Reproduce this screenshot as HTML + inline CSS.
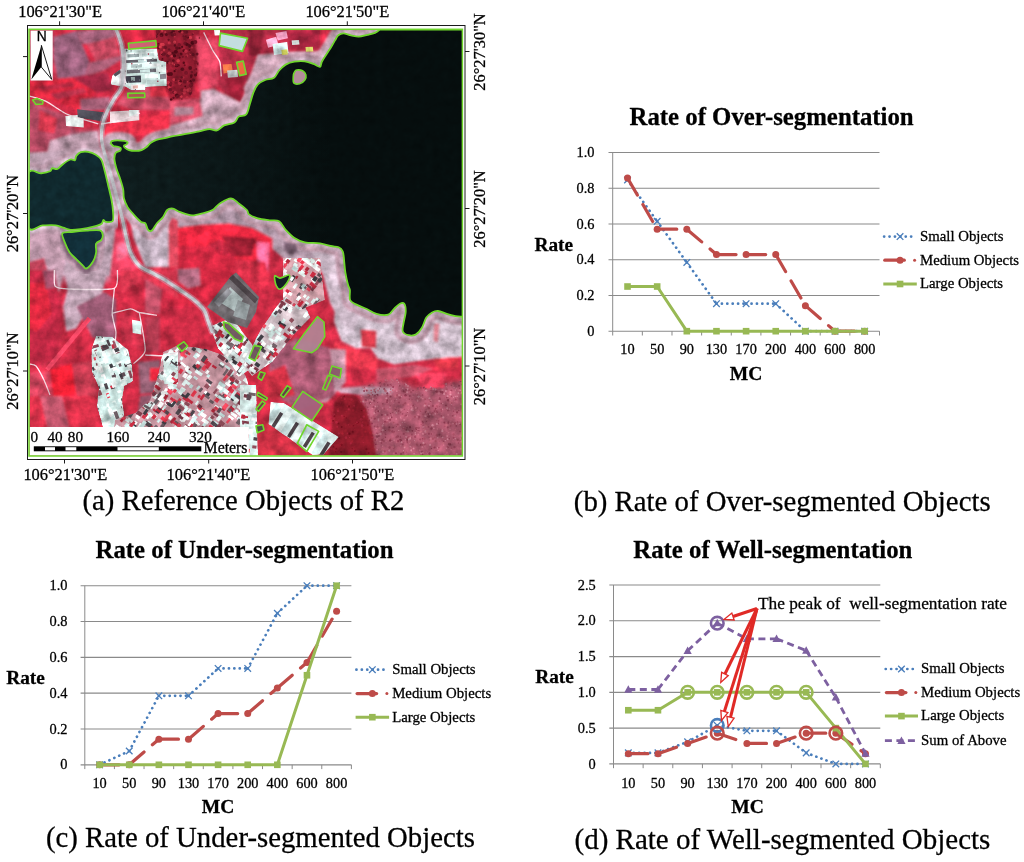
<!DOCTYPE html>
<html lang="en"><head><meta charset="utf-8"><title>Segmentation rates for R2</title>
<style>html,body{margin:0;padding:0;background:#fff}body{width:1024px;height:862px;overflow:hidden}svg{display:block}</style>
</head><body>
<svg width="1024" height="862" viewBox="0 0 1024 862" font-family="'Liberation Serif', 'DejaVu Serif', serif" fill="#000"><style>text{stroke:#000;stroke-width:0.28px;paint-order:stroke}</style>
<rect x="27.5" y="25.5" width="437.5" height="434" fill="#fff" stroke="#1a1a1a" stroke-width="1"/>
<path d="M59.6 21.3V25.5" stroke="#1a1a1a" stroke-width="1"/>
<path d="M203.5 21.3V25.5" stroke="#1a1a1a" stroke-width="1"/>
<path d="M347.3 21.3V25.5" stroke="#1a1a1a" stroke-width="1"/>
<path d="M64.5 459.5V463.5" stroke="#1a1a1a" stroke-width="1"/>
<path d="M208.7 459.5V463.5" stroke="#1a1a1a" stroke-width="1"/>
<path d="M352.5 459.5V463.5" stroke="#1a1a1a" stroke-width="1"/>
<path d="M23 56.6H27.5" stroke="#1a1a1a" stroke-width="1"/>
<path d="M23 213.5H27.5" stroke="#1a1a1a" stroke-width="1"/>
<path d="M23 371H27.5" stroke="#1a1a1a" stroke-width="1"/>
<path d="M465 51.5H469.5" stroke="#1a1a1a" stroke-width="1"/>
<path d="M465 208.5H469.5" stroke="#1a1a1a" stroke-width="1"/>
<path d="M465 366H469.5" stroke="#1a1a1a" stroke-width="1"/>
<defs>
<linearGradient id="lakeg" gradientUnits="userSpaceOnUse" x1="110" y1="0" x2="330" y2="0"><stop offset="0" stop-color="#101f20"/><stop offset="1" stop-color="#060e0e"/></linearGradient>
<clipPath id="mclip"><rect x="29.3" y="30" width="432.7" height="425.5"/></clipPath>
<filter id="landtex" x="0" y="0" width="100%" height="100%" color-interpolation-filters="sRGB">
 <feGaussianBlur in="SourceGraphic" stdDeviation="0.65" result="b"/>
 <feTurbulence type="fractalNoise" baseFrequency="0.085" numOctaves="4" seed="5" result="n"/>
 <feColorMatrix in="n" type="matrix" values="0.6 0.6 0 0 -0.1  0.6 0.6 0 0 -0.1  0.6 0.6 0 0 -0.1  0 0 0 0 1" result="g"/>
 <feComposite in="b" in2="g" operator="arithmetic" k1="0.8" k2="0.61" k3="0" k4="0"/>
</filter>
<filter id="watertex" x="0" y="0" width="100%" height="100%" color-interpolation-filters="sRGB">
 <feTurbulence type="fractalNoise" baseFrequency="0.12" numOctaves="3" seed="11" result="n"/>
 <feColorMatrix in="n" type="matrix" values="0.5 0.5 0 0 0  0.5 0.5 0 0 0  0.5 0.5 0 0 0  0 0 0 0 1" result="g"/>
 <feComposite in="SourceGraphic" in2="g" operator="arithmetic" k1="0.6" k2="0.7" k3="0" k4="0"/>
</filter>
<filter id="soft" x="-5%" y="-5%" width="110%" height="110%"><feGaussianBlur stdDeviation="0.9"/></filter>
<filter id="soft1" x="-5%" y="-5%" width="110%" height="110%"><feGaussianBlur stdDeviation="1.1"/></filter>
<filter id="soft3" x="-5%" y="-5%" width="110%" height="110%"><feGaussianBlur stdDeviation="2.6"/></filter>
</defs>
<g clip-path="url(#mclip)">
<g filter="url(#landtex)">
<rect x="20" y="20" width="460" height="450" fill="#cb2d45"/>
<g filter="url(#soft3)">
<polygon points="28.0,101.2 66.1,115.9 74.9,130.5 98.3,130.5 101.2,159.8 28.0,159.8" fill="#b86078" />
<polygon points="28.0,232.0 110.0,232.0 110.0,281.8 28.0,281.8" fill="#c4849a" />
<polygon points="28.0,270.0 61.7,270.0 63.2,313.9 57.3,363.7 28.0,372.5" fill="#c03048" />
<polygon points="360.3,387.9 394.0,376.2 414.5,387.9 473.1,379.1 473.1,475.8 360.3,475.8" fill="#a8566a" />
</g>
<g filter="url(#soft)">
<polygon points="28.0,28.0 54.4,28.0 54.4,81.5 28.0,82.2" fill="#b4364e" />
<polygon points="53.6,36.8 76.3,30.9 89.5,61.7 85.1,76.3 57.3,78.5 53.6,57.3" fill="#98607a" />
<polygon points="76.3,30.9 114.4,28.0 115.9,36.8 89.5,44.1 82.2,44.1" fill="#a6647c" />
<polygon points="86.6,44.1 115.9,36.8 119.5,55.8 96.8,63.2" fill="#c64a5e" />
<polygon points="89.5,62.4 121.7,55.8 121.7,59.5 104.2,70.5 85.1,76.3" fill="#aa5e76" />
<polygon points="71.9,77.1 107.1,71.9 113.7,89.5 96.8,92.4" fill="#a32c44" />
<polygon points="28.0,81.5 71.9,77.8 96.8,92.4 77.8,110.0 45.6,98.3 28.0,94.6" fill="#da2c40" />
<polygon points="36.8,86.6 71.9,82.2 74.9,86.6 41.2,91.0" fill="#b02a40" />
<polygon points="50.0,93.9 83.7,88.1 86.6,92.4 57.3,99.8" fill="#b4304a" />
<polygon points="80.0,99.0 110.0,96.8 110.8,109.3 80.7,111.5" fill="#9e5c72" />
<polygon points="104.2,121.7 178.0,110.0 183.3,130.5 130.5,137.1 104.2,137.1" fill="#e63049" />
<polygon points="130.5,86.6 168.6,86.6 174.5,110.0 133.5,110.0 115.9,104.2" fill="#ba4a5e" />
<polygon points="149.6,86.6 167.2,86.6 168.6,96.8 150.3,96.8" fill="#dc3448" />
<polygon points="118.8,30.2 156.9,30.2 156.9,52.9 124.7,52.9" fill="#d02c42" />
<polygon points="28.0,104.2 64.6,115.9 71.9,130.5 50.0,154.0 28.0,154.0" fill="#b04860" />
<polygon points="39.7,110.0 57.3,118.8 54.4,133.5 38.3,130.5" fill="#d83a50" />
<polygon points="50.0,140.8 71.9,134.2 98.3,130.5 101.2,159.8 45.6,159.8" fill="#bd9cac" />
<polygon points="28.0,152.9 76.3,150.0 76.3,155.9 63.2,163.9 50.0,171.2 28.0,175.6" fill="#bda0b0" />
<polygon points="28.0,166.1 44.1,163.9 48.5,170.5 28.0,174.6" fill="#9c8492" />
<polygon points="155.0,28.0 200.0,28.0 198.0,72.0 190.0,98.0 170.0,101.0 160.0,72.0" fill="#8c1c2e" />
<polygon points="196.0,36.0 220.0,40.0 218.0,86.6 199.0,92.0" fill="#df4662" />
<polygon points="218.3,28.0 320.0,28.0 320.0,55.8 290.1,60.2 257.9,61.7 246.2,91.0 231.5,101.2 218.3,86.6" fill="#b62e46" />
<polygon points="249.1,28.0 263.7,28.0 260.8,55.8 249.1,55.8" fill="#8e2034" />
<polygon points="225.7,79.3 243.2,77.8 243.2,104.2 231.5,104.2" fill="#9e2438" />
<polygon points="287.2,32.4 320.0,29.5 320.0,48.5 290.1,50.0" fill="#a82840" />
<polygon points="257.9,55.1 290.1,52.2 320.0,51.4 320.0,66.1 287.2,61.7 272.5,76.3 257.9,83.7 246.2,92.4 244.0,88.1 252.0,71.9" fill="#c4a0b0" />
<polygon points="200.8,91.0 213.9,88.8 240.3,102.7 252.0,86.6 256.4,92.4 240.3,124.7 213.9,129.1 170.0,137.1 170.0,124.7 199.3,115.9" fill="#c9a6b6" />
<polygon points="170.0,101.2 199.3,98.3 203.0,115.9 170.0,126.1" fill="#da526c" />
<polygon points="174.4,107.1 193.4,107.1 193.4,114.4 174.4,115.9" fill="#b08494" />
<polygon points="177.3,228.3 199.3,225.4 228.6,223.9 252.0,228.3 271.1,238.6 272.5,248.8 265.2,262.0 235.9,259.1 221.3,238.6 206.6,245.9 196.4,266.4 178.8,256.2" fill="#ef2c42" />
<polygon points="221.3,235.7 255.0,238.6 252.0,256.2 231.5,256.2" fill="#a22234" />
<polygon points="256.4,241.5 269.6,243.0 268.1,275.2 257.9,273.7" fill="#fb6c98" />
<polygon points="170.0,245.9 206.6,245.9 235.9,259.1 233.0,275.2 206.6,306.0 170.0,306.0" fill="#d22a42" />
<polygon points="174.4,269.4 199.3,267.9 200.8,285.5 187.6,288.4 175.9,279.6" fill="#b06a80" />
<polygon points="235.9,259.1 265.2,262.0 271.1,282.5 257.9,291.3 234.4,273.7" fill="#d83048" />
<polygon points="272.5,228.3 320.0,244.4 320.0,262.0 287.2,262.0 272.5,248.8" fill="#b9a0b0" />
<polygon points="170.0,207.8 180.3,211.5 192.0,214.9 203.7,212.5 212.5,209.3 219.8,202.7 230.8,197.6 238.8,202.7 246.9,209.3 249.1,213.7 257.9,217.8 269.6,219.5 279.1,220.7 285.7,229.1 294.5,237.1 320.0,242.7 320.0,256.2 287.2,256.2 272.5,238.6 252.0,227.6 228.6,223.2 199.3,224.7 177.3,227.6 174.4,241.5 170.0,244.4" fill="#ad94a4" />
<polygon points="129.1,214.4 149.6,232.0 165.7,214.4 178.0,211.5 178.0,240.8 168.6,267.2 145.2,267.2 133.5,237.9" fill="#c6b4c3" />
<polygon points="168.6,215.9 178.0,214.4 178.0,267.2 168.6,267.2" fill="#d8485c" />
<polygon points="104.2,232.0 124.7,232.0 130.5,252.5 139.3,267.2 118.8,276.0 104.2,276.0" fill="#ea4464" />
<polygon points="115.9,243.7 126.1,240.8 129.1,255.5 117.4,261.3" fill="#ff6c8c" />
<polygon points="28.0,232.0 61.7,232.0 61.7,276.0 28.0,276.0" fill="#c47890" />
<polygon points="28.0,240.8 45.6,237.9 57.3,252.5 57.3,276.0 28.0,276.0" fill="#d85068" />
<polygon points="28.0,227.6 63.2,227.6 66.1,246.7 76.3,267.2 86.6,276.0 96.8,261.3 104.2,232.0 115.9,223.2 110.0,276.0 57.3,276.0 54.4,243.7 28.0,237.9" fill="#bda2b2" />
<polygon points="29.0,230.0 62.0,230.0 66.0,260.0 60.0,290.0 45.0,310.0 29.0,316.0" fill="#c09aac" />
<polygon points="29.0,262.0 44.0,258.0 50.0,280.0 40.0,300.0 29.0,300.0" fill="#cc4860" />
<polygon points="64.6,270.0 107.1,270.0 102.7,292.0 89.5,306.6 76.3,328.6 66.1,331.5 63.2,306.6 67.5,289.0" fill="#bfa3b3" />
<polygon points="76.3,306.6 104.2,292.0 115.9,299.3 115.9,340.3 92.4,337.4" fill="#9c5c74" />
<polygon points="28.0,270.0 54.4,270.0 63.2,313.9 57.3,357.9 28.0,369.6" fill="#c22c44" />
<polygon points="28.0,284.6 45.6,281.7 51.4,313.9 36.8,331.5 28.0,328.6" fill="#de2c40" />
<polygon points="42.6,270.0 54.4,270.0 57.3,287.6 45.6,289.0" fill="#a05068" />
<polygon points="50.0,369.6 71.9,363.7 76.3,396.0 52.9,396.0" fill="#ee2436" />
<polygon points="28.0,372.5 50.0,371.1 52.9,396.0 28.0,396.0" fill="#d84660" />
<polygon points="71.9,363.7 91.0,360.8 98.3,396.0 76.3,396.0" fill="#c03a50" />
<polygon points="145.2,277.3 162.8,278.8 159.8,313.9 145.2,312.5" fill="#c8546c" />
<polygon points="118.8,270.0 178.0,270.0 178.0,299.3 145.2,278.8 121.7,293.4" fill="#d83850" />
<polygon points="118.8,313.9 139.3,313.9 142.3,352.0 121.7,340.3" fill="#c83048" />
<polygon points="145.2,316.9 159.8,316.9 159.8,352.0 145.2,352.0" fill="#b03a50" />
<polygon points="138.0,362.0 160.0,360.0 160.0,392.0 140.0,394.0" fill="#8e5c6e" />
<polygon points="150.0,368.0 162.0,368.0 162.0,381.0 150.0,381.0" fill="#ec2c40" />
<polygon points="140.0,396.0 156.0,394.0 152.0,412.0 138.0,412.0" fill="#94586c" />
<polygon points="29.0,396.0 95.0,396.0 100.0,430.0 29.0,430.0" fill="#d63048" />
<polygon points="40.0,396.0 62.0,396.0 70.0,430.0 48.0,430.0" fill="#c85a70" />
<polygon points="335.4,300.0 350.1,300.0 355.9,304.4 376.4,313.9 388.2,314.6 399.9,303.7 405.7,311.7 402.8,331.5 416.0,334.4 426.3,317.6 438.0,311.0 473.1,316.8 473.1,355.7 436.5,358.6 414.5,361.5 394.0,364.4 377.9,358.6 370.6,348.3 355.9,348.3 341.3,341.0 334.0,322.0" fill="#cfbfcc" />
<polygon points="298.0,236.0 320.0,242.0 340.0,246.0 346.0,260.0 349.0,290.0 352.0,302.0 362.0,308.0 354.0,332.0 340.0,322.0 330.0,303.0 323.0,275.0 312.0,252.0" fill="#c9b6c4" />
<polygon points="360.3,329.3 376.4,330.8 376.4,348.3 361.8,346.9" fill="#cf3a4a" />
<polygon points="433.6,323.4 439.4,323.4 438.0,342.5 433.6,341.0" fill="#d8808c" />
<polygon points="334.0,341.0 355.9,349.8 377.9,358.6 377.9,370.3 355.9,368.8 334.0,358.6" fill="#ea3a50" />
<polygon points="433.6,358.6 458.5,357.1 458.5,368.8 436.5,368.8" fill="#e43a4c" />
<polygon points="414.5,373.2 446.8,373.2 443.8,387.9 423.3,387.9" fill="#fb4464" />
<polygon points="376.4,368.8 414.5,364.4 433.6,368.8 414.5,376.2 394.0,379.1 376.4,382.0" fill="#c8546a" />
<polygon points="320.8,348.3 345.7,349.8 345.7,382.0 326.6,402.5 314.9,402.5" fill="#c494a6" />
<polygon points="334.0,387.9 360.3,386.4 394.0,387.9 391.1,393.7 367.7,395.2 341.3,393.7" fill="#bc94a6" />
<polygon points="270.0,352.0 296.0,338.0 330.0,348.0 335.0,395.0 300.0,410.0 268.0,392.0" fill="#a85a72" />
<polygon points="262.0,375.0 285.0,365.0 295.0,395.0 270.0,400.0" fill="#d03044" />
<polygon points="251.0,424.0 270.0,420.0 300.0,445.0 300.0,460.0 251.0,460.0" fill="#cf3044" />
</g>
<clipPath id="cp90"><polygon points="360.3,387.9 394.0,376.2 414.5,387.9 473.1,379.1 473.1,475.8 360.3,475.8"/></clipPath>
<g clip-path="url(#cp90)">
<circle cx="396.9" cy="391.2" r="1.0" fill="#bc6c7e"/>
<circle cx="453.0" cy="385.5" r="0.9" fill="#b46070"/>
<circle cx="384.6" cy="384.7" r="0.8" fill="#904054"/>
<circle cx="370.6" cy="418.5" r="1.1" fill="#bc6c7e"/>
<circle cx="467.2" cy="439.0" r="0.9" fill="#bc6c7e"/>
<circle cx="425.4" cy="415.7" r="1.2" fill="#bc6c7e"/>
<circle cx="423.1" cy="389.4" r="0.8" fill="#b46070"/>
<circle cx="373.6" cy="406.9" r="1.1" fill="#904054"/>
<circle cx="372.0" cy="433.1" r="0.6" fill="#bc6c7e"/>
<circle cx="422.1" cy="382.4" r="0.5" fill="#904054"/>
<circle cx="416.3" cy="429.1" r="1.0" fill="#88384c"/>
<circle cx="426.4" cy="421.3" r="0.7" fill="#904054"/>
<circle cx="439.2" cy="400.5" r="0.9" fill="#b46070"/>
<circle cx="416.2" cy="410.4" r="0.8" fill="#b46070"/>
<circle cx="470.9" cy="387.9" r="0.8" fill="#c07a8a"/>
<circle cx="377.5" cy="424.9" r="0.5" fill="#9a485a"/>
<circle cx="369.1" cy="431.8" r="1.1" fill="#c07a8a"/>
<circle cx="398.7" cy="411.0" r="0.8" fill="#88384c"/>
<circle cx="368.1" cy="385.5" r="0.7" fill="#9a485a"/>
<circle cx="435.2" cy="382.2" r="1.0" fill="#9a485a"/>
<circle cx="425.5" cy="444.0" r="0.8" fill="#9a485a"/>
<circle cx="403.8" cy="442.8" r="0.5" fill="#88384c"/>
<circle cx="400.4" cy="437.0" r="0.8" fill="#904054"/>
<circle cx="447.0" cy="389.1" r="0.7" fill="#88384c"/>
<circle cx="463.7" cy="425.6" r="0.6" fill="#88384c"/>
<circle cx="422.3" cy="464.2" r="1.1" fill="#b46070"/>
<circle cx="391.7" cy="417.5" r="0.8" fill="#88384c"/>
<circle cx="468.4" cy="391.2" r="0.6" fill="#904054"/>
<circle cx="434.6" cy="377.4" r="1.1" fill="#904054"/>
<circle cx="390.0" cy="376.6" r="0.8" fill="#c07a8a"/>
<circle cx="429.1" cy="407.9" r="0.6" fill="#b46070"/>
<circle cx="467.5" cy="441.4" r="1.0" fill="#88384c"/>
<circle cx="461.8" cy="453.9" r="1.1" fill="#b46070"/>
<circle cx="404.6" cy="415.9" r="0.6" fill="#9a485a"/>
<circle cx="405.5" cy="395.2" r="1.2" fill="#88384c"/>
<circle cx="378.6" cy="410.0" r="0.5" fill="#bc6c7e"/>
<circle cx="424.3" cy="429.6" r="1.2" fill="#b46070"/>
<circle cx="363.2" cy="463.3" r="0.9" fill="#904054"/>
<circle cx="431.9" cy="471.3" r="0.9" fill="#88384c"/>
<circle cx="374.2" cy="460.7" r="1.2" fill="#88384c"/>
<circle cx="414.5" cy="407.2" r="0.6" fill="#9a485a"/>
<circle cx="399.0" cy="402.5" r="1.1" fill="#904054"/>
<circle cx="418.6" cy="396.6" r="1.2" fill="#c07a8a"/>
<circle cx="376.9" cy="430.3" r="0.5" fill="#b46070"/>
<circle cx="394.0" cy="440.2" r="0.6" fill="#c07a8a"/>
<circle cx="418.8" cy="466.6" r="0.7" fill="#904054"/>
<circle cx="420.4" cy="453.8" r="0.7" fill="#904054"/>
<circle cx="429.5" cy="454.7" r="1.0" fill="#904054"/>
<circle cx="451.3" cy="457.7" r="1.0" fill="#904054"/>
<circle cx="382.9" cy="425.3" r="1.0" fill="#bc6c7e"/>
<circle cx="449.5" cy="423.2" r="0.6" fill="#b46070"/>
<circle cx="468.2" cy="420.7" r="1.2" fill="#c07a8a"/>
<circle cx="468.0" cy="412.5" r="0.7" fill="#904054"/>
<circle cx="413.4" cy="409.8" r="0.8" fill="#b46070"/>
<circle cx="455.1" cy="423.9" r="1.0" fill="#9a485a"/>
<circle cx="369.9" cy="442.0" r="1.1" fill="#9a485a"/>
<circle cx="444.9" cy="423.8" r="0.6" fill="#9a485a"/>
<circle cx="397.8" cy="455.9" r="1.2" fill="#88384c"/>
<circle cx="412.6" cy="450.2" r="0.6" fill="#904054"/>
<circle cx="379.5" cy="388.8" r="0.6" fill="#88384c"/>
<circle cx="451.3" cy="390.7" r="1.1" fill="#88384c"/>
<circle cx="434.5" cy="411.1" r="0.9" fill="#904054"/>
<circle cx="362.8" cy="455.8" r="1.0" fill="#bc6c7e"/>
<circle cx="419.7" cy="469.2" r="0.8" fill="#904054"/>
<circle cx="453.5" cy="397.2" r="0.7" fill="#c07a8a"/>
<circle cx="416.9" cy="452.2" r="0.7" fill="#b46070"/>
<circle cx="407.6" cy="389.2" r="1.1" fill="#c07a8a"/>
<circle cx="461.6" cy="442.2" r="1.1" fill="#b46070"/>
<circle cx="407.8" cy="467.6" r="0.9" fill="#b46070"/>
<circle cx="377.5" cy="427.0" r="1.1" fill="#904054"/>
<circle cx="429.0" cy="453.5" r="0.6" fill="#904054"/>
<circle cx="413.7" cy="448.4" r="0.9" fill="#c07a8a"/>
<circle cx="437.3" cy="429.0" r="0.8" fill="#bc6c7e"/>
<circle cx="460.0" cy="381.8" r="0.6" fill="#bc6c7e"/>
<circle cx="447.4" cy="426.7" r="0.9" fill="#bc6c7e"/>
<circle cx="410.3" cy="437.2" r="0.9" fill="#b46070"/>
<circle cx="382.8" cy="403.8" r="0.9" fill="#88384c"/>
<circle cx="417.6" cy="400.8" r="0.9" fill="#c07a8a"/>
<circle cx="464.4" cy="465.1" r="0.6" fill="#88384c"/>
<circle cx="375.8" cy="388.3" r="0.8" fill="#bc6c7e"/>
<circle cx="436.0" cy="418.8" r="0.6" fill="#c07a8a"/>
<circle cx="448.8" cy="465.5" r="0.6" fill="#9a485a"/>
<circle cx="432.9" cy="412.6" r="0.7" fill="#904054"/>
<circle cx="469.5" cy="398.0" r="1.2" fill="#88384c"/>
<circle cx="460.1" cy="392.4" r="1.0" fill="#904054"/>
<circle cx="378.5" cy="419.1" r="0.9" fill="#c07a8a"/>
<circle cx="407.9" cy="411.7" r="0.6" fill="#c07a8a"/>
<circle cx="362.5" cy="431.4" r="0.8" fill="#bc6c7e"/>
<circle cx="403.7" cy="427.7" r="0.7" fill="#bc6c7e"/>
<circle cx="373.1" cy="467.7" r="0.7" fill="#bc6c7e"/>
<circle cx="369.8" cy="403.3" r="1.1" fill="#904054"/>
<circle cx="390.8" cy="389.1" r="0.8" fill="#9a485a"/>
<circle cx="452.7" cy="401.9" r="0.6" fill="#b46070"/>
<circle cx="424.7" cy="445.9" r="0.6" fill="#bc6c7e"/>
<circle cx="450.5" cy="394.4" r="1.1" fill="#c07a8a"/>
<circle cx="466.2" cy="439.4" r="1.1" fill="#bc6c7e"/>
<circle cx="428.9" cy="398.3" r="0.7" fill="#bc6c7e"/>
<circle cx="411.5" cy="409.9" r="0.9" fill="#c07a8a"/>
<circle cx="430.5" cy="380.5" r="1.0" fill="#bc6c7e"/>
<circle cx="469.7" cy="402.3" r="0.6" fill="#c07a8a"/>
<circle cx="431.2" cy="429.1" r="0.6" fill="#88384c"/>
<circle cx="416.7" cy="393.9" r="0.7" fill="#bc6c7e"/>
<circle cx="472.5" cy="379.8" r="0.5" fill="#b46070"/>
<circle cx="422.5" cy="395.0" r="0.8" fill="#88384c"/>
<circle cx="372.3" cy="457.7" r="0.8" fill="#88384c"/>
<circle cx="421.9" cy="464.7" r="1.2" fill="#c07a8a"/>
<circle cx="437.9" cy="474.0" r="0.7" fill="#9a485a"/>
<circle cx="442.5" cy="390.1" r="1.2" fill="#bc6c7e"/>
<circle cx="454.7" cy="377.6" r="0.9" fill="#c07a8a"/>
<circle cx="408.9" cy="381.7" r="1.0" fill="#88384c"/>
<circle cx="458.5" cy="443.0" r="0.7" fill="#904054"/>
<circle cx="438.5" cy="380.7" r="0.6" fill="#c07a8a"/>
<circle cx="410.6" cy="402.4" r="1.2" fill="#b46070"/>
<circle cx="396.8" cy="379.6" r="1.1" fill="#904054"/>
<circle cx="400.6" cy="376.3" r="0.8" fill="#88384c"/>
<circle cx="391.8" cy="441.5" r="0.7" fill="#bc6c7e"/>
<circle cx="370.6" cy="457.5" r="0.6" fill="#b46070"/>
<circle cx="365.0" cy="378.4" r="0.7" fill="#904054"/>
<circle cx="369.9" cy="471.6" r="1.1" fill="#904054"/>
<circle cx="434.5" cy="447.5" r="1.1" fill="#88384c"/>
<circle cx="446.5" cy="448.0" r="0.8" fill="#c07a8a"/>
<circle cx="442.0" cy="440.2" r="0.5" fill="#9a485a"/>
<circle cx="460.9" cy="438.7" r="1.0" fill="#b46070"/>
<circle cx="376.0" cy="428.3" r="0.9" fill="#bc6c7e"/>
<circle cx="453.5" cy="434.3" r="1.1" fill="#9a485a"/>
<circle cx="468.2" cy="440.2" r="0.6" fill="#bc6c7e"/>
<circle cx="375.3" cy="412.1" r="0.6" fill="#88384c"/>
<circle cx="423.3" cy="438.7" r="0.9" fill="#9a485a"/>
<circle cx="387.9" cy="402.4" r="0.8" fill="#bc6c7e"/>
<circle cx="444.7" cy="426.3" r="0.9" fill="#9a485a"/>
<circle cx="419.7" cy="450.4" r="0.8" fill="#bc6c7e"/>
<circle cx="455.8" cy="399.6" r="1.0" fill="#904054"/>
<circle cx="443.8" cy="473.4" r="0.8" fill="#88384c"/>
<circle cx="369.0" cy="466.9" r="0.7" fill="#bc6c7e"/>
<circle cx="429.9" cy="440.2" r="0.6" fill="#904054"/>
<circle cx="397.8" cy="441.1" r="1.0" fill="#b46070"/>
<circle cx="424.4" cy="377.4" r="0.5" fill="#c07a8a"/>
<circle cx="470.0" cy="386.1" r="0.7" fill="#88384c"/>
<circle cx="393.1" cy="427.6" r="0.8" fill="#88384c"/>
<circle cx="446.9" cy="475.1" r="0.9" fill="#c07a8a"/>
<circle cx="470.7" cy="469.4" r="0.5" fill="#88384c"/>
<circle cx="369.0" cy="426.6" r="1.2" fill="#c07a8a"/>
<circle cx="404.0" cy="467.5" r="1.2" fill="#bc6c7e"/>
<circle cx="425.9" cy="390.3" r="0.9" fill="#c07a8a"/>
<circle cx="375.3" cy="457.9" r="0.9" fill="#bc6c7e"/>
<circle cx="439.7" cy="399.2" r="1.1" fill="#88384c"/>
<circle cx="404.8" cy="392.0" r="1.2" fill="#9a485a"/>
<circle cx="411.2" cy="406.2" r="0.6" fill="#c07a8a"/>
<circle cx="402.8" cy="388.2" r="0.7" fill="#c07a8a"/>
<circle cx="445.0" cy="459.7" r="0.6" fill="#904054"/>
<circle cx="440.8" cy="466.0" r="0.7" fill="#c07a8a"/>
<circle cx="367.7" cy="415.0" r="1.1" fill="#bc6c7e"/>
<circle cx="401.0" cy="418.8" r="0.7" fill="#bc6c7e"/>
<circle cx="392.0" cy="381.3" r="1.0" fill="#9a485a"/>
<circle cx="465.9" cy="401.0" r="0.7" fill="#b46070"/>
<circle cx="395.9" cy="453.2" r="1.0" fill="#88384c"/>
<circle cx="460.1" cy="457.0" r="0.9" fill="#b46070"/>
<circle cx="422.3" cy="447.8" r="0.5" fill="#9a485a"/>
<circle cx="406.7" cy="437.4" r="0.6" fill="#c07a8a"/>
<circle cx="415.1" cy="467.0" r="0.9" fill="#904054"/>
<circle cx="413.6" cy="410.4" r="0.7" fill="#9a485a"/>
<circle cx="443.7" cy="441.2" r="0.8" fill="#904054"/>
<circle cx="394.3" cy="431.7" r="0.8" fill="#904054"/>
<circle cx="432.9" cy="383.7" r="0.9" fill="#88384c"/>
<circle cx="422.4" cy="421.3" r="0.7" fill="#88384c"/>
<circle cx="408.5" cy="430.7" r="0.7" fill="#904054"/>
<circle cx="398.9" cy="385.2" r="0.7" fill="#c07a8a"/>
<circle cx="451.6" cy="396.3" r="0.5" fill="#88384c"/>
<circle cx="403.5" cy="450.5" r="0.6" fill="#c07a8a"/>
<circle cx="398.5" cy="382.3" r="0.7" fill="#c07a8a"/>
<circle cx="374.5" cy="426.3" r="0.9" fill="#904054"/>
<circle cx="370.8" cy="465.5" r="0.8" fill="#9a485a"/>
<circle cx="410.6" cy="471.2" r="1.1" fill="#bc6c7e"/>
<circle cx="374.7" cy="418.5" r="1.0" fill="#88384c"/>
<circle cx="469.5" cy="425.0" r="0.6" fill="#b46070"/>
<circle cx="456.8" cy="473.0" r="0.7" fill="#bc6c7e"/>
<circle cx="385.6" cy="391.3" r="1.2" fill="#bc6c7e"/>
<circle cx="466.5" cy="448.1" r="1.0" fill="#88384c"/>
<circle cx="369.9" cy="453.5" r="0.5" fill="#904054"/>
<circle cx="386.6" cy="467.8" r="1.0" fill="#c07a8a"/>
<circle cx="468.9" cy="438.6" r="0.9" fill="#88384c"/>
<circle cx="439.1" cy="387.3" r="0.5" fill="#b46070"/>
<circle cx="466.8" cy="395.3" r="0.7" fill="#b46070"/>
<circle cx="360.5" cy="429.7" r="1.2" fill="#c07a8a"/>
<circle cx="468.5" cy="440.4" r="1.1" fill="#88384c"/>
<circle cx="419.7" cy="430.7" r="0.5" fill="#88384c"/>
<circle cx="439.8" cy="406.8" r="0.5" fill="#88384c"/>
<circle cx="460.1" cy="440.6" r="0.6" fill="#904054"/>
<circle cx="435.6" cy="468.3" r="0.7" fill="#bc6c7e"/>
<circle cx="438.8" cy="447.7" r="0.8" fill="#88384c"/>
<circle cx="382.7" cy="455.6" r="1.0" fill="#b46070"/>
<circle cx="367.9" cy="425.5" r="0.6" fill="#904054"/>
<circle cx="386.4" cy="398.2" r="1.0" fill="#c07a8a"/>
<circle cx="372.6" cy="438.3" r="0.9" fill="#904054"/>
<circle cx="415.0" cy="466.8" r="0.5" fill="#b46070"/>
<circle cx="376.8" cy="415.4" r="0.6" fill="#b46070"/>
<circle cx="376.3" cy="381.3" r="0.5" fill="#88384c"/>
<circle cx="411.1" cy="447.1" r="0.7" fill="#bc6c7e"/>
<circle cx="472.8" cy="469.0" r="0.7" fill="#904054"/>
<circle cx="433.9" cy="428.4" r="0.8" fill="#c07a8a"/>
<circle cx="435.3" cy="413.9" r="0.8" fill="#c07a8a"/>
<circle cx="410.2" cy="387.0" r="0.6" fill="#bc6c7e"/>
<circle cx="400.0" cy="471.3" r="0.6" fill="#904054"/>
<circle cx="403.2" cy="452.7" r="0.7" fill="#88384c"/>
<circle cx="370.2" cy="446.4" r="0.6" fill="#b46070"/>
<circle cx="464.0" cy="395.4" r="0.8" fill="#88384c"/>
<circle cx="363.8" cy="417.1" r="1.1" fill="#88384c"/>
<circle cx="364.9" cy="379.6" r="0.5" fill="#bc6c7e"/>
<circle cx="389.3" cy="450.6" r="1.1" fill="#c07a8a"/>
<circle cx="401.3" cy="409.5" r="1.2" fill="#bc6c7e"/>
<circle cx="389.9" cy="447.5" r="0.7" fill="#c07a8a"/>
<circle cx="393.9" cy="448.0" r="0.9" fill="#9a485a"/>
<circle cx="467.1" cy="382.7" r="1.1" fill="#bc6c7e"/>
<circle cx="413.9" cy="471.5" r="1.2" fill="#88384c"/>
<circle cx="449.4" cy="467.2" r="1.1" fill="#904054"/>
<circle cx="465.0" cy="394.4" r="1.1" fill="#9a485a"/>
<circle cx="394.5" cy="445.1" r="0.6" fill="#904054"/>
<circle cx="397.3" cy="408.0" r="0.8" fill="#b46070"/>
<circle cx="369.2" cy="395.8" r="1.0" fill="#904054"/>
<circle cx="406.3" cy="440.9" r="0.8" fill="#b46070"/>
<circle cx="397.1" cy="473.8" r="1.1" fill="#bc6c7e"/>
<circle cx="390.2" cy="384.5" r="0.6" fill="#88384c"/>
<circle cx="471.8" cy="473.0" r="0.6" fill="#904054"/>
<circle cx="407.4" cy="438.0" r="1.0" fill="#9a485a"/>
<circle cx="421.1" cy="453.2" r="1.0" fill="#c07a8a"/>
<circle cx="393.5" cy="432.6" r="0.8" fill="#9a485a"/>
<circle cx="389.7" cy="419.9" r="0.6" fill="#904054"/>
<circle cx="377.6" cy="464.2" r="0.9" fill="#c07a8a"/>
<circle cx="367.6" cy="401.2" r="0.7" fill="#b46070"/>
<circle cx="386.4" cy="456.7" r="1.0" fill="#bc6c7e"/>
<circle cx="371.9" cy="423.5" r="1.1" fill="#88384c"/>
<circle cx="463.5" cy="380.2" r="0.7" fill="#bc6c7e"/>
<circle cx="366.0" cy="436.0" r="1.1" fill="#904054"/>
<circle cx="465.2" cy="413.2" r="1.1" fill="#88384c"/>
<circle cx="428.4" cy="453.4" r="1.0" fill="#bc6c7e"/>
<circle cx="372.3" cy="435.5" r="0.9" fill="#904054"/>
<circle cx="364.6" cy="410.0" r="0.5" fill="#c07a8a"/>
<circle cx="364.7" cy="449.1" r="1.1" fill="#bc6c7e"/>
<circle cx="452.7" cy="416.9" r="0.8" fill="#b46070"/>
<circle cx="395.5" cy="396.4" r="1.1" fill="#b46070"/>
<circle cx="414.9" cy="416.8" r="1.1" fill="#9a485a"/>
<circle cx="422.4" cy="439.8" r="0.6" fill="#904054"/>
<circle cx="405.2" cy="403.2" r="1.2" fill="#9a485a"/>
<circle cx="395.0" cy="471.1" r="0.7" fill="#b46070"/>
<circle cx="460.0" cy="417.4" r="0.5" fill="#c07a8a"/>
<circle cx="433.0" cy="415.1" r="0.8" fill="#bc6c7e"/>
<circle cx="409.3" cy="391.8" r="0.6" fill="#bc6c7e"/>
<circle cx="406.2" cy="464.1" r="0.8" fill="#904054"/>
<circle cx="375.0" cy="381.3" r="0.6" fill="#88384c"/>
<circle cx="370.4" cy="438.1" r="0.8" fill="#b46070"/>
<circle cx="379.7" cy="410.8" r="0.6" fill="#904054"/>
<circle cx="464.7" cy="387.0" r="0.8" fill="#904054"/>
<circle cx="394.4" cy="459.6" r="0.5" fill="#88384c"/>
<circle cx="395.8" cy="436.7" r="0.9" fill="#bc6c7e"/>
<circle cx="462.3" cy="438.0" r="1.1" fill="#904054"/>
<circle cx="432.6" cy="461.5" r="0.9" fill="#b46070"/>
<circle cx="455.8" cy="458.8" r="0.6" fill="#904054"/>
<circle cx="365.0" cy="469.7" r="0.6" fill="#c07a8a"/>
<circle cx="374.2" cy="400.8" r="1.0" fill="#904054"/>
<circle cx="365.0" cy="432.2" r="1.0" fill="#bc6c7e"/>
<circle cx="435.7" cy="408.5" r="0.8" fill="#88384c"/>
<circle cx="422.4" cy="438.6" r="0.7" fill="#88384c"/>
<circle cx="395.1" cy="401.0" r="0.8" fill="#c07a8a"/>
<circle cx="410.7" cy="419.8" r="0.5" fill="#b46070"/>
<circle cx="471.6" cy="422.5" r="0.8" fill="#b46070"/>
<circle cx="448.3" cy="421.8" r="0.6" fill="#88384c"/>
<circle cx="405.5" cy="382.9" r="0.8" fill="#c07a8a"/>
<circle cx="370.7" cy="420.2" r="0.9" fill="#bc6c7e"/>
<circle cx="364.9" cy="389.1" r="1.1" fill="#c07a8a"/>
<circle cx="448.0" cy="427.1" r="0.5" fill="#b46070"/>
<circle cx="461.3" cy="441.2" r="1.0" fill="#bc6c7e"/>
<circle cx="457.0" cy="475.4" r="1.0" fill="#bc6c7e"/>
<circle cx="382.2" cy="474.0" r="0.8" fill="#904054"/>
<circle cx="437.7" cy="448.0" r="0.7" fill="#c07a8a"/>
<circle cx="429.2" cy="401.3" r="0.7" fill="#b46070"/>
<circle cx="391.4" cy="457.4" r="0.6" fill="#b46070"/>
<circle cx="469.1" cy="424.0" r="0.9" fill="#b46070"/>
<circle cx="417.4" cy="407.9" r="0.5" fill="#904054"/>
<circle cx="405.8" cy="439.6" r="0.7" fill="#c07a8a"/>
<circle cx="461.3" cy="393.0" r="1.0" fill="#bc6c7e"/>
<circle cx="447.0" cy="381.0" r="1.1" fill="#88384c"/>
<circle cx="423.0" cy="433.9" r="1.1" fill="#bc6c7e"/>
<circle cx="388.8" cy="429.5" r="1.1" fill="#9a485a"/>
<circle cx="450.3" cy="402.5" r="1.2" fill="#b46070"/>
<circle cx="376.8" cy="409.1" r="0.6" fill="#904054"/>
<circle cx="380.3" cy="450.2" r="0.5" fill="#b46070"/>
<circle cx="388.9" cy="439.8" r="1.2" fill="#b46070"/>
<circle cx="465.1" cy="465.4" r="1.0" fill="#9a485a"/>
<circle cx="364.1" cy="391.0" r="0.9" fill="#88384c"/>
<circle cx="407.4" cy="412.4" r="0.5" fill="#88384c"/>
<circle cx="386.0" cy="441.2" r="0.5" fill="#bc6c7e"/>
<circle cx="424.3" cy="406.4" r="0.9" fill="#b46070"/>
<circle cx="385.6" cy="434.3" r="0.9" fill="#904054"/>
<circle cx="401.6" cy="458.7" r="0.6" fill="#bc6c7e"/>
<circle cx="466.0" cy="400.4" r="0.6" fill="#bc6c7e"/>
<circle cx="367.5" cy="390.6" r="1.0" fill="#c07a8a"/>
<circle cx="405.7" cy="402.5" r="0.5" fill="#9a485a"/>
<circle cx="452.9" cy="465.1" r="0.9" fill="#b46070"/>
<circle cx="410.4" cy="469.5" r="1.0" fill="#904054"/>
<circle cx="379.0" cy="376.2" r="0.5" fill="#bc6c7e"/>
<circle cx="406.1" cy="399.8" r="0.5" fill="#bc6c7e"/>
<circle cx="361.7" cy="431.0" r="1.2" fill="#904054"/>
<circle cx="406.9" cy="427.8" r="0.9" fill="#9a485a"/>
<circle cx="432.7" cy="457.2" r="0.6" fill="#c07a8a"/>
<circle cx="367.5" cy="438.5" r="1.2" fill="#9a485a"/>
<circle cx="448.6" cy="447.4" r="0.5" fill="#88384c"/>
<circle cx="444.4" cy="422.5" r="1.0" fill="#88384c"/>
<circle cx="380.1" cy="475.4" r="0.7" fill="#9a485a"/>
<circle cx="364.7" cy="409.6" r="1.0" fill="#9a485a"/>
<circle cx="466.7" cy="402.4" r="0.5" fill="#9a485a"/>
<circle cx="422.8" cy="419.6" r="1.1" fill="#b46070"/>
<circle cx="470.0" cy="405.6" r="1.1" fill="#904054"/>
<circle cx="370.0" cy="426.7" r="0.6" fill="#904054"/>
<circle cx="455.3" cy="396.4" r="0.6" fill="#c07a8a"/>
<circle cx="382.0" cy="414.9" r="0.9" fill="#88384c"/>
<circle cx="462.7" cy="439.0" r="1.0" fill="#9a485a"/>
<circle cx="455.3" cy="429.6" r="0.8" fill="#b46070"/>
<circle cx="439.0" cy="461.6" r="0.8" fill="#9a485a"/>
<circle cx="386.7" cy="464.3" r="1.1" fill="#88384c"/>
<circle cx="430.6" cy="383.9" r="1.1" fill="#904054"/>
<circle cx="364.0" cy="387.3" r="0.9" fill="#904054"/>
<circle cx="399.2" cy="390.3" r="0.5" fill="#bc6c7e"/>
<circle cx="375.9" cy="440.3" r="0.5" fill="#bc6c7e"/>
<circle cx="443.4" cy="382.7" r="0.9" fill="#c07a8a"/>
<circle cx="382.8" cy="471.2" r="0.9" fill="#9a485a"/>
<circle cx="367.8" cy="462.6" r="1.1" fill="#88384c"/>
<circle cx="372.4" cy="396.7" r="0.6" fill="#bc6c7e"/>
<circle cx="467.4" cy="466.9" r="1.0" fill="#bc6c7e"/>
<circle cx="453.4" cy="439.1" r="0.7" fill="#bc6c7e"/>
<circle cx="375.3" cy="455.1" r="1.0" fill="#c07a8a"/>
<circle cx="396.3" cy="418.4" r="0.5" fill="#c07a8a"/>
<circle cx="465.2" cy="381.0" r="1.0" fill="#c07a8a"/>
<circle cx="447.1" cy="436.1" r="0.8" fill="#c07a8a"/>
<circle cx="430.1" cy="379.3" r="0.8" fill="#88384c"/>
<circle cx="418.8" cy="386.0" r="0.8" fill="#bc6c7e"/>
<circle cx="421.0" cy="397.7" r="1.1" fill="#bc6c7e"/>
<circle cx="425.1" cy="404.8" r="0.8" fill="#b46070"/>
<circle cx="383.1" cy="452.1" r="1.2" fill="#bc6c7e"/>
<circle cx="399.6" cy="385.7" r="1.0" fill="#904054"/>
<circle cx="469.4" cy="435.2" r="1.2" fill="#b46070"/>
<circle cx="389.7" cy="470.2" r="0.7" fill="#904054"/>
<circle cx="466.2" cy="399.2" r="0.6" fill="#9a485a"/>
<circle cx="446.8" cy="425.0" r="1.2" fill="#b46070"/>
<circle cx="449.1" cy="438.7" r="0.7" fill="#88384c"/>
<circle cx="465.1" cy="465.0" r="1.0" fill="#88384c"/>
<circle cx="460.5" cy="378.7" r="0.6" fill="#c07a8a"/>
<circle cx="408.6" cy="430.4" r="0.6" fill="#9a485a"/>
<circle cx="386.7" cy="422.1" r="0.9" fill="#9a485a"/>
<circle cx="445.3" cy="440.5" r="0.7" fill="#c07a8a"/>
<circle cx="419.2" cy="462.6" r="0.8" fill="#b46070"/>
<circle cx="444.0" cy="393.1" r="0.8" fill="#c07a8a"/>
<circle cx="425.7" cy="388.7" r="0.8" fill="#9a485a"/>
<circle cx="387.2" cy="395.2" r="0.7" fill="#9a485a"/>
<circle cx="453.6" cy="437.7" r="1.0" fill="#904054"/>
<circle cx="441.9" cy="436.2" r="0.7" fill="#904054"/>
<circle cx="397.3" cy="395.0" r="1.2" fill="#9a485a"/>
<circle cx="472.6" cy="392.6" r="1.0" fill="#904054"/>
<circle cx="403.7" cy="474.2" r="1.1" fill="#9a485a"/>
<circle cx="393.9" cy="403.4" r="0.6" fill="#bc6c7e"/>
<circle cx="392.0" cy="464.3" r="0.8" fill="#bc6c7e"/>
<circle cx="405.3" cy="455.0" r="1.0" fill="#b46070"/>
<circle cx="471.0" cy="405.7" r="0.5" fill="#c07a8a"/>
<circle cx="428.4" cy="416.5" r="1.0" fill="#88384c"/>
<circle cx="439.4" cy="434.7" r="1.0" fill="#904054"/>
<circle cx="435.7" cy="441.2" r="1.1" fill="#9a485a"/>
<circle cx="439.3" cy="461.1" r="1.0" fill="#9a485a"/>
<circle cx="374.3" cy="419.2" r="0.7" fill="#9a485a"/>
<circle cx="371.4" cy="418.0" r="1.0" fill="#9a485a"/>
<circle cx="440.7" cy="391.8" r="1.1" fill="#88384c"/>
<circle cx="411.7" cy="438.1" r="0.8" fill="#9a485a"/>
<circle cx="434.9" cy="463.1" r="1.1" fill="#c07a8a"/>
<circle cx="448.1" cy="414.9" r="0.8" fill="#bc6c7e"/>
<circle cx="364.6" cy="430.3" r="0.6" fill="#904054"/>
<circle cx="418.9" cy="386.2" r="0.9" fill="#b46070"/>
<circle cx="383.5" cy="423.6" r="0.5" fill="#c07a8a"/>
<circle cx="419.2" cy="417.0" r="1.2" fill="#904054"/>
<circle cx="472.0" cy="394.5" r="0.9" fill="#bc6c7e"/>
<circle cx="442.6" cy="437.3" r="0.9" fill="#c07a8a"/>
<circle cx="391.3" cy="416.0" r="0.5" fill="#88384c"/>
<circle cx="463.6" cy="438.8" r="1.0" fill="#b46070"/>
<circle cx="390.2" cy="398.5" r="1.0" fill="#b46070"/>
<circle cx="469.9" cy="475.2" r="1.2" fill="#88384c"/>
<circle cx="384.2" cy="389.0" r="1.0" fill="#9a485a"/>
<circle cx="382.1" cy="440.1" r="1.0" fill="#904054"/>
<circle cx="400.2" cy="439.8" r="1.1" fill="#88384c"/>
<circle cx="413.1" cy="405.5" r="0.9" fill="#904054"/>
<circle cx="448.3" cy="422.9" r="1.0" fill="#904054"/>
<circle cx="390.5" cy="413.6" r="0.7" fill="#88384c"/>
<circle cx="436.9" cy="424.1" r="1.1" fill="#c07a8a"/>
<circle cx="400.7" cy="441.3" r="0.7" fill="#88384c"/>
<circle cx="408.7" cy="439.6" r="1.0" fill="#c07a8a"/>
<circle cx="377.6" cy="406.4" r="0.8" fill="#bc6c7e"/>
<circle cx="453.7" cy="466.4" r="1.0" fill="#904054"/>
<circle cx="420.2" cy="410.5" r="0.9" fill="#9a485a"/>
<circle cx="361.6" cy="471.0" r="1.0" fill="#c07a8a"/>
<circle cx="428.9" cy="433.8" r="1.1" fill="#904054"/>
<circle cx="447.9" cy="410.7" r="0.6" fill="#88384c"/>
<circle cx="449.6" cy="392.9" r="1.1" fill="#b46070"/>
<circle cx="470.6" cy="385.2" r="1.1" fill="#b46070"/>
<circle cx="449.2" cy="459.7" r="0.6" fill="#9a485a"/>
<circle cx="384.4" cy="384.0" r="1.1" fill="#9a485a"/>
<circle cx="459.9" cy="431.5" r="0.7" fill="#904054"/>
<circle cx="453.6" cy="423.3" r="0.9" fill="#88384c"/>
<circle cx="413.0" cy="390.6" r="0.8" fill="#88384c"/>
<circle cx="378.9" cy="435.9" r="1.0" fill="#904054"/>
<circle cx="455.2" cy="422.8" r="0.9" fill="#9a485a"/>
<circle cx="393.8" cy="422.6" r="0.8" fill="#9a485a"/>
<circle cx="368.8" cy="439.6" r="0.9" fill="#bc6c7e"/>
<circle cx="362.7" cy="380.7" r="1.0" fill="#c07a8a"/>
<circle cx="451.5" cy="385.5" r="0.8" fill="#904054"/>
<circle cx="364.2" cy="447.7" r="0.9" fill="#c07a8a"/>
<circle cx="371.0" cy="441.8" r="0.7" fill="#b46070"/>
<circle cx="422.8" cy="467.0" r="0.7" fill="#c07a8a"/>
<circle cx="408.0" cy="431.4" r="1.1" fill="#c07a8a"/>
<circle cx="400.4" cy="425.3" r="0.7" fill="#c07a8a"/>
<circle cx="458.8" cy="410.5" r="0.6" fill="#88384c"/>
<circle cx="449.7" cy="409.1" r="0.7" fill="#c07a8a"/>
<circle cx="374.7" cy="473.1" r="0.6" fill="#bc6c7e"/>
<circle cx="405.3" cy="431.4" r="0.8" fill="#b46070"/>
<circle cx="365.9" cy="406.1" r="0.5" fill="#904054"/>
<circle cx="453.0" cy="423.5" r="1.0" fill="#bc6c7e"/>
<circle cx="449.3" cy="466.8" r="0.9" fill="#b46070"/>
<circle cx="376.9" cy="443.3" r="1.0" fill="#9a485a"/>
<circle cx="369.7" cy="380.1" r="0.9" fill="#9a485a"/>
<circle cx="446.4" cy="386.3" r="0.6" fill="#bc6c7e"/>
<circle cx="407.9" cy="386.2" r="1.2" fill="#bc6c7e"/>
<circle cx="401.9" cy="458.1" r="1.1" fill="#b46070"/>
<circle cx="440.4" cy="462.1" r="0.6" fill="#bc6c7e"/>
<circle cx="396.3" cy="419.1" r="0.9" fill="#bc6c7e"/>
<circle cx="416.5" cy="428.2" r="1.1" fill="#88384c"/>
<circle cx="425.2" cy="467.7" r="0.8" fill="#bc6c7e"/>
<circle cx="437.0" cy="435.3" r="1.2" fill="#9a485a"/>
<circle cx="471.0" cy="423.5" r="0.8" fill="#bc6c7e"/>
<circle cx="369.7" cy="423.2" r="1.1" fill="#9a485a"/>
<circle cx="362.1" cy="376.6" r="1.0" fill="#bc6c7e"/>
<circle cx="471.6" cy="461.7" r="0.7" fill="#bc6c7e"/>
<circle cx="374.9" cy="377.9" r="1.0" fill="#904054"/>
<circle cx="411.2" cy="450.3" r="1.1" fill="#c07a8a"/>
<circle cx="447.6" cy="447.2" r="1.1" fill="#9a485a"/>
<circle cx="446.0" cy="405.4" r="0.9" fill="#88384c"/>
<circle cx="412.3" cy="469.0" r="0.7" fill="#bc6c7e"/>
<circle cx="441.2" cy="377.3" r="0.5" fill="#9a485a"/>
<circle cx="437.8" cy="437.7" r="0.8" fill="#c07a8a"/>
<circle cx="442.6" cy="392.7" r="1.1" fill="#88384c"/>
<circle cx="429.0" cy="407.7" r="1.2" fill="#9a485a"/>
<circle cx="409.8" cy="443.6" r="0.6" fill="#bc6c7e"/>
<circle cx="401.3" cy="440.4" r="0.9" fill="#88384c"/>
<circle cx="414.1" cy="453.7" r="0.8" fill="#c07a8a"/>
<circle cx="448.8" cy="432.6" r="0.7" fill="#bc6c7e"/>
<circle cx="430.5" cy="441.0" r="1.1" fill="#b46070"/>
<circle cx="397.8" cy="436.5" r="1.2" fill="#904054"/>
<circle cx="428.1" cy="406.9" r="0.8" fill="#904054"/>
<circle cx="402.8" cy="444.4" r="0.9" fill="#904054"/>
<circle cx="451.4" cy="404.4" r="0.5" fill="#c07a8a"/>
<circle cx="390.6" cy="391.8" r="1.1" fill="#bc6c7e"/>
<circle cx="392.9" cy="390.2" r="1.1" fill="#b46070"/>
<circle cx="376.9" cy="473.3" r="1.1" fill="#b46070"/>
<circle cx="437.6" cy="467.2" r="0.7" fill="#bc6c7e"/>
<circle cx="421.2" cy="424.5" r="0.8" fill="#9a485a"/>
<circle cx="465.4" cy="399.5" r="0.9" fill="#9a485a"/>
<circle cx="404.9" cy="446.7" r="1.1" fill="#b46070"/>
<circle cx="445.1" cy="455.0" r="0.8" fill="#bc6c7e"/>
<circle cx="420.8" cy="411.5" r="0.5" fill="#88384c"/>
<circle cx="425.7" cy="465.5" r="1.1" fill="#b46070"/>
<circle cx="396.5" cy="426.6" r="0.6" fill="#904054"/>
<circle cx="382.0" cy="394.2" r="1.0" fill="#c07a8a"/>
<circle cx="425.5" cy="411.9" r="1.0" fill="#904054"/>
<circle cx="388.1" cy="468.1" r="0.8" fill="#bc6c7e"/>
<circle cx="402.3" cy="422.3" r="0.6" fill="#c07a8a"/>
<circle cx="427.7" cy="410.5" r="0.9" fill="#bc6c7e"/>
<circle cx="370.9" cy="396.6" r="1.1" fill="#b46070"/>
<circle cx="415.2" cy="432.7" r="0.7" fill="#c07a8a"/>
<circle cx="408.4" cy="470.4" r="1.0" fill="#b46070"/>
<circle cx="469.0" cy="401.5" r="0.5" fill="#904054"/>
<circle cx="472.5" cy="413.8" r="0.5" fill="#bc6c7e"/>
<circle cx="423.2" cy="462.9" r="0.8" fill="#bc6c7e"/>
<circle cx="457.7" cy="439.9" r="1.1" fill="#9a485a"/>
<circle cx="468.5" cy="401.8" r="0.9" fill="#9a485a"/>
<circle cx="370.5" cy="467.9" r="0.9" fill="#904054"/>
<circle cx="410.9" cy="392.1" r="1.2" fill="#9a485a"/>
<circle cx="385.3" cy="380.0" r="0.7" fill="#c07a8a"/>
<circle cx="367.0" cy="431.2" r="0.5" fill="#bc6c7e"/>
<circle cx="389.4" cy="427.3" r="1.0" fill="#88384c"/>
<circle cx="366.6" cy="390.6" r="1.0" fill="#904054"/>
<circle cx="436.7" cy="405.9" r="0.9" fill="#9a485a"/>
<circle cx="372.2" cy="408.4" r="0.7" fill="#bc6c7e"/>
<circle cx="402.6" cy="414.0" r="0.8" fill="#904054"/>
<circle cx="463.5" cy="465.0" r="0.8" fill="#904054"/>
<circle cx="450.4" cy="391.8" r="1.1" fill="#bc6c7e"/>
<circle cx="465.7" cy="462.5" r="1.1" fill="#904054"/>
<circle cx="448.1" cy="471.6" r="1.1" fill="#88384c"/>
<circle cx="455.3" cy="438.8" r="0.8" fill="#c07a8a"/>
<circle cx="396.7" cy="399.5" r="0.6" fill="#c07a8a"/>
<circle cx="376.4" cy="398.2" r="0.5" fill="#9a485a"/>
<circle cx="411.2" cy="464.7" r="0.8" fill="#904054"/>
<circle cx="390.4" cy="417.2" r="0.6" fill="#c07a8a"/>
<circle cx="424.7" cy="405.7" r="1.1" fill="#c07a8a"/>
<circle cx="415.7" cy="407.8" r="1.1" fill="#bc6c7e"/>
<circle cx="377.6" cy="427.3" r="0.9" fill="#9a485a"/>
<circle cx="464.7" cy="431.9" r="1.1" fill="#bc6c7e"/>
<circle cx="389.4" cy="396.3" r="0.8" fill="#c07a8a"/>
<circle cx="472.9" cy="468.3" r="0.6" fill="#c07a8a"/>
<circle cx="407.2" cy="392.3" r="1.1" fill="#c07a8a"/>
<circle cx="376.6" cy="439.9" r="0.8" fill="#b46070"/>
<circle cx="398.8" cy="390.1" r="0.5" fill="#b46070"/>
<circle cx="392.6" cy="412.0" r="0.5" fill="#88384c"/>
<circle cx="385.0" cy="433.1" r="0.6" fill="#904054"/>
<circle cx="419.2" cy="399.1" r="0.6" fill="#b46070"/>
<circle cx="369.3" cy="384.9" r="0.9" fill="#88384c"/>
<circle cx="446.2" cy="393.6" r="0.6" fill="#9a485a"/>
<circle cx="440.2" cy="457.0" r="0.9" fill="#904054"/>
<circle cx="361.5" cy="445.1" r="0.9" fill="#9a485a"/>
<circle cx="463.7" cy="427.8" r="0.7" fill="#c07a8a"/>
<circle cx="455.3" cy="462.3" r="0.8" fill="#bc6c7e"/>
<circle cx="406.5" cy="452.2" r="0.6" fill="#9a485a"/>
<circle cx="390.4" cy="394.7" r="1.1" fill="#c07a8a"/>
<circle cx="364.5" cy="446.1" r="0.9" fill="#bc6c7e"/>
<circle cx="400.5" cy="469.0" r="1.2" fill="#bc6c7e"/>
<circle cx="374.0" cy="447.3" r="1.1" fill="#c07a8a"/>
<circle cx="448.2" cy="462.6" r="0.9" fill="#bc6c7e"/>
<circle cx="393.2" cy="386.9" r="1.0" fill="#88384c"/>
<circle cx="418.2" cy="429.0" r="0.9" fill="#bc6c7e"/>
<circle cx="387.8" cy="385.0" r="0.9" fill="#904054"/>
<circle cx="371.9" cy="401.1" r="1.1" fill="#bc6c7e"/>
<circle cx="362.5" cy="468.4" r="1.0" fill="#c07a8a"/>
<circle cx="362.3" cy="435.9" r="0.9" fill="#b46070"/>
<circle cx="387.2" cy="420.4" r="0.7" fill="#bc6c7e"/>
<circle cx="441.2" cy="380.7" r="0.6" fill="#88384c"/>
<circle cx="426.4" cy="452.0" r="0.6" fill="#bc6c7e"/>
<circle cx="406.1" cy="389.8" r="0.9" fill="#904054"/>
<circle cx="376.9" cy="433.2" r="1.0" fill="#904054"/>
<circle cx="467.3" cy="378.0" r="0.9" fill="#9a485a"/>
<circle cx="407.8" cy="459.8" r="0.9" fill="#88384c"/>
<circle cx="469.8" cy="381.3" r="0.8" fill="#88384c"/>
<circle cx="387.4" cy="409.5" r="0.8" fill="#b46070"/>
<circle cx="451.1" cy="467.1" r="1.1" fill="#b46070"/>
<circle cx="366.4" cy="427.7" r="1.2" fill="#c07a8a"/>
<circle cx="388.5" cy="418.2" r="0.9" fill="#c07a8a"/>
<circle cx="372.6" cy="394.8" r="0.7" fill="#904054"/>
<circle cx="417.3" cy="378.2" r="0.6" fill="#88384c"/>
<circle cx="447.9" cy="469.5" r="0.9" fill="#bc6c7e"/>
<circle cx="364.2" cy="440.1" r="0.7" fill="#9a485a"/>
<circle cx="430.7" cy="438.7" r="1.1" fill="#bc6c7e"/>
<circle cx="430.4" cy="401.1" r="0.9" fill="#88384c"/>
<circle cx="387.0" cy="380.1" r="0.6" fill="#c07a8a"/>
<circle cx="433.4" cy="388.2" r="0.9" fill="#b46070"/>
<circle cx="462.0" cy="384.6" r="0.9" fill="#904054"/>
<circle cx="410.0" cy="427.1" r="1.1" fill="#88384c"/>
<circle cx="425.5" cy="403.5" r="1.0" fill="#9a485a"/>
<circle cx="422.0" cy="459.8" r="0.9" fill="#b46070"/>
<circle cx="385.3" cy="414.7" r="0.9" fill="#c07a8a"/>
<circle cx="412.3" cy="430.8" r="0.9" fill="#88384c"/>
<circle cx="452.7" cy="379.3" r="0.7" fill="#904054"/>
<circle cx="418.1" cy="414.3" r="0.9" fill="#bc6c7e"/>
<circle cx="464.6" cy="392.3" r="1.2" fill="#c07a8a"/>
<circle cx="423.1" cy="425.1" r="0.7" fill="#904054"/>
<circle cx="393.7" cy="453.1" r="0.6" fill="#bc6c7e"/>
<circle cx="428.7" cy="410.8" r="1.0" fill="#b46070"/>
<circle cx="404.1" cy="420.0" r="1.0" fill="#bc6c7e"/>
<circle cx="419.1" cy="474.7" r="1.0" fill="#904054"/>
<circle cx="407.3" cy="442.7" r="0.6" fill="#904054"/>
<circle cx="429.8" cy="460.8" r="1.1" fill="#b46070"/>
<circle cx="371.1" cy="461.5" r="1.1" fill="#88384c"/>
<circle cx="390.6" cy="439.0" r="0.9" fill="#9a485a"/>
<circle cx="374.7" cy="462.9" r="0.5" fill="#b46070"/>
<circle cx="426.4" cy="425.8" r="1.2" fill="#b46070"/>
<circle cx="377.2" cy="460.8" r="0.7" fill="#b46070"/>
<circle cx="428.8" cy="414.0" r="0.8" fill="#88384c"/>
<circle cx="392.8" cy="411.3" r="0.7" fill="#b46070"/>
<circle cx="423.0" cy="414.5" r="0.7" fill="#9a485a"/>
<circle cx="456.2" cy="425.9" r="0.8" fill="#904054"/>
<circle cx="420.9" cy="456.1" r="0.8" fill="#88384c"/>
<circle cx="425.9" cy="384.9" r="1.1" fill="#c07a8a"/>
<circle cx="469.6" cy="436.7" r="0.7" fill="#c07a8a"/>
<circle cx="383.4" cy="418.6" r="1.1" fill="#bc6c7e"/>
<circle cx="363.2" cy="401.7" r="1.1" fill="#c07a8a"/>
<circle cx="464.1" cy="453.2" r="0.9" fill="#88384c"/>
<circle cx="418.7" cy="427.7" r="1.0" fill="#88384c"/>
<circle cx="412.7" cy="380.2" r="1.0" fill="#88384c"/>
<circle cx="467.2" cy="443.5" r="0.9" fill="#bc6c7e"/>
<circle cx="406.5" cy="426.1" r="1.0" fill="#b46070"/>
<circle cx="377.7" cy="394.9" r="0.8" fill="#88384c"/>
<circle cx="410.0" cy="438.4" r="1.2" fill="#c07a8a"/>
<circle cx="438.3" cy="450.5" r="0.6" fill="#c07a8a"/>
<circle cx="396.2" cy="473.6" r="1.1" fill="#b46070"/>
<circle cx="380.1" cy="441.5" r="0.7" fill="#c07a8a"/>
<circle cx="452.9" cy="474.8" r="1.1" fill="#88384c"/>
<circle cx="431.5" cy="428.4" r="1.1" fill="#904054"/>
<circle cx="417.3" cy="394.9" r="0.6" fill="#9a485a"/>
<circle cx="424.1" cy="386.8" r="0.9" fill="#9a485a"/>
<circle cx="432.1" cy="380.4" r="0.8" fill="#bc6c7e"/>
<circle cx="394.9" cy="445.0" r="0.5" fill="#c07a8a"/>
<circle cx="405.2" cy="386.0" r="0.5" fill="#bc6c7e"/>
<circle cx="382.5" cy="425.8" r="0.9" fill="#c07a8a"/>
<circle cx="458.6" cy="465.4" r="0.9" fill="#904054"/>
<circle cx="425.1" cy="417.1" r="0.6" fill="#904054"/>
<circle cx="418.8" cy="426.9" r="0.5" fill="#bc6c7e"/>
<circle cx="379.6" cy="428.2" r="1.1" fill="#b46070"/>
<circle cx="408.9" cy="455.9" r="1.0" fill="#9a485a"/>
<circle cx="447.2" cy="408.3" r="1.0" fill="#c07a8a"/>
<circle cx="391.4" cy="379.4" r="0.9" fill="#b46070"/>
<circle cx="367.4" cy="395.3" r="0.9" fill="#bc6c7e"/>
<circle cx="366.5" cy="464.9" r="0.9" fill="#bc6c7e"/>
<circle cx="409.9" cy="437.9" r="0.7" fill="#bc6c7e"/>
<circle cx="378.3" cy="434.6" r="0.6" fill="#bc6c7e"/>
<circle cx="461.7" cy="457.4" r="0.7" fill="#b46070"/>
<circle cx="388.8" cy="464.5" r="1.2" fill="#bc6c7e"/>
<circle cx="387.7" cy="415.0" r="1.0" fill="#904054"/>
<circle cx="407.0" cy="415.9" r="1.0" fill="#bc6c7e"/>
<circle cx="449.8" cy="400.4" r="0.6" fill="#c07a8a"/>
<circle cx="403.1" cy="376.9" r="1.1" fill="#88384c"/>
<circle cx="423.7" cy="387.6" r="0.9" fill="#88384c"/>
<circle cx="398.2" cy="441.0" r="1.2" fill="#88384c"/>
<circle cx="453.5" cy="411.2" r="0.7" fill="#904054"/>
<circle cx="413.0" cy="410.5" r="0.8" fill="#c07a8a"/>
<circle cx="435.3" cy="410.2" r="0.6" fill="#9a485a"/>
<circle cx="375.0" cy="395.7" r="0.9" fill="#904054"/>
<circle cx="422.9" cy="422.7" r="1.1" fill="#904054"/>
<circle cx="378.3" cy="411.3" r="1.0" fill="#88384c"/>
<circle cx="431.3" cy="434.0" r="0.7" fill="#88384c"/>
<circle cx="417.3" cy="398.8" r="0.8" fill="#904054"/>
<circle cx="466.6" cy="475.6" r="0.9" fill="#88384c"/>
<circle cx="426.6" cy="412.8" r="0.7" fill="#b46070"/>
<circle cx="417.9" cy="388.7" r="1.0" fill="#9a485a"/>
<circle cx="418.2" cy="430.2" r="0.7" fill="#88384c"/>
<circle cx="363.6" cy="447.7" r="0.6" fill="#bc6c7e"/>
<circle cx="404.3" cy="384.7" r="0.6" fill="#904054"/>
<circle cx="396.5" cy="442.2" r="0.6" fill="#b46070"/>
<circle cx="463.4" cy="456.4" r="1.0" fill="#904054"/>
<circle cx="367.8" cy="407.2" r="0.7" fill="#904054"/>
<circle cx="452.5" cy="415.9" r="0.7" fill="#88384c"/>
<circle cx="447.7" cy="464.1" r="1.1" fill="#904054"/>
<circle cx="466.0" cy="393.7" r="0.8" fill="#9a485a"/>
<circle cx="438.3" cy="465.5" r="0.5" fill="#9a485a"/>
<circle cx="439.2" cy="400.9" r="1.1" fill="#c07a8a"/>
<circle cx="462.5" cy="385.9" r="0.7" fill="#c07a8a"/>
<circle cx="463.3" cy="449.3" r="1.0" fill="#bc6c7e"/>
<circle cx="406.0" cy="436.8" r="0.8" fill="#c07a8a"/>
<circle cx="378.0" cy="449.7" r="0.9" fill="#9a485a"/>
<circle cx="432.3" cy="394.1" r="1.1" fill="#b46070"/>
<circle cx="416.5" cy="428.0" r="1.1" fill="#9a485a"/>
<circle cx="437.5" cy="410.9" r="0.5" fill="#9a485a"/>
<circle cx="392.6" cy="380.4" r="1.1" fill="#b46070"/>
<circle cx="438.8" cy="473.2" r="1.0" fill="#bc6c7e"/>
<circle cx="449.6" cy="397.1" r="1.1" fill="#9a485a"/>
<circle cx="463.4" cy="417.7" r="1.0" fill="#9a485a"/>
<circle cx="429.7" cy="398.2" r="0.9" fill="#c07a8a"/>
<circle cx="467.1" cy="418.4" r="1.2" fill="#9a485a"/>
<circle cx="417.1" cy="444.7" r="1.1" fill="#9a485a"/>
<circle cx="411.4" cy="381.6" r="1.0" fill="#88384c"/>
<circle cx="436.3" cy="460.5" r="1.0" fill="#88384c"/>
<circle cx="446.3" cy="380.5" r="1.0" fill="#b46070"/>
<circle cx="389.8" cy="430.6" r="1.2" fill="#9a485a"/>
<circle cx="387.0" cy="402.1" r="1.2" fill="#904054"/>
<circle cx="400.7" cy="417.2" r="0.6" fill="#c07a8a"/>
<circle cx="375.8" cy="444.5" r="0.8" fill="#88384c"/>
<circle cx="387.2" cy="400.2" r="0.9" fill="#88384c"/>
<circle cx="375.3" cy="440.0" r="1.0" fill="#904054"/>
<circle cx="460.1" cy="390.3" r="0.9" fill="#c07a8a"/>
<circle cx="431.3" cy="387.9" r="0.8" fill="#904054"/>
<circle cx="436.7" cy="391.6" r="1.2" fill="#88384c"/>
<circle cx="454.1" cy="387.6" r="0.7" fill="#c07a8a"/>
<circle cx="415.2" cy="380.5" r="1.1" fill="#c07a8a"/>
<circle cx="382.6" cy="446.1" r="0.8" fill="#bc6c7e"/>
<circle cx="378.5" cy="420.5" r="0.9" fill="#c07a8a"/>
<circle cx="379.3" cy="383.3" r="0.5" fill="#88384c"/>
<circle cx="369.8" cy="447.6" r="1.2" fill="#b46070"/>
<circle cx="390.2" cy="440.4" r="1.2" fill="#88384c"/>
<circle cx="381.7" cy="430.3" r="0.5" fill="#bc6c7e"/>
<circle cx="433.0" cy="438.7" r="1.2" fill="#9a485a"/>
<circle cx="439.2" cy="441.2" r="0.6" fill="#9a485a"/>
<circle cx="363.5" cy="453.3" r="1.1" fill="#c07a8a"/>
<circle cx="401.8" cy="472.0" r="0.9" fill="#9a485a"/>
<circle cx="379.3" cy="454.3" r="1.1" fill="#9a485a"/>
<circle cx="429.9" cy="414.0" r="1.0" fill="#c07a8a"/>
<circle cx="396.4" cy="412.9" r="0.9" fill="#c07a8a"/>
<circle cx="454.8" cy="401.4" r="0.5" fill="#bc6c7e"/>
<circle cx="424.3" cy="438.7" r="1.1" fill="#9a485a"/>
<circle cx="405.8" cy="381.2" r="0.7" fill="#88384c"/>
<circle cx="416.7" cy="391.9" r="0.7" fill="#b46070"/>
<circle cx="431.0" cy="390.3" r="0.7" fill="#904054"/>
<circle cx="410.3" cy="472.8" r="0.6" fill="#bc6c7e"/>
<circle cx="456.3" cy="423.9" r="0.7" fill="#c07a8a"/>
<circle cx="360.7" cy="459.9" r="1.1" fill="#b46070"/>
<circle cx="408.3" cy="404.4" r="1.0" fill="#b46070"/>
<circle cx="440.5" cy="464.9" r="0.5" fill="#bc6c7e"/>
<circle cx="435.5" cy="458.4" r="1.1" fill="#904054"/>
<circle cx="403.1" cy="376.6" r="1.1" fill="#9a485a"/>
<circle cx="399.6" cy="395.6" r="0.6" fill="#c07a8a"/>
<circle cx="418.6" cy="418.8" r="0.9" fill="#9a485a"/>
<circle cx="457.9" cy="473.2" r="1.2" fill="#b46070"/>
<circle cx="369.5" cy="456.8" r="1.0" fill="#c07a8a"/>
<circle cx="429.0" cy="405.8" r="0.9" fill="#c07a8a"/>
<circle cx="414.6" cy="440.6" r="0.7" fill="#c07a8a"/>
<circle cx="420.2" cy="439.3" r="1.1" fill="#904054"/>
<circle cx="436.9" cy="420.7" r="0.6" fill="#9a485a"/>
<circle cx="425.6" cy="431.4" r="1.2" fill="#c07a8a"/>
<circle cx="420.1" cy="432.4" r="0.8" fill="#bc6c7e"/>
<circle cx="386.0" cy="472.6" r="0.6" fill="#9a485a"/>
<circle cx="373.0" cy="462.0" r="0.7" fill="#bc6c7e"/>
<circle cx="381.5" cy="442.9" r="1.0" fill="#904054"/>
<circle cx="422.8" cy="398.7" r="0.9" fill="#bc6c7e"/>
<circle cx="443.3" cy="466.7" r="0.9" fill="#88384c"/>
<circle cx="437.0" cy="455.9" r="0.6" fill="#b46070"/>
<circle cx="422.4" cy="447.3" r="1.0" fill="#bc6c7e"/>
<circle cx="431.0" cy="471.8" r="0.9" fill="#88384c"/>
<circle cx="454.0" cy="415.2" r="0.6" fill="#904054"/>
<circle cx="423.8" cy="453.4" r="0.6" fill="#b46070"/>
<circle cx="366.8" cy="399.8" r="0.8" fill="#bc6c7e"/>
<circle cx="439.5" cy="471.4" r="0.8" fill="#bc6c7e"/>
<circle cx="440.1" cy="418.6" r="1.1" fill="#b46070"/>
<circle cx="471.8" cy="396.2" r="0.6" fill="#9a485a"/>
<circle cx="458.5" cy="392.9" r="1.0" fill="#c07a8a"/>
<circle cx="451.0" cy="449.5" r="0.5" fill="#c07a8a"/>
<circle cx="374.2" cy="413.3" r="1.0" fill="#c07a8a"/>
<circle cx="441.7" cy="380.5" r="0.9" fill="#bc6c7e"/>
<circle cx="400.5" cy="408.8" r="0.9" fill="#bc6c7e"/>
<circle cx="464.7" cy="443.4" r="0.7" fill="#904054"/>
<circle cx="438.6" cy="378.3" r="1.2" fill="#88384c"/>
<circle cx="373.1" cy="378.3" r="0.6" fill="#c07a8a"/>
<circle cx="381.2" cy="431.4" r="0.7" fill="#9a485a"/>
<circle cx="435.9" cy="459.5" r="0.9" fill="#c07a8a"/>
<circle cx="421.1" cy="444.8" r="1.1" fill="#88384c"/>
<circle cx="361.9" cy="410.3" r="0.6" fill="#b46070"/>
<circle cx="414.9" cy="379.3" r="1.1" fill="#bc6c7e"/>
<circle cx="380.9" cy="457.7" r="1.0" fill="#88384c"/>
<circle cx="455.4" cy="472.5" r="1.0" fill="#88384c"/>
<circle cx="404.7" cy="463.1" r="0.9" fill="#bc6c7e"/>
<circle cx="401.0" cy="428.8" r="0.7" fill="#904054"/>
<circle cx="426.8" cy="380.5" r="0.6" fill="#c07a8a"/>
<circle cx="442.4" cy="409.2" r="0.8" fill="#c07a8a"/>
<circle cx="395.8" cy="409.6" r="0.8" fill="#904054"/>
<circle cx="362.7" cy="421.9" r="1.2" fill="#bc6c7e"/>
<circle cx="431.5" cy="448.6" r="0.6" fill="#88384c"/>
<circle cx="391.2" cy="426.0" r="0.7" fill="#b46070"/>
<circle cx="425.0" cy="434.4" r="0.6" fill="#9a485a"/>
<circle cx="364.2" cy="432.0" r="1.0" fill="#904054"/>
<circle cx="447.7" cy="439.2" r="0.9" fill="#c07a8a"/>
<circle cx="449.7" cy="455.2" r="0.7" fill="#904054"/>
<circle cx="437.2" cy="406.4" r="1.0" fill="#9a485a"/>
<circle cx="401.2" cy="461.2" r="0.7" fill="#b46070"/>
<circle cx="441.1" cy="409.5" r="1.0" fill="#9a485a"/>
<circle cx="396.8" cy="474.6" r="0.8" fill="#c07a8a"/>
<circle cx="461.2" cy="456.8" r="1.2" fill="#904054"/>
<circle cx="375.6" cy="376.9" r="1.1" fill="#88384c"/>
<circle cx="406.0" cy="415.6" r="1.0" fill="#904054"/>
<circle cx="426.5" cy="390.5" r="1.0" fill="#c07a8a"/>
<circle cx="442.3" cy="431.1" r="1.2" fill="#c07a8a"/>
<circle cx="368.6" cy="395.1" r="1.1" fill="#b46070"/>
<circle cx="380.5" cy="434.0" r="1.2" fill="#c07a8a"/>
<circle cx="469.8" cy="444.9" r="1.0" fill="#bc6c7e"/>
<circle cx="454.9" cy="408.0" r="0.6" fill="#c07a8a"/>
<circle cx="422.0" cy="451.7" r="0.9" fill="#904054"/>
<circle cx="439.8" cy="397.9" r="0.8" fill="#904054"/>
<circle cx="461.0" cy="404.3" r="0.9" fill="#bc6c7e"/>
<circle cx="382.5" cy="449.3" r="1.2" fill="#b46070"/>
<circle cx="365.8" cy="383.5" r="1.1" fill="#b46070"/>
<circle cx="398.8" cy="389.8" r="0.6" fill="#b46070"/>
<circle cx="432.8" cy="377.7" r="0.7" fill="#bc6c7e"/>
<circle cx="384.3" cy="408.7" r="1.0" fill="#9a485a"/>
<circle cx="415.2" cy="436.9" r="1.1" fill="#904054"/>
<circle cx="366.8" cy="417.4" r="0.5" fill="#9a485a"/>
<circle cx="429.5" cy="453.5" r="1.2" fill="#88384c"/>
<circle cx="389.3" cy="422.3" r="0.5" fill="#c07a8a"/>
<circle cx="424.0" cy="474.5" r="0.5" fill="#b46070"/>
<circle cx="440.4" cy="459.3" r="0.6" fill="#bc6c7e"/>
<circle cx="378.0" cy="390.4" r="1.0" fill="#bc6c7e"/>
<circle cx="400.7" cy="412.2" r="0.7" fill="#9a485a"/>
<circle cx="426.7" cy="431.4" r="1.0" fill="#b46070"/>
<circle cx="425.2" cy="399.1" r="0.9" fill="#9a485a"/>
<circle cx="414.2" cy="379.3" r="1.0" fill="#9a485a"/>
<circle cx="447.5" cy="473.5" r="0.8" fill="#c07a8a"/>
<circle cx="401.1" cy="428.9" r="0.7" fill="#c07a8a"/>
<circle cx="361.4" cy="423.6" r="1.0" fill="#c07a8a"/>
<circle cx="377.3" cy="438.8" r="0.8" fill="#bc6c7e"/>
<circle cx="466.0" cy="438.4" r="0.6" fill="#b46070"/>
<circle cx="416.9" cy="431.5" r="0.6" fill="#b46070"/>
<circle cx="401.6" cy="391.0" r="0.6" fill="#9a485a"/>
<circle cx="456.8" cy="453.8" r="0.9" fill="#c07a8a"/>
<circle cx="448.1" cy="400.3" r="1.2" fill="#88384c"/>
<circle cx="384.4" cy="467.0" r="1.1" fill="#88384c"/>
<circle cx="412.2" cy="408.4" r="1.1" fill="#bc6c7e"/>
<circle cx="434.8" cy="377.7" r="1.1" fill="#88384c"/>
<circle cx="436.4" cy="411.1" r="0.7" fill="#88384c"/>
<circle cx="406.6" cy="467.7" r="1.2" fill="#9a485a"/>
<circle cx="457.4" cy="379.2" r="0.5" fill="#9a485a"/>
<circle cx="409.3" cy="399.2" r="0.6" fill="#88384c"/>
<circle cx="432.8" cy="405.9" r="1.2" fill="#904054"/>
<circle cx="471.0" cy="454.9" r="0.8" fill="#c07a8a"/>
<circle cx="468.0" cy="389.8" r="0.7" fill="#bc6c7e"/>
<circle cx="397.7" cy="424.5" r="1.1" fill="#904054"/>
<circle cx="396.4" cy="437.0" r="1.2" fill="#904054"/>
<circle cx="425.7" cy="464.1" r="0.6" fill="#9a485a"/>
<circle cx="401.0" cy="453.8" r="1.1" fill="#904054"/>
<circle cx="409.4" cy="390.1" r="1.2" fill="#9a485a"/>
<circle cx="363.1" cy="387.3" r="1.2" fill="#bc6c7e"/>
<circle cx="375.4" cy="406.3" r="0.9" fill="#c07a8a"/>
<circle cx="371.3" cy="393.0" r="1.0" fill="#bc6c7e"/>
<circle cx="407.1" cy="440.1" r="1.0" fill="#88384c"/>
<circle cx="459.8" cy="473.7" r="0.5" fill="#904054"/>
<circle cx="383.1" cy="438.7" r="0.5" fill="#904054"/>
<circle cx="417.3" cy="399.2" r="0.8" fill="#bc6c7e"/>
<circle cx="442.5" cy="381.0" r="1.1" fill="#bc6c7e"/>
<circle cx="459.4" cy="388.2" r="0.8" fill="#904054"/>
<circle cx="419.6" cy="376.4" r="0.7" fill="#b46070"/>
<circle cx="377.0" cy="449.7" r="0.9" fill="#bc6c7e"/>
<circle cx="420.1" cy="459.8" r="1.2" fill="#bc6c7e"/>
<circle cx="399.8" cy="397.6" r="1.2" fill="#904054"/>
<circle cx="442.8" cy="403.4" r="0.6" fill="#c07a8a"/>
<circle cx="390.7" cy="472.4" r="0.6" fill="#bc6c7e"/>
<circle cx="406.4" cy="431.6" r="0.8" fill="#bc6c7e"/>
<circle cx="397.1" cy="380.3" r="0.8" fill="#c07a8a"/>
<circle cx="422.2" cy="444.9" r="1.2" fill="#9a485a"/>
<circle cx="441.3" cy="415.9" r="0.7" fill="#88384c"/>
<circle cx="403.5" cy="391.2" r="1.0" fill="#88384c"/>
<circle cx="451.0" cy="465.6" r="0.9" fill="#904054"/>
<circle cx="428.9" cy="468.4" r="0.7" fill="#b46070"/>
<circle cx="442.7" cy="474.9" r="1.1" fill="#9a485a"/>
<circle cx="373.4" cy="460.1" r="1.0" fill="#9a485a"/>
<circle cx="365.9" cy="445.3" r="0.7" fill="#9a485a"/>
<circle cx="410.2" cy="442.7" r="0.8" fill="#b46070"/>
<circle cx="360.4" cy="450.5" r="1.1" fill="#b46070"/>
<circle cx="399.0" cy="430.6" r="0.8" fill="#9a485a"/>
<circle cx="449.6" cy="462.8" r="0.7" fill="#bc6c7e"/>
<circle cx="404.7" cy="428.6" r="0.9" fill="#9a485a"/>
<circle cx="453.5" cy="383.3" r="1.1" fill="#9a485a"/>
<circle cx="385.5" cy="437.2" r="0.7" fill="#88384c"/>
<circle cx="457.1" cy="410.8" r="0.9" fill="#b46070"/>
<circle cx="385.3" cy="390.3" r="1.1" fill="#b46070"/>
<circle cx="401.4" cy="396.6" r="0.6" fill="#c07a8a"/>
<circle cx="387.3" cy="393.3" r="1.1" fill="#88384c"/>
<circle cx="380.4" cy="470.5" r="1.1" fill="#9a485a"/>
<circle cx="458.2" cy="380.5" r="0.8" fill="#88384c"/>
<circle cx="374.2" cy="391.5" r="0.7" fill="#bc6c7e"/>
<circle cx="401.5" cy="442.2" r="0.9" fill="#c07a8a"/>
<circle cx="411.4" cy="384.9" r="0.8" fill="#88384c"/>
<circle cx="438.7" cy="420.9" r="0.8" fill="#904054"/>
<circle cx="445.9" cy="391.1" r="1.0" fill="#c07a8a"/>
<circle cx="415.5" cy="441.9" r="0.9" fill="#b46070"/>
<circle cx="398.7" cy="414.1" r="0.5" fill="#904054"/>
<circle cx="360.4" cy="402.0" r="0.9" fill="#c07a8a"/>
<circle cx="441.3" cy="403.5" r="0.7" fill="#904054"/>
<circle cx="390.3" cy="419.8" r="0.9" fill="#88384c"/>
<circle cx="457.2" cy="396.3" r="0.8" fill="#c07a8a"/>
<circle cx="430.0" cy="413.2" r="0.5" fill="#88384c"/>
<circle cx="402.7" cy="380.3" r="1.0" fill="#88384c"/>
<circle cx="408.9" cy="436.7" r="0.7" fill="#904054"/>
<circle cx="403.8" cy="433.8" r="1.1" fill="#904054"/>
<circle cx="470.6" cy="461.0" r="0.9" fill="#bc6c7e"/>
<circle cx="435.4" cy="409.0" r="0.5" fill="#88384c"/>
<circle cx="403.1" cy="428.5" r="0.8" fill="#9a485a"/>
<circle cx="445.7" cy="378.7" r="0.9" fill="#88384c"/>
<circle cx="465.8" cy="446.0" r="0.8" fill="#88384c"/>
<circle cx="380.2" cy="382.7" r="0.8" fill="#904054"/>
<circle cx="418.1" cy="458.3" r="1.0" fill="#9a485a"/>
<circle cx="382.9" cy="430.1" r="1.1" fill="#c07a8a"/>
<circle cx="422.8" cy="452.8" r="1.0" fill="#bc6c7e"/>
<circle cx="370.5" cy="460.6" r="0.9" fill="#bc6c7e"/>
<circle cx="371.8" cy="385.0" r="1.0" fill="#b46070"/>
<circle cx="411.6" cy="458.2" r="0.6" fill="#c07a8a"/>
<circle cx="414.8" cy="381.6" r="1.0" fill="#88384c"/>
<circle cx="455.5" cy="390.1" r="0.8" fill="#bc6c7e"/>
<circle cx="458.7" cy="390.7" r="0.7" fill="#b46070"/>
<circle cx="471.1" cy="394.7" r="0.9" fill="#b46070"/>
<circle cx="389.9" cy="407.3" r="0.7" fill="#c07a8a"/>
<circle cx="423.0" cy="427.1" r="0.8" fill="#bc6c7e"/>
<circle cx="394.9" cy="400.9" r="0.8" fill="#88384c"/>
<circle cx="457.0" cy="401.8" r="0.6" fill="#bc6c7e"/>
<circle cx="383.7" cy="441.1" r="1.2" fill="#9a485a"/>
<circle cx="415.5" cy="434.3" r="0.8" fill="#c07a8a"/>
<circle cx="382.9" cy="467.7" r="0.9" fill="#bc6c7e"/>
<circle cx="442.6" cy="377.0" r="0.5" fill="#b46070"/>
<circle cx="453.2" cy="379.7" r="0.7" fill="#88384c"/>
<circle cx="393.2" cy="446.9" r="1.1" fill="#b46070"/>
<circle cx="429.2" cy="416.6" r="1.0" fill="#904054"/>
<circle cx="459.4" cy="381.9" r="0.8" fill="#9a485a"/>
<circle cx="374.4" cy="389.8" r="1.1" fill="#b46070"/>
<circle cx="416.4" cy="377.6" r="1.0" fill="#9a485a"/>
<circle cx="450.6" cy="425.8" r="1.0" fill="#9a485a"/>
<circle cx="444.8" cy="456.0" r="0.9" fill="#904054"/>
<circle cx="376.8" cy="467.6" r="0.6" fill="#bc6c7e"/>
<circle cx="412.9" cy="396.3" r="0.6" fill="#bc6c7e"/>
<circle cx="407.1" cy="441.8" r="0.7" fill="#88384c"/>
<circle cx="437.7" cy="391.6" r="0.5" fill="#9a485a"/>
<circle cx="375.4" cy="392.1" r="0.8" fill="#904054"/>
<circle cx="459.0" cy="455.6" r="1.0" fill="#9a485a"/>
<circle cx="377.7" cy="467.0" r="0.7" fill="#904054"/>
<circle cx="377.5" cy="455.8" r="1.2" fill="#88384c"/>
<circle cx="470.2" cy="408.8" r="0.6" fill="#c07a8a"/>
<circle cx="385.5" cy="430.5" r="0.6" fill="#88384c"/>
<circle cx="377.1" cy="394.5" r="0.7" fill="#88384c"/>
<circle cx="373.2" cy="458.7" r="0.6" fill="#904054"/>
<circle cx="472.7" cy="469.7" r="0.9" fill="#c07a8a"/>
<circle cx="415.6" cy="377.9" r="1.0" fill="#bc6c7e"/>
<circle cx="383.0" cy="404.1" r="0.7" fill="#b46070"/>
<circle cx="421.3" cy="385.0" r="0.6" fill="#c07a8a"/>
<circle cx="446.9" cy="452.4" r="1.1" fill="#b46070"/>
<circle cx="464.6" cy="379.4" r="0.9" fill="#bc6c7e"/>
<circle cx="399.2" cy="470.2" r="1.0" fill="#bc6c7e"/>
<circle cx="379.7" cy="411.1" r="0.8" fill="#c07a8a"/>
<circle cx="444.1" cy="394.0" r="1.1" fill="#c07a8a"/>
<circle cx="451.6" cy="448.2" r="0.8" fill="#9a485a"/>
<circle cx="422.5" cy="454.7" r="0.9" fill="#88384c"/>
<circle cx="364.4" cy="380.1" r="0.9" fill="#88384c"/>
<circle cx="433.3" cy="389.3" r="0.9" fill="#c07a8a"/>
<circle cx="368.9" cy="448.6" r="1.0" fill="#c07a8a"/>
<circle cx="379.5" cy="470.0" r="0.7" fill="#9a485a"/>
<circle cx="458.8" cy="424.0" r="0.6" fill="#bc6c7e"/>
<circle cx="372.4" cy="399.9" r="0.6" fill="#c07a8a"/>
<circle cx="420.8" cy="387.9" r="0.8" fill="#904054"/>
<circle cx="424.4" cy="380.4" r="0.7" fill="#904054"/>
<circle cx="392.3" cy="431.5" r="1.2" fill="#904054"/>
<circle cx="442.3" cy="429.4" r="0.7" fill="#bc6c7e"/>
<circle cx="362.0" cy="470.1" r="0.8" fill="#9a485a"/>
<circle cx="424.7" cy="444.8" r="0.7" fill="#904054"/>
<circle cx="377.7" cy="402.5" r="0.5" fill="#88384c"/>
<circle cx="430.7" cy="387.1" r="0.9" fill="#bc6c7e"/>
<circle cx="369.8" cy="433.8" r="0.7" fill="#b46070"/>
<circle cx="447.7" cy="427.3" r="1.1" fill="#904054"/>
<circle cx="368.6" cy="409.8" r="0.6" fill="#904054"/>
<circle cx="430.1" cy="445.1" r="1.1" fill="#c07a8a"/>
<circle cx="369.8" cy="451.8" r="0.9" fill="#904054"/>
<circle cx="361.6" cy="469.8" r="0.8" fill="#88384c"/>
<circle cx="364.0" cy="454.7" r="0.6" fill="#b46070"/>
<circle cx="436.9" cy="391.2" r="0.7" fill="#904054"/>
<circle cx="383.3" cy="468.3" r="1.0" fill="#9a485a"/>
<circle cx="470.4" cy="475.5" r="1.1" fill="#88384c"/>
<circle cx="364.6" cy="428.5" r="0.7" fill="#bc6c7e"/>
<circle cx="445.1" cy="439.6" r="0.6" fill="#9a485a"/>
<circle cx="366.0" cy="412.6" r="0.8" fill="#9a485a"/>
<circle cx="441.3" cy="411.0" r="0.6" fill="#88384c"/>
<circle cx="436.2" cy="450.4" r="0.6" fill="#9a485a"/>
<circle cx="466.0" cy="466.3" r="1.0" fill="#9a485a"/>
<circle cx="426.9" cy="419.5" r="1.1" fill="#b46070"/>
<circle cx="394.1" cy="471.9" r="0.9" fill="#9a485a"/>
<circle cx="373.4" cy="472.6" r="1.1" fill="#c07a8a"/>
<circle cx="445.0" cy="460.6" r="0.7" fill="#b46070"/>
<circle cx="412.0" cy="399.7" r="0.8" fill="#9a485a"/>
<circle cx="460.7" cy="381.2" r="1.0" fill="#88384c"/>
<circle cx="449.9" cy="444.2" r="1.2" fill="#88384c"/>
<circle cx="406.2" cy="384.8" r="1.0" fill="#c07a8a"/>
<circle cx="435.1" cy="466.2" r="0.8" fill="#c07a8a"/>
<circle cx="360.8" cy="424.9" r="0.5" fill="#bc6c7e"/>
<circle cx="459.4" cy="423.5" r="0.8" fill="#c07a8a"/>
<circle cx="411.9" cy="409.6" r="0.6" fill="#c07a8a"/>
<circle cx="404.8" cy="422.6" r="0.5" fill="#c07a8a"/>
<circle cx="370.3" cy="403.2" r="1.0" fill="#88384c"/>
<circle cx="406.3" cy="429.8" r="0.7" fill="#904054"/>
<circle cx="437.4" cy="380.3" r="1.1" fill="#904054"/>
<circle cx="404.3" cy="409.3" r="0.6" fill="#904054"/>
<circle cx="385.6" cy="464.8" r="0.9" fill="#88384c"/>
<circle cx="395.1" cy="407.9" r="1.1" fill="#b46070"/>
<circle cx="381.7" cy="458.9" r="0.6" fill="#b46070"/>
<circle cx="361.4" cy="461.2" r="0.6" fill="#904054"/>
<circle cx="411.6" cy="456.8" r="0.7" fill="#c07a8a"/>
<circle cx="436.6" cy="474.2" r="1.0" fill="#b46070"/>
<circle cx="435.5" cy="389.6" r="1.0" fill="#c07a8a"/>
<circle cx="435.5" cy="383.7" r="0.9" fill="#88384c"/>
<circle cx="390.4" cy="405.6" r="0.7" fill="#9a485a"/>
<circle cx="431.6" cy="413.6" r="0.9" fill="#9a485a"/>
<circle cx="367.1" cy="441.4" r="0.8" fill="#9a485a"/>
<circle cx="470.4" cy="381.8" r="1.1" fill="#9a485a"/>
<circle cx="373.8" cy="413.7" r="0.7" fill="#b46070"/>
<circle cx="460.8" cy="448.8" r="1.0" fill="#bc6c7e"/>
<circle cx="467.3" cy="424.2" r="0.5" fill="#c07a8a"/>
<circle cx="376.6" cy="434.7" r="0.9" fill="#bc6c7e"/>
<circle cx="472.9" cy="393.5" r="0.9" fill="#c07a8a"/>
<circle cx="431.1" cy="400.2" r="1.0" fill="#bc6c7e"/>
<circle cx="407.8" cy="473.6" r="1.0" fill="#9a485a"/>
<circle cx="432.5" cy="425.3" r="1.2" fill="#c07a8a"/>
<circle cx="438.3" cy="403.8" r="0.6" fill="#b46070"/>
<circle cx="416.3" cy="381.0" r="0.9" fill="#904054"/>
<circle cx="383.0" cy="456.6" r="0.5" fill="#c07a8a"/>
<circle cx="443.6" cy="393.2" r="0.7" fill="#bc6c7e"/>
<circle cx="426.6" cy="472.9" r="1.0" fill="#c07a8a"/>
<circle cx="468.9" cy="394.8" r="0.7" fill="#88384c"/>
<circle cx="382.6" cy="408.1" r="0.8" fill="#bc6c7e"/>
<circle cx="437.2" cy="412.2" r="0.7" fill="#88384c"/>
<circle cx="390.4" cy="396.5" r="1.1" fill="#88384c"/>
<circle cx="416.9" cy="416.8" r="0.6" fill="#c07a8a"/>
<circle cx="365.3" cy="403.9" r="0.9" fill="#9a485a"/>
<circle cx="423.4" cy="443.0" r="1.0" fill="#c07a8a"/>
<circle cx="404.5" cy="447.6" r="0.8" fill="#c07a8a"/>
<circle cx="456.4" cy="388.2" r="0.8" fill="#bc6c7e"/>
<circle cx="365.0" cy="458.5" r="0.9" fill="#c07a8a"/>
<circle cx="428.3" cy="412.0" r="1.2" fill="#bc6c7e"/>
<circle cx="459.1" cy="385.8" r="0.9" fill="#88384c"/>
<circle cx="454.4" cy="447.1" r="1.2" fill="#904054"/>
<circle cx="433.1" cy="472.5" r="0.9" fill="#9a485a"/>
<circle cx="373.6" cy="416.4" r="1.1" fill="#9a485a"/>
<circle cx="455.0" cy="416.0" r="0.8" fill="#c07a8a"/>
<circle cx="399.8" cy="394.7" r="1.1" fill="#b46070"/>
<circle cx="443.3" cy="417.4" r="1.1" fill="#c07a8a"/>
<circle cx="375.4" cy="409.9" r="0.5" fill="#88384c"/>
<circle cx="367.9" cy="376.5" r="0.9" fill="#904054"/>
<circle cx="425.5" cy="416.4" r="0.9" fill="#c07a8a"/>
<circle cx="448.9" cy="443.9" r="1.1" fill="#904054"/>
<circle cx="377.4" cy="443.1" r="1.0" fill="#b46070"/>
<circle cx="374.4" cy="404.3" r="0.5" fill="#9a485a"/>
<circle cx="403.3" cy="404.8" r="1.0" fill="#9a485a"/>
<circle cx="403.7" cy="465.4" r="1.0" fill="#b46070"/>
<circle cx="428.6" cy="426.9" r="0.9" fill="#904054"/>
<circle cx="395.2" cy="412.0" r="0.9" fill="#bc6c7e"/>
<circle cx="400.9" cy="445.8" r="0.6" fill="#c07a8a"/>
<circle cx="385.0" cy="421.8" r="1.0" fill="#88384c"/>
<circle cx="391.4" cy="382.1" r="0.8" fill="#b46070"/>
<circle cx="427.5" cy="379.4" r="0.9" fill="#88384c"/>
<circle cx="372.8" cy="398.5" r="0.9" fill="#c07a8a"/>
<circle cx="469.1" cy="429.0" r="0.7" fill="#b46070"/>
<circle cx="449.8" cy="397.0" r="1.1" fill="#b46070"/>
<circle cx="420.9" cy="379.2" r="1.0" fill="#bc6c7e"/>
<circle cx="451.8" cy="402.9" r="0.8" fill="#9a485a"/>
<circle cx="391.2" cy="385.1" r="0.6" fill="#88384c"/>
<circle cx="418.1" cy="434.8" r="0.7" fill="#bc6c7e"/>
<circle cx="451.0" cy="471.9" r="0.7" fill="#c07a8a"/>
<circle cx="368.4" cy="423.8" r="0.6" fill="#88384c"/>
<circle cx="469.6" cy="463.9" r="0.9" fill="#904054"/>
<circle cx="398.9" cy="395.1" r="0.8" fill="#c07a8a"/>
<circle cx="446.0" cy="383.8" r="1.1" fill="#bc6c7e"/>
<circle cx="409.8" cy="395.9" r="1.0" fill="#904054"/>
<circle cx="447.6" cy="396.2" r="1.0" fill="#c07a8a"/>
<circle cx="444.7" cy="470.6" r="1.1" fill="#9a485a"/>
<circle cx="429.5" cy="377.7" r="0.7" fill="#88384c"/>
<circle cx="361.8" cy="462.2" r="1.0" fill="#9a485a"/>
<circle cx="421.0" cy="431.7" r="0.9" fill="#b46070"/>
<circle cx="431.6" cy="474.9" r="0.7" fill="#bc6c7e"/>
<circle cx="443.7" cy="445.0" r="0.8" fill="#bc6c7e"/>
<circle cx="451.1" cy="421.5" r="0.6" fill="#bc6c7e"/>
<circle cx="457.1" cy="412.4" r="1.1" fill="#88384c"/>
<circle cx="472.1" cy="467.0" r="1.1" fill="#88384c"/>
<circle cx="461.5" cy="473.4" r="1.1" fill="#b46070"/>
<circle cx="423.9" cy="426.8" r="0.6" fill="#c07a8a"/>
<circle cx="434.4" cy="469.5" r="0.6" fill="#c07a8a"/>
<circle cx="467.0" cy="473.8" r="0.8" fill="#9a485a"/>
<circle cx="442.2" cy="392.2" r="1.1" fill="#88384c"/>
<circle cx="375.4" cy="377.5" r="0.6" fill="#b46070"/>
<circle cx="420.3" cy="378.9" r="1.1" fill="#bc6c7e"/>
<circle cx="412.6" cy="380.5" r="1.1" fill="#b46070"/>
<circle cx="463.4" cy="461.7" r="0.7" fill="#b46070"/>
<circle cx="460.2" cy="424.4" r="0.9" fill="#904054"/>
<circle cx="361.2" cy="396.5" r="0.7" fill="#bc6c7e"/>
<circle cx="371.4" cy="463.6" r="1.2" fill="#88384c"/>
<circle cx="411.8" cy="434.5" r="0.9" fill="#9a485a"/>
<circle cx="463.4" cy="452.0" r="0.9" fill="#9a485a"/>
<circle cx="366.4" cy="423.0" r="0.8" fill="#9a485a"/>
<circle cx="457.5" cy="474.8" r="1.0" fill="#88384c"/>
<circle cx="438.4" cy="423.2" r="0.6" fill="#88384c"/>
<circle cx="427.9" cy="382.4" r="0.7" fill="#904054"/>
<circle cx="360.9" cy="432.6" r="1.0" fill="#904054"/>
<circle cx="431.8" cy="450.0" r="0.5" fill="#bc6c7e"/>
<circle cx="462.7" cy="396.1" r="0.5" fill="#88384c"/>
<circle cx="365.8" cy="400.1" r="1.2" fill="#904054"/>
<circle cx="447.8" cy="380.6" r="0.9" fill="#b46070"/>
<circle cx="464.0" cy="402.4" r="0.6" fill="#bc6c7e"/>
<circle cx="414.3" cy="471.4" r="1.0" fill="#9a485a"/>
<circle cx="371.2" cy="390.4" r="0.9" fill="#b46070"/>
<circle cx="418.1" cy="386.7" r="1.1" fill="#88384c"/>
<circle cx="463.7" cy="376.4" r="1.1" fill="#b46070"/>
<circle cx="433.5" cy="384.7" r="0.9" fill="#b46070"/>
<circle cx="427.4" cy="455.8" r="0.6" fill="#bc6c7e"/>
<circle cx="434.9" cy="437.4" r="0.8" fill="#9a485a"/>
<circle cx="361.2" cy="450.4" r="0.5" fill="#b46070"/>
<circle cx="451.9" cy="421.8" r="0.6" fill="#9a485a"/>
<circle cx="443.3" cy="443.1" r="1.2" fill="#b46070"/>
<circle cx="470.5" cy="430.6" r="0.7" fill="#bc6c7e"/>
<circle cx="370.2" cy="400.0" r="1.1" fill="#bc6c7e"/>
<circle cx="370.5" cy="403.5" r="0.7" fill="#c07a8a"/>
<circle cx="377.0" cy="436.6" r="1.2" fill="#904054"/>
<circle cx="361.1" cy="383.6" r="0.6" fill="#9a485a"/>
<circle cx="446.9" cy="397.5" r="0.8" fill="#88384c"/>
<circle cx="464.5" cy="433.4" r="0.6" fill="#9a485a"/>
<circle cx="445.2" cy="384.1" r="0.5" fill="#bc6c7e"/>
<circle cx="441.2" cy="379.2" r="1.0" fill="#88384c"/>
<circle cx="450.7" cy="381.6" r="0.9" fill="#c07a8a"/>
<circle cx="410.2" cy="446.5" r="0.7" fill="#c07a8a"/>
<circle cx="455.8" cy="379.0" r="0.8" fill="#904054"/>
<circle cx="410.3" cy="473.9" r="1.0" fill="#88384c"/>
<circle cx="446.3" cy="459.5" r="1.2" fill="#c07a8a"/>
<circle cx="391.3" cy="401.0" r="0.8" fill="#bc6c7e"/>
<circle cx="398.8" cy="430.4" r="0.7" fill="#c07a8a"/>
<circle cx="360.5" cy="453.0" r="0.7" fill="#c07a8a"/>
<circle cx="450.0" cy="429.2" r="0.6" fill="#c07a8a"/>
<circle cx="408.3" cy="409.7" r="0.5" fill="#bc6c7e"/>
<circle cx="469.3" cy="392.2" r="0.9" fill="#9a485a"/>
<circle cx="435.2" cy="400.6" r="1.1" fill="#b46070"/>
<circle cx="438.1" cy="472.5" r="0.6" fill="#904054"/>
<circle cx="384.9" cy="451.4" r="1.1" fill="#9a485a"/>
<circle cx="389.7" cy="447.5" r="1.2" fill="#904054"/>
<circle cx="429.2" cy="437.4" r="0.6" fill="#9a485a"/>
<circle cx="392.4" cy="415.1" r="0.7" fill="#bc6c7e"/>
<circle cx="370.7" cy="462.4" r="0.9" fill="#b46070"/>
<circle cx="469.1" cy="440.2" r="0.9" fill="#9a485a"/>
<circle cx="368.2" cy="382.9" r="0.8" fill="#bc6c7e"/>
<circle cx="367.5" cy="382.8" r="0.5" fill="#c07a8a"/>
<circle cx="368.7" cy="431.7" r="1.0" fill="#9a485a"/>
<circle cx="469.7" cy="444.7" r="0.7" fill="#88384c"/>
<circle cx="380.4" cy="386.1" r="0.7" fill="#88384c"/>
<circle cx="438.9" cy="393.4" r="1.2" fill="#bc6c7e"/>
<circle cx="457.5" cy="422.0" r="0.7" fill="#904054"/>
<circle cx="363.8" cy="458.7" r="0.7" fill="#904054"/>
</g>
<polygon points="328.1,460.0 332.0,424.0 334.0,402.5 341.3,393.7 355.9,395.2 366.2,408.4 372.0,430.0 377.0,460.0" fill="#8a1a2a" filter="url(#soft)"/>
<clipPath id="cp91"><polygon points="155.0,28.0 200.0,28.0 198.0,72.0 190.0,98.0 170.0,101.0 160.0,72.0"/></clipPath>
<g clip-path="url(#cp91)">
<circle cx="191.1" cy="77.0" r="1.1" fill="#5a0e1c"/>
<circle cx="193.1" cy="33.3" r="0.9" fill="#c03444"/>
<circle cx="184.8" cy="50.8" r="1.1" fill="#5a0e1c"/>
<circle cx="161.5" cy="35.1" r="2.0" fill="#4e0a16"/>
<circle cx="166.4" cy="34.5" r="1.5" fill="#5a0e1c"/>
<circle cx="157.9" cy="29.1" r="1.8" fill="#6a1424"/>
<circle cx="197.1" cy="53.9" r="1.5" fill="#6a1424"/>
<circle cx="161.2" cy="85.5" r="1.1" fill="#b02c3e"/>
<circle cx="162.5" cy="76.4" r="1.8" fill="#6a1424"/>
<circle cx="167.8" cy="55.8" r="1.7" fill="#6a1424"/>
<circle cx="184.2" cy="92.7" r="1.7" fill="#b02c3e"/>
<circle cx="165.8" cy="93.2" r="1.1" fill="#5a0e1c"/>
<circle cx="157.3" cy="76.4" r="1.8" fill="#6a1424"/>
<circle cx="167.7" cy="62.5" r="1.4" fill="#5a0e1c"/>
<circle cx="175.7" cy="79.9" r="0.9" fill="#5a0e1c"/>
<circle cx="176.8" cy="95.4" r="1.9" fill="#4e0a16"/>
<circle cx="174.8" cy="36.6" r="0.9" fill="#b02c3e"/>
<circle cx="175.0" cy="45.5" r="1.2" fill="#5a0e1c"/>
<circle cx="158.2" cy="44.2" r="1.7" fill="#7a1828"/>
<circle cx="182.5" cy="101.0" r="1.9" fill="#4e0a16"/>
<circle cx="160.0" cy="96.9" r="1.4" fill="#6a1424"/>
<circle cx="178.5" cy="65.3" r="1.2" fill="#5a0e1c"/>
<circle cx="158.7" cy="47.4" r="1.9" fill="#4e0a16"/>
<circle cx="190.3" cy="37.6" r="1.8" fill="#c03444"/>
<circle cx="169.3" cy="43.0" r="1.6" fill="#b02c3e"/>
<circle cx="158.1" cy="79.4" r="1.4" fill="#b02c3e"/>
<circle cx="163.1" cy="28.8" r="1.6" fill="#7a1828"/>
<circle cx="195.6" cy="75.0" r="1.6" fill="#5a0e1c"/>
<circle cx="179.2" cy="45.1" r="1.4" fill="#7a1828"/>
<circle cx="161.3" cy="54.6" r="1.3" fill="#b02c3e"/>
<circle cx="188.3" cy="90.6" r="1.2" fill="#c03444"/>
<circle cx="163.2" cy="44.6" r="1.5" fill="#c03444"/>
<circle cx="158.7" cy="43.8" r="0.8" fill="#4e0a16"/>
<circle cx="198.9" cy="89.3" r="1.2" fill="#b02c3e"/>
<circle cx="181.2" cy="96.6" r="1.3" fill="#c03444"/>
<circle cx="162.4" cy="54.3" r="1.4" fill="#5a0e1c"/>
<circle cx="176.5" cy="65.4" r="1.9" fill="#4e0a16"/>
<circle cx="185.3" cy="43.5" r="1.9" fill="#6a1424"/>
<circle cx="192.5" cy="42.7" r="2.0" fill="#4e0a16"/>
<circle cx="167.2" cy="99.2" r="1.7" fill="#5a0e1c"/>
<circle cx="173.3" cy="53.1" r="1.6" fill="#5a0e1c"/>
<circle cx="180.6" cy="84.2" r="1.1" fill="#5a0e1c"/>
<circle cx="162.0" cy="87.3" r="1.5" fill="#4e0a16"/>
<circle cx="180.3" cy="80.0" r="1.0" fill="#6a1424"/>
<circle cx="180.3" cy="48.0" r="1.3" fill="#6a1424"/>
<circle cx="199.9" cy="37.9" r="1.2" fill="#5a0e1c"/>
<circle cx="162.5" cy="58.9" r="0.9" fill="#4e0a16"/>
<circle cx="190.6" cy="46.5" r="1.5" fill="#6a1424"/>
<circle cx="193.7" cy="97.9" r="1.1" fill="#c03444"/>
<circle cx="173.3" cy="31.8" r="1.9" fill="#5a0e1c"/>
<circle cx="198.5" cy="94.0" r="0.9" fill="#6a1424"/>
<circle cx="194.2" cy="58.7" r="1.4" fill="#b02c3e"/>
<circle cx="191.3" cy="75.7" r="1.4" fill="#5a0e1c"/>
<circle cx="175.1" cy="64.5" r="1.4" fill="#c03444"/>
<circle cx="191.0" cy="93.6" r="2.0" fill="#6a1424"/>
<circle cx="174.6" cy="71.2" r="1.1" fill="#4e0a16"/>
<circle cx="163.2" cy="78.5" r="1.1" fill="#6a1424"/>
<circle cx="173.5" cy="97.8" r="1.1" fill="#5a0e1c"/>
<circle cx="186.5" cy="32.2" r="1.6" fill="#6a1424"/>
<circle cx="185.2" cy="86.4" r="0.8" fill="#4e0a16"/>
<circle cx="170.3" cy="83.5" r="1.9" fill="#6a1424"/>
<circle cx="175.9" cy="51.7" r="2.0" fill="#4e0a16"/>
<circle cx="159.0" cy="98.9" r="1.5" fill="#4e0a16"/>
<circle cx="198.3" cy="93.7" r="1.1" fill="#c03444"/>
<circle cx="186.9" cy="55.7" r="1.4" fill="#b02c3e"/>
<circle cx="160.7" cy="44.2" r="1.1" fill="#b02c3e"/>
<circle cx="160.1" cy="65.2" r="1.9" fill="#7a1828"/>
<circle cx="173.9" cy="33.7" r="1.5" fill="#b02c3e"/>
<circle cx="181.0" cy="54.0" r="1.6" fill="#4e0a16"/>
<circle cx="169.2" cy="87.2" r="1.6" fill="#c03444"/>
<circle cx="185.4" cy="39.7" r="1.2" fill="#c03444"/>
<circle cx="189.5" cy="89.0" r="1.6" fill="#c03444"/>
<circle cx="166.2" cy="71.2" r="1.7" fill="#b02c3e"/>
<circle cx="189.5" cy="50.0" r="1.1" fill="#5a0e1c"/>
<circle cx="182.1" cy="90.0" r="1.9" fill="#7a1828"/>
<circle cx="157.1" cy="93.5" r="1.5" fill="#4e0a16"/>
<circle cx="187.7" cy="47.9" r="0.9" fill="#5a0e1c"/>
<circle cx="192.7" cy="34.3" r="1.1" fill="#6a1424"/>
<circle cx="165.3" cy="47.4" r="1.7" fill="#6a1424"/>
<circle cx="155.9" cy="36.3" r="1.9" fill="#6a1424"/>
<circle cx="161.7" cy="52.5" r="1.4" fill="#b02c3e"/>
<circle cx="168.1" cy="82.6" r="1.8" fill="#b02c3e"/>
<circle cx="157.5" cy="34.1" r="1.0" fill="#5a0e1c"/>
<circle cx="157.9" cy="31.8" r="2.0" fill="#6a1424"/>
<circle cx="190.6" cy="81.2" r="1.2" fill="#4e0a16"/>
<circle cx="161.3" cy="72.2" r="2.0" fill="#5a0e1c"/>
<circle cx="188.8" cy="89.2" r="1.3" fill="#b02c3e"/>
<circle cx="187.3" cy="44.7" r="1.8" fill="#4e0a16"/>
<circle cx="159.2" cy="70.8" r="1.0" fill="#c03444"/>
<circle cx="175.3" cy="62.2" r="1.8" fill="#7a1828"/>
<circle cx="159.2" cy="76.4" r="1.5" fill="#6a1424"/>
<circle cx="155.6" cy="96.2" r="1.1" fill="#c03444"/>
<circle cx="175.6" cy="82.8" r="1.4" fill="#7a1828"/>
<circle cx="179.0" cy="80.9" r="0.8" fill="#c03444"/>
<circle cx="156.1" cy="65.4" r="1.1" fill="#c03444"/>
<circle cx="186.1" cy="72.9" r="1.9" fill="#6a1424"/>
<circle cx="199.4" cy="100.7" r="1.9" fill="#6a1424"/>
<circle cx="162.1" cy="44.5" r="1.7" fill="#c03444"/>
<circle cx="187.2" cy="98.0" r="1.8" fill="#b02c3e"/>
<circle cx="172.8" cy="66.2" r="1.2" fill="#7a1828"/>
<circle cx="169.2" cy="49.4" r="1.2" fill="#6a1424"/>
<circle cx="161.8" cy="96.0" r="1.9" fill="#4e0a16"/>
<circle cx="156.4" cy="51.4" r="1.7" fill="#c03444"/>
<circle cx="178.5" cy="54.5" r="1.7" fill="#7a1828"/>
<circle cx="169.0" cy="33.5" r="1.6" fill="#7a1828"/>
<circle cx="172.4" cy="63.3" r="1.1" fill="#c03444"/>
<circle cx="178.1" cy="60.8" r="1.8" fill="#c03444"/>
<circle cx="173.8" cy="79.5" r="1.4" fill="#c03444"/>
<circle cx="197.0" cy="73.2" r="0.9" fill="#4e0a16"/>
<circle cx="159.0" cy="95.3" r="1.0" fill="#7a1828"/>
<circle cx="160.8" cy="62.0" r="1.5" fill="#b02c3e"/>
<circle cx="184.6" cy="90.2" r="1.6" fill="#b02c3e"/>
<circle cx="174.7" cy="34.3" r="1.3" fill="#5a0e1c"/>
<circle cx="187.2" cy="81.7" r="0.8" fill="#c03444"/>
<circle cx="161.1" cy="35.8" r="0.9" fill="#6a1424"/>
<circle cx="191.8" cy="72.1" r="1.3" fill="#6a1424"/>
<circle cx="162.8" cy="83.8" r="1.3" fill="#b02c3e"/>
<circle cx="171.3" cy="93.1" r="1.3" fill="#7a1828"/>
<circle cx="160.3" cy="46.9" r="1.7" fill="#c03444"/>
<circle cx="195.7" cy="62.5" r="1.9" fill="#7a1828"/>
<circle cx="191.5" cy="83.4" r="1.3" fill="#6a1424"/>
<circle cx="188.0" cy="37.5" r="1.0" fill="#4e0a16"/>
<circle cx="159.8" cy="87.4" r="1.2" fill="#6a1424"/>
<circle cx="156.2" cy="65.4" r="1.8" fill="#c03444"/>
<circle cx="161.7" cy="90.4" r="1.2" fill="#6a1424"/>
<circle cx="187.8" cy="90.0" r="1.6" fill="#c03444"/>
<circle cx="173.8" cy="88.0" r="1.8" fill="#7a1828"/>
<circle cx="170.5" cy="85.5" r="1.1" fill="#5a0e1c"/>
<circle cx="195.5" cy="97.5" r="1.2" fill="#b02c3e"/>
<circle cx="191.9" cy="47.4" r="1.2" fill="#b02c3e"/>
<circle cx="182.8" cy="56.8" r="1.1" fill="#6a1424"/>
<circle cx="155.6" cy="77.3" r="1.7" fill="#7a1828"/>
<circle cx="189.0" cy="45.8" r="1.9" fill="#5a0e1c"/>
<circle cx="199.6" cy="81.1" r="1.7" fill="#b02c3e"/>
<circle cx="166.4" cy="75.9" r="1.3" fill="#b02c3e"/>
<circle cx="161.0" cy="67.4" r="1.2" fill="#5a0e1c"/>
<circle cx="170.5" cy="89.6" r="1.8" fill="#6a1424"/>
<circle cx="193.6" cy="97.7" r="1.8" fill="#7a1828"/>
<circle cx="184.4" cy="31.5" r="1.8" fill="#7a1828"/>
<circle cx="199.1" cy="97.1" r="1.4" fill="#4e0a16"/>
<circle cx="190.2" cy="91.5" r="1.1" fill="#b02c3e"/>
<circle cx="171.2" cy="32.7" r="0.9" fill="#5a0e1c"/>
<circle cx="195.6" cy="29.9" r="1.2" fill="#7a1828"/>
<circle cx="158.0" cy="82.1" r="1.0" fill="#4e0a16"/>
<circle cx="183.8" cy="50.7" r="1.4" fill="#4e0a16"/>
<circle cx="168.9" cy="74.2" r="1.9" fill="#4e0a16"/>
<circle cx="169.3" cy="53.2" r="1.8" fill="#c03444"/>
<circle cx="194.3" cy="69.8" r="0.9" fill="#7a1828"/>
<circle cx="199.9" cy="93.4" r="0.9" fill="#4e0a16"/>
<circle cx="173.7" cy="92.3" r="1.6" fill="#6a1424"/>
<circle cx="164.4" cy="67.6" r="1.9" fill="#c03444"/>
<circle cx="186.3" cy="37.1" r="1.9" fill="#5a0e1c"/>
<circle cx="175.8" cy="69.6" r="0.8" fill="#6a1424"/>
<circle cx="174.3" cy="34.7" r="1.4" fill="#7a1828"/>
<circle cx="190.5" cy="54.0" r="1.1" fill="#c03444"/>
<circle cx="182.2" cy="32.2" r="1.2" fill="#c03444"/>
<circle cx="174.5" cy="55.8" r="1.7" fill="#4e0a16"/>
<circle cx="164.1" cy="50.0" r="1.2" fill="#c03444"/>
<circle cx="198.8" cy="63.9" r="1.7" fill="#5a0e1c"/>
<circle cx="185.1" cy="38.5" r="1.9" fill="#7a1828"/>
<circle cx="195.5" cy="40.0" r="0.8" fill="#c03444"/>
<circle cx="179.8" cy="83.4" r="1.8" fill="#b02c3e"/>
<circle cx="157.4" cy="32.0" r="1.4" fill="#7a1828"/>
<circle cx="193.3" cy="80.1" r="1.7" fill="#6a1424"/>
<circle cx="178.0" cy="96.1" r="1.5" fill="#6a1424"/>
<circle cx="161.9" cy="60.0" r="0.8" fill="#6a1424"/>
<circle cx="182.1" cy="46.9" r="1.1" fill="#4e0a16"/>
<circle cx="164.7" cy="73.9" r="0.9" fill="#5a0e1c"/>
<circle cx="191.1" cy="93.9" r="1.0" fill="#6a1424"/>
<circle cx="179.2" cy="44.9" r="1.8" fill="#6a1424"/>
<circle cx="182.1" cy="94.0" r="1.0" fill="#7a1828"/>
<circle cx="187.5" cy="36.0" r="1.4" fill="#7a1828"/>
<circle cx="187.0" cy="47.9" r="1.8" fill="#7a1828"/>
<circle cx="157.4" cy="96.9" r="1.3" fill="#5a0e1c"/>
<circle cx="194.1" cy="93.5" r="1.5" fill="#4e0a16"/>
<circle cx="161.4" cy="61.6" r="1.6" fill="#7a1828"/>
<circle cx="170.1" cy="84.0" r="1.1" fill="#6a1424"/>
<circle cx="165.2" cy="91.5" r="1.2" fill="#4e0a16"/>
<circle cx="168.6" cy="39.8" r="1.1" fill="#5a0e1c"/>
<circle cx="161.4" cy="71.1" r="0.9" fill="#b02c3e"/>
<circle cx="163.3" cy="63.0" r="1.3" fill="#7a1828"/>
<circle cx="176.9" cy="97.0" r="1.4" fill="#6a1424"/>
<circle cx="176.2" cy="65.2" r="1.4" fill="#6a1424"/>
<circle cx="158.3" cy="79.2" r="2.0" fill="#4e0a16"/>
<circle cx="159.5" cy="81.6" r="1.2" fill="#c03444"/>
<circle cx="186.1" cy="56.6" r="1.0" fill="#7a1828"/>
<circle cx="179.7" cy="31.0" r="1.7" fill="#4e0a16"/>
<circle cx="171.0" cy="74.0" r="1.9" fill="#4e0a16"/>
<circle cx="197.8" cy="73.2" r="1.0" fill="#c03444"/>
<circle cx="184.8" cy="81.7" r="1.9" fill="#6a1424"/>
<circle cx="183.2" cy="77.5" r="1.3" fill="#b02c3e"/>
<circle cx="181.6" cy="77.4" r="1.2" fill="#6a1424"/>
<circle cx="179.7" cy="57.4" r="1.0" fill="#5a0e1c"/>
<circle cx="161.1" cy="94.0" r="2.0" fill="#7a1828"/>
<circle cx="169.5" cy="63.0" r="1.4" fill="#b02c3e"/>
<circle cx="178.5" cy="29.4" r="1.5" fill="#b02c3e"/>
<circle cx="183.8" cy="62.8" r="1.2" fill="#4e0a16"/>
<circle cx="182.4" cy="69.3" r="1.8" fill="#5a0e1c"/>
<circle cx="171.7" cy="56.3" r="1.2" fill="#c03444"/>
<circle cx="179.3" cy="48.1" r="1.2" fill="#4e0a16"/>
<circle cx="162.2" cy="78.4" r="0.8" fill="#6a1424"/>
<circle cx="164.4" cy="81.8" r="1.0" fill="#b02c3e"/>
<circle cx="165.3" cy="32.2" r="1.1" fill="#c03444"/>
<circle cx="198.7" cy="94.2" r="0.9" fill="#6a1424"/>
<circle cx="179.8" cy="95.3" r="0.9" fill="#6a1424"/>
<circle cx="174.5" cy="42.1" r="1.7" fill="#c03444"/>
<circle cx="172.4" cy="34.8" r="1.8" fill="#6a1424"/>
<circle cx="181.9" cy="99.3" r="0.8" fill="#5a0e1c"/>
<circle cx="162.2" cy="30.8" r="1.2" fill="#c03444"/>
<circle cx="183.4" cy="36.2" r="1.0" fill="#6a1424"/>
<circle cx="163.9" cy="54.1" r="1.9" fill="#6a1424"/>
<circle cx="171.2" cy="99.5" r="1.3" fill="#4e0a16"/>
<circle cx="173.4" cy="60.6" r="1.4" fill="#5a0e1c"/>
<circle cx="199.8" cy="79.5" r="1.0" fill="#6a1424"/>
<circle cx="195.2" cy="85.9" r="1.6" fill="#c03444"/>
<circle cx="157.7" cy="66.7" r="1.6" fill="#5a0e1c"/>
<circle cx="190.2" cy="68.0" r="1.9" fill="#5a0e1c"/>
<circle cx="175.3" cy="92.3" r="1.5" fill="#b02c3e"/>
<circle cx="184.7" cy="65.3" r="1.0" fill="#5a0e1c"/>
<circle cx="196.2" cy="68.9" r="1.0" fill="#6a1424"/>
<circle cx="186.0" cy="39.4" r="1.6" fill="#7a1828"/>
<circle cx="191.1" cy="85.4" r="1.4" fill="#5a0e1c"/>
<circle cx="193.0" cy="54.4" r="1.6" fill="#6a1424"/>
<circle cx="180.6" cy="81.2" r="1.3" fill="#4e0a16"/>
<circle cx="198.0" cy="95.8" r="1.5" fill="#b02c3e"/>
<circle cx="195.3" cy="41.9" r="2.0" fill="#6a1424"/>
<circle cx="190.6" cy="85.5" r="1.8" fill="#7a1828"/>
<circle cx="186.0" cy="51.2" r="1.7" fill="#b02c3e"/>
<circle cx="191.0" cy="52.6" r="1.5" fill="#7a1828"/>
<circle cx="177.0" cy="48.1" r="1.9" fill="#5a0e1c"/>
</g>
<clipPath id="cp92"><polygon points="328.1,460.0 332.0,424.0 334.0,402.5 341.3,393.7 355.9,395.2 366.2,408.4 372.0,430.0 377.0,460.0"/></clipPath>
<g clip-path="url(#cp92)">
<circle cx="352.2" cy="448.6" r="0.6" fill="#74101e"/>
<circle cx="365.3" cy="431.7" r="1.2" fill="#98202e"/>
<circle cx="352.9" cy="440.4" r="0.6" fill="#98202e"/>
<circle cx="366.1" cy="400.5" r="0.8" fill="#a02438"/>
<circle cx="357.7" cy="422.6" r="1.2" fill="#74101e"/>
<circle cx="332.1" cy="423.5" r="0.9" fill="#a02438"/>
<circle cx="352.2" cy="441.6" r="0.8" fill="#98202e"/>
<circle cx="340.7" cy="445.6" r="0.7" fill="#98202e"/>
<circle cx="374.2" cy="459.9" r="0.9" fill="#98202e"/>
<circle cx="362.0" cy="436.6" r="0.8" fill="#98202e"/>
<circle cx="370.3" cy="420.3" r="1.3" fill="#74101e"/>
<circle cx="375.0" cy="396.8" r="1.2" fill="#98202e"/>
<circle cx="342.5" cy="433.6" r="1.2" fill="#98202e"/>
<circle cx="364.3" cy="402.4" r="1.0" fill="#74101e"/>
<circle cx="370.1" cy="410.9" r="1.0" fill="#74101e"/>
<circle cx="351.5" cy="399.5" r="1.2" fill="#a02438"/>
<circle cx="338.6" cy="433.5" r="1.2" fill="#a02438"/>
<circle cx="363.8" cy="416.5" r="1.3" fill="#a02438"/>
<circle cx="374.9" cy="436.5" r="1.1" fill="#98202e"/>
<circle cx="337.2" cy="426.9" r="0.8" fill="#a02438"/>
<circle cx="372.4" cy="408.5" r="1.2" fill="#a02438"/>
<circle cx="340.3" cy="454.2" r="0.8" fill="#98202e"/>
<circle cx="342.9" cy="459.6" r="0.6" fill="#74101e"/>
<circle cx="354.2" cy="450.4" r="0.9" fill="#a02438"/>
<circle cx="348.5" cy="424.8" r="0.8" fill="#a02438"/>
<circle cx="364.5" cy="409.1" r="0.9" fill="#98202e"/>
<circle cx="375.1" cy="454.9" r="0.7" fill="#98202e"/>
<circle cx="334.0" cy="414.8" r="1.2" fill="#a02438"/>
<circle cx="372.1" cy="424.8" r="1.3" fill="#98202e"/>
<circle cx="346.1" cy="430.4" r="1.1" fill="#98202e"/>
<circle cx="344.2" cy="416.4" r="0.7" fill="#74101e"/>
<circle cx="375.0" cy="458.8" r="0.7" fill="#98202e"/>
<circle cx="341.9" cy="415.6" r="1.0" fill="#a02438"/>
<circle cx="343.4" cy="395.6" r="0.7" fill="#a02438"/>
<circle cx="374.9" cy="423.9" r="0.9" fill="#98202e"/>
<circle cx="362.1" cy="425.6" r="1.3" fill="#a02438"/>
<circle cx="354.7" cy="450.9" r="1.1" fill="#74101e"/>
<circle cx="337.3" cy="406.3" r="0.8" fill="#98202e"/>
<circle cx="340.0" cy="458.2" r="0.6" fill="#a02438"/>
<circle cx="338.4" cy="398.4" r="1.0" fill="#98202e"/>
<circle cx="333.9" cy="449.2" r="1.1" fill="#98202e"/>
<circle cx="342.1" cy="400.4" r="0.7" fill="#98202e"/>
<circle cx="363.0" cy="393.8" r="0.6" fill="#74101e"/>
<circle cx="332.4" cy="412.3" r="1.2" fill="#98202e"/>
<circle cx="328.5" cy="421.3" r="1.2" fill="#98202e"/>
<circle cx="354.2" cy="405.7" r="1.0" fill="#a02438"/>
<circle cx="372.4" cy="408.6" r="0.7" fill="#a02438"/>
<circle cx="341.2" cy="452.1" r="1.0" fill="#74101e"/>
<circle cx="361.1" cy="419.2" r="1.3" fill="#a02438"/>
<circle cx="331.4" cy="448.8" r="1.3" fill="#a02438"/>
<circle cx="368.7" cy="452.9" r="1.0" fill="#74101e"/>
<circle cx="345.9" cy="437.6" r="1.3" fill="#a02438"/>
<circle cx="376.7" cy="435.0" r="1.1" fill="#a02438"/>
<circle cx="346.3" cy="417.9" r="0.7" fill="#74101e"/>
<circle cx="340.6" cy="403.1" r="0.7" fill="#a02438"/>
<circle cx="333.5" cy="446.5" r="0.7" fill="#74101e"/>
<circle cx="352.7" cy="431.8" r="1.0" fill="#74101e"/>
<circle cx="350.8" cy="443.4" r="1.1" fill="#a02438"/>
<circle cx="348.8" cy="409.4" r="1.1" fill="#a02438"/>
<circle cx="371.9" cy="417.4" r="1.1" fill="#74101e"/>
<circle cx="356.9" cy="422.2" r="0.9" fill="#a02438"/>
<circle cx="339.0" cy="438.1" r="1.2" fill="#74101e"/>
<circle cx="376.4" cy="409.5" r="0.6" fill="#a02438"/>
<circle cx="337.8" cy="410.9" r="1.1" fill="#a02438"/>
<circle cx="344.7" cy="398.9" r="1.1" fill="#a02438"/>
<circle cx="353.1" cy="455.8" r="0.8" fill="#a02438"/>
<circle cx="336.5" cy="422.3" r="1.3" fill="#a02438"/>
<circle cx="362.6" cy="422.1" r="0.7" fill="#a02438"/>
<circle cx="352.4" cy="459.3" r="1.1" fill="#98202e"/>
<circle cx="335.8" cy="435.1" r="0.6" fill="#98202e"/>
<circle cx="330.0" cy="396.9" r="1.0" fill="#98202e"/>
<circle cx="363.2" cy="427.6" r="0.7" fill="#98202e"/>
<circle cx="338.3" cy="410.9" r="0.9" fill="#a02438"/>
<circle cx="372.2" cy="393.9" r="0.8" fill="#74101e"/>
<circle cx="333.0" cy="420.7" r="1.0" fill="#74101e"/>
<circle cx="376.7" cy="415.9" r="0.8" fill="#98202e"/>
<circle cx="344.2" cy="396.2" r="0.9" fill="#74101e"/>
<circle cx="331.5" cy="399.3" r="0.6" fill="#a02438"/>
<circle cx="376.5" cy="454.7" r="0.7" fill="#98202e"/>
<circle cx="361.4" cy="410.5" r="0.7" fill="#74101e"/>
<circle cx="355.6" cy="423.4" r="0.6" fill="#98202e"/>
<circle cx="367.9" cy="425.1" r="0.7" fill="#74101e"/>
<circle cx="349.5" cy="437.5" r="0.6" fill="#a02438"/>
<circle cx="356.4" cy="458.4" r="0.6" fill="#98202e"/>
<circle cx="366.8" cy="398.7" r="1.2" fill="#a02438"/>
<circle cx="330.7" cy="432.4" r="1.1" fill="#74101e"/>
<circle cx="336.4" cy="448.7" r="0.9" fill="#74101e"/>
<circle cx="336.0" cy="422.7" r="0.7" fill="#a02438"/>
<circle cx="332.6" cy="441.8" r="1.2" fill="#98202e"/>
<circle cx="372.5" cy="437.4" r="0.8" fill="#a02438"/>
<circle cx="333.7" cy="418.9" r="1.1" fill="#a02438"/>
<circle cx="335.6" cy="451.7" r="0.7" fill="#74101e"/>
<circle cx="376.8" cy="414.8" r="1.2" fill="#98202e"/>
<circle cx="370.4" cy="432.7" r="1.3" fill="#98202e"/>
<circle cx="366.5" cy="449.3" r="1.0" fill="#74101e"/>
<circle cx="353.5" cy="425.7" r="0.8" fill="#74101e"/>
<circle cx="345.4" cy="430.8" r="1.3" fill="#98202e"/>
<circle cx="341.7" cy="427.0" r="1.0" fill="#74101e"/>
<circle cx="349.1" cy="433.3" r="0.6" fill="#74101e"/>
<circle cx="341.6" cy="444.8" r="1.1" fill="#74101e"/>
<circle cx="353.4" cy="410.2" r="1.2" fill="#98202e"/>
<circle cx="354.6" cy="429.8" r="0.8" fill="#98202e"/>
<circle cx="329.7" cy="410.7" r="0.8" fill="#98202e"/>
<circle cx="338.5" cy="423.7" r="0.9" fill="#74101e"/>
<circle cx="350.4" cy="399.4" r="0.9" fill="#98202e"/>
<circle cx="338.2" cy="409.2" r="1.1" fill="#98202e"/>
<circle cx="364.0" cy="410.7" r="0.9" fill="#a02438"/>
<circle cx="341.4" cy="397.7" r="0.9" fill="#a02438"/>
<circle cx="349.5" cy="434.0" r="1.2" fill="#74101e"/>
<circle cx="367.4" cy="408.9" r="0.8" fill="#a02438"/>
<circle cx="363.3" cy="442.6" r="0.7" fill="#a02438"/>
<circle cx="346.2" cy="411.6" r="0.9" fill="#98202e"/>
<circle cx="334.5" cy="416.2" r="0.9" fill="#74101e"/>
<circle cx="342.2" cy="404.0" r="0.7" fill="#98202e"/>
<circle cx="337.1" cy="404.2" r="0.8" fill="#98202e"/>
<circle cx="369.8" cy="415.7" r="1.2" fill="#a02438"/>
<circle cx="349.0" cy="406.4" r="1.1" fill="#74101e"/>
<circle cx="353.0" cy="401.1" r="0.8" fill="#98202e"/>
<circle cx="347.5" cy="433.2" r="0.8" fill="#a02438"/>
<circle cx="347.3" cy="406.0" r="1.1" fill="#98202e"/>
</g>
<path d="M110.7 143.4C110.9 143.0 110.8 141.6 111.9 141.1C113.0 140.6 115.2 140.3 117.3 140.3C119.4 140.3 122.7 140.6 124.4 140.9C126.1 141.2 127.1 141.8 127.5 142.3C127.9 142.9 127.2 143.7 126.7 144.2C126.2 144.7 124.6 144.9 124.2 145.4C123.8 145.9 123.8 146.5 124.6 147.3C125.4 148.1 127.3 149.5 129.1 150.1C130.9 150.7 133.2 150.9 135.3 150.9C137.4 150.9 139.8 150.7 141.6 150.1C143.4 149.5 144.8 148.5 146.3 147.3C147.9 146.1 149.2 143.9 150.9 142.7C152.6 141.5 154.3 140.6 156.4 139.9C158.5 139.2 160.6 139.0 163.4 138.4C166.2 137.8 169.7 136.9 173.2 136.2C176.7 135.5 180.2 135.0 184.6 134.2C188.9 133.4 195.2 132.2 199.3 131.3C203.5 130.5 206.6 129.2 209.5 129.1C212.4 129.0 214.5 131.1 216.9 130.5C219.3 129.9 221.3 126.7 224.2 125.4C227.1 124.1 232.0 124.0 234.4 122.5C236.8 121.0 236.8 117.9 238.8 116.6C240.8 115.2 244.4 116.5 246.2 114.4C248.0 112.3 248.6 107.9 249.8 104.2C251.0 100.5 252.2 95.7 253.5 92.4C254.8 89.1 255.9 86.5 257.9 84.4C259.8 82.3 262.5 81.1 265.2 80.0C267.9 78.9 271.7 79.4 274.0 77.8C276.3 76.2 277.2 72.7 279.1 70.5C281.1 68.3 283.1 66.1 285.7 64.6C288.3 63.1 291.3 62.2 294.5 61.7C297.7 61.2 301.6 61.0 304.8 61.4C308.0 61.8 311.0 63.0 313.5 63.9C316.0 64.8 318.6 67.1 320.0 66.8C321.4 66.5 320.8 63.9 321.7 62.0C322.6 60.1 324.0 58.0 325.5 55.7C327.0 53.4 329.0 50.5 330.6 48.0C332.2 45.5 333.7 42.5 335.0 40.4C336.3 38.3 336.9 36.5 338.3 35.3C339.7 34.1 341.3 33.3 343.4 33.3C345.5 33.3 348.4 34.8 351.0 35.3C353.6 35.8 355.9 36.7 358.7 36.6C361.5 36.5 364.9 35.4 367.6 34.8C370.3 34.2 372.9 33.7 375.0 32.8C377.1 31.9 379.2 30.1 380.0 29.5L463 29.5L463 316.8L462.3 316.8C461.2 316.7 458.1 316.6 455.5 316.1C452.9 315.6 449.7 314.8 446.8 313.9C443.9 313.0 440.4 311.2 438.0 311.0C435.6 310.8 434.1 311.4 432.1 312.5C430.2 313.6 428.0 315.1 426.3 317.6C424.6 320.2 423.6 325.0 421.9 327.8C420.2 330.6 418.2 333.2 416.0 334.4C413.8 335.6 410.9 335.7 408.7 335.2C406.5 334.7 403.7 333.5 402.8 331.5C401.9 329.5 403.0 326.7 403.5 323.4C404.0 320.1 405.6 315.0 405.7 311.7C405.8 308.4 405.3 305.0 404.3 303.7C403.3 302.4 401.6 302.8 399.9 303.7C398.2 304.6 395.9 307.0 394.0 308.8C392.1 310.6 391.1 313.8 388.2 314.6C385.3 315.5 380.2 314.9 376.5 313.9C372.8 312.9 369.6 310.4 366.2 308.8C362.8 307.2 358.7 305.9 356.0 304.4C353.3 302.9 351.1 302.4 350.1 300.0C349.1 297.6 350.2 292.6 349.9 290.0C349.5 287.4 348.8 287.6 348.0 284.7C347.2 281.8 346.1 276.9 345.4 272.7C344.7 268.5 344.4 262.9 344.0 259.3C343.6 255.7 343.6 253.3 342.7 251.3C341.8 249.3 340.7 248.2 338.7 247.3C336.7 246.4 333.8 246.7 330.7 246.0C327.6 245.3 324.3 243.9 320.0 243.3C315.7 242.7 309.1 243.2 304.8 242.3C300.6 241.4 297.7 240.0 294.5 237.9C291.3 235.8 288.3 232.6 285.7 229.8C283.1 227.0 281.8 222.9 279.1 221.3C276.4 219.7 273.1 220.8 269.6 220.3C266.1 219.8 261.3 219.4 257.9 218.4C254.5 217.4 250.9 215.8 249.1 214.4C247.3 213.0 248.6 211.8 246.9 210.0C245.2 208.2 241.5 205.3 238.8 203.4C236.1 201.5 234.0 198.3 230.8 198.3C227.6 198.3 222.9 201.5 219.8 203.4C216.8 205.3 215.2 208.4 212.5 210.0C209.8 211.6 207.1 212.1 203.7 213.0C200.3 213.9 195.9 215.5 192.0 215.4C188.1 215.3 183.5 213.3 180.3 212.2C177.1 211.1 175.2 209.0 173.0 208.6C170.8 208.2 168.9 208.5 167.2 210.0C165.5 211.5 164.5 215.2 162.8 217.4C161.1 219.6 158.7 221.0 156.9 223.2C155.1 225.4 153.3 229.5 151.8 230.6C150.3 231.7 149.2 231.0 148.1 229.8C147.0 228.6 146.4 224.5 145.2 223.2C144.0 221.9 142.8 223.3 140.8 221.8C138.9 220.3 135.7 216.9 133.5 214.4C131.3 211.9 129.2 209.8 127.6 207.1C126.0 204.4 124.6 201.2 123.9 198.3C123.2 195.4 123.8 192.7 123.2 189.5C122.6 186.3 121.4 182.7 120.3 179.3C119.2 175.9 117.6 172.4 116.6 169.0C115.6 165.6 114.5 161.5 114.4 158.8C114.3 156.1 114.8 154.2 115.8 152.8C116.8 151.4 119.5 151.3 120.3 150.5C121.1 149.7 120.9 148.7 120.7 148.1C120.5 147.5 120.1 147.3 118.9 147.0C117.7 146.7 114.3 146.3 113.4 146.2Z" fill="none" stroke="#b4909f" stroke-width="17" stroke-linejoin="round" filter="url(#soft1)"/>
<path d="M110.7 143.4C110.9 143.0 110.8 141.6 111.9 141.1C113.0 140.6 115.2 140.3 117.3 140.3C119.4 140.3 122.7 140.6 124.4 140.9C126.1 141.2 127.1 141.8 127.5 142.3C127.9 142.9 127.2 143.7 126.7 144.2C126.2 144.7 124.6 144.9 124.2 145.4C123.8 145.9 123.8 146.5 124.6 147.3C125.4 148.1 127.3 149.5 129.1 150.1C130.9 150.7 133.2 150.9 135.3 150.9C137.4 150.9 139.8 150.7 141.6 150.1C143.4 149.5 144.8 148.5 146.3 147.3C147.9 146.1 149.2 143.9 150.9 142.7C152.6 141.5 154.3 140.6 156.4 139.9C158.5 139.2 160.6 139.0 163.4 138.4C166.2 137.8 169.7 136.9 173.2 136.2C176.7 135.5 180.2 135.0 184.6 134.2C188.9 133.4 195.2 132.2 199.3 131.3C203.5 130.5 206.6 129.2 209.5 129.1C212.4 129.0 214.5 131.1 216.9 130.5C219.3 129.9 221.3 126.7 224.2 125.4C227.1 124.1 232.0 124.0 234.4 122.5C236.8 121.0 236.8 117.9 238.8 116.6C240.8 115.2 244.4 116.5 246.2 114.4C248.0 112.3 248.6 107.9 249.8 104.2C251.0 100.5 252.2 95.7 253.5 92.4C254.8 89.1 255.9 86.5 257.9 84.4C259.8 82.3 262.5 81.1 265.2 80.0C267.9 78.9 271.7 79.4 274.0 77.8C276.3 76.2 277.2 72.7 279.1 70.5C281.1 68.3 283.1 66.1 285.7 64.6C288.3 63.1 291.3 62.2 294.5 61.7C297.7 61.2 301.6 61.0 304.8 61.4C308.0 61.8 311.0 63.0 313.5 63.9C316.0 64.8 318.6 67.1 320.0 66.8C321.4 66.5 320.8 63.9 321.7 62.0C322.6 60.1 324.0 58.0 325.5 55.7C327.0 53.4 329.0 50.5 330.6 48.0C332.2 45.5 333.7 42.5 335.0 40.4C336.3 38.3 336.9 36.5 338.3 35.3C339.7 34.1 341.3 33.3 343.4 33.3C345.5 33.3 348.4 34.8 351.0 35.3C353.6 35.8 355.9 36.7 358.7 36.6C361.5 36.5 364.9 35.4 367.6 34.8C370.3 34.2 372.9 33.7 375.0 32.8C377.1 31.9 379.2 30.1 380.0 29.5L463 29.5L463 316.8L462.3 316.8C461.2 316.7 458.1 316.6 455.5 316.1C452.9 315.6 449.7 314.8 446.8 313.9C443.9 313.0 440.4 311.2 438.0 311.0C435.6 310.8 434.1 311.4 432.1 312.5C430.2 313.6 428.0 315.1 426.3 317.6C424.6 320.2 423.6 325.0 421.9 327.8C420.2 330.6 418.2 333.2 416.0 334.4C413.8 335.6 410.9 335.7 408.7 335.2C406.5 334.7 403.7 333.5 402.8 331.5C401.9 329.5 403.0 326.7 403.5 323.4C404.0 320.1 405.6 315.0 405.7 311.7C405.8 308.4 405.3 305.0 404.3 303.7C403.3 302.4 401.6 302.8 399.9 303.7C398.2 304.6 395.9 307.0 394.0 308.8C392.1 310.6 391.1 313.8 388.2 314.6C385.3 315.5 380.2 314.9 376.5 313.9C372.8 312.9 369.6 310.4 366.2 308.8C362.8 307.2 358.7 305.9 356.0 304.4C353.3 302.9 351.1 302.4 350.1 300.0C349.1 297.6 350.2 292.6 349.9 290.0C349.5 287.4 348.8 287.6 348.0 284.7C347.2 281.8 346.1 276.9 345.4 272.7C344.7 268.5 344.4 262.9 344.0 259.3C343.6 255.7 343.6 253.3 342.7 251.3C341.8 249.3 340.7 248.2 338.7 247.3C336.7 246.4 333.8 246.7 330.7 246.0C327.6 245.3 324.3 243.9 320.0 243.3C315.7 242.7 309.1 243.2 304.8 242.3C300.6 241.4 297.7 240.0 294.5 237.9C291.3 235.8 288.3 232.6 285.7 229.8C283.1 227.0 281.8 222.9 279.1 221.3C276.4 219.7 273.1 220.8 269.6 220.3C266.1 219.8 261.3 219.4 257.9 218.4C254.5 217.4 250.9 215.8 249.1 214.4C247.3 213.0 248.6 211.8 246.9 210.0C245.2 208.2 241.5 205.3 238.8 203.4C236.1 201.5 234.0 198.3 230.8 198.3C227.6 198.3 222.9 201.5 219.8 203.4C216.8 205.3 215.2 208.4 212.5 210.0C209.8 211.6 207.1 212.1 203.7 213.0C200.3 213.9 195.9 215.5 192.0 215.4C188.1 215.3 183.5 213.3 180.3 212.2C177.1 211.1 175.2 209.0 173.0 208.6C170.8 208.2 168.9 208.5 167.2 210.0C165.5 211.5 164.5 215.2 162.8 217.4C161.1 219.6 158.7 221.0 156.9 223.2C155.1 225.4 153.3 229.5 151.8 230.6C150.3 231.7 149.2 231.0 148.1 229.8C147.0 228.6 146.4 224.5 145.2 223.2C144.0 221.9 142.8 223.3 140.8 221.8C138.9 220.3 135.7 216.9 133.5 214.4C131.3 211.9 129.2 209.8 127.6 207.1C126.0 204.4 124.6 201.2 123.9 198.3C123.2 195.4 123.8 192.7 123.2 189.5C122.6 186.3 121.4 182.7 120.3 179.3C119.2 175.9 117.6 172.4 116.6 169.0C115.6 165.6 114.5 161.5 114.4 158.8C114.3 156.1 114.8 154.2 115.8 152.8C116.8 151.4 119.5 151.3 120.3 150.5C121.1 149.7 120.9 148.7 120.7 148.1C120.5 147.5 120.1 147.3 118.9 147.0C117.7 146.7 114.3 146.3 113.4 146.2Z" fill="none" stroke="#c4aaba" stroke-width="8" stroke-linejoin="round" filter="url(#soft1)"/>
<path d="M28.0 174.9C30.2 166.1 37.5 174.0 41.2 173.4C44.9 172.8 48.2 172.0 50.0 171.2C51.8 170.3 51.0 168.7 52.2 168.3C53.4 167.9 55.5 169.7 57.3 169.0C59.1 168.3 61.0 165.5 63.2 163.9C65.4 162.3 68.5 160.1 70.5 159.5C72.5 158.9 73.9 160.9 74.9 160.3C75.9 159.7 75.3 157.2 76.3 155.9C77.3 154.6 78.8 152.9 80.7 152.2C82.7 151.5 85.5 151.4 88.0 151.8C90.5 152.2 93.2 153.1 95.4 154.4C97.6 155.7 99.7 157.1 101.2 159.5C102.7 161.9 103.1 165.0 104.2 169.0C105.3 173.0 106.6 178.6 107.8 183.7C109.0 188.8 110.6 195.2 111.5 199.8C112.4 204.4 112.8 208.0 113.0 211.5C113.2 215.0 113.9 219.3 112.7 221.0C111.5 222.7 107.1 222.0 105.6 221.8C104.0 221.6 104.1 219.6 103.4 220.0C102.7 220.4 103.0 222.8 101.2 224.0C99.4 225.2 95.8 226.1 92.4 226.9C89.0 227.8 84.4 228.6 80.7 229.1C77.0 229.6 73.4 230.1 70.5 229.8C67.6 229.6 65.7 228.3 63.2 227.6C60.8 226.9 59.2 225.8 55.8 225.4C52.4 225.0 47.2 225.3 42.6 225.4C38.0 225.5 30.4 234.6 28.0 226.2C25.6 217.8 25.8 183.7 28.0 174.9Z" fill="none" stroke="#b896a6" stroke-width="16" stroke-linejoin="round" filter="url(#soft1)"/>
<path d="M28.0 174.9C30.2 166.1 37.5 174.0 41.2 173.4C44.9 172.8 48.2 172.0 50.0 171.2C51.8 170.3 51.0 168.7 52.2 168.3C53.4 167.9 55.5 169.7 57.3 169.0C59.1 168.3 61.0 165.5 63.2 163.9C65.4 162.3 68.5 160.1 70.5 159.5C72.5 158.9 73.9 160.9 74.9 160.3C75.9 159.7 75.3 157.2 76.3 155.9C77.3 154.6 78.8 152.9 80.7 152.2C82.7 151.5 85.5 151.4 88.0 151.8C90.5 152.2 93.2 153.1 95.4 154.4C97.6 155.7 99.7 157.1 101.2 159.5C102.7 161.9 103.1 165.0 104.2 169.0C105.3 173.0 106.6 178.6 107.8 183.7C109.0 188.8 110.6 195.2 111.5 199.8C112.4 204.4 112.8 208.0 113.0 211.5C113.2 215.0 113.9 219.3 112.7 221.0C111.5 222.7 107.1 222.0 105.6 221.8C104.0 221.6 104.1 219.6 103.4 220.0C102.7 220.4 103.0 222.8 101.2 224.0C99.4 225.2 95.8 226.1 92.4 226.9C89.0 227.8 84.4 228.6 80.7 229.1C77.0 229.6 73.4 230.1 70.5 229.8C67.6 229.6 65.7 228.3 63.2 227.6C60.8 226.9 59.2 225.8 55.8 225.4C52.4 225.0 47.2 225.3 42.6 225.4C38.0 225.5 30.4 234.6 28.0 226.2C25.6 217.8 25.8 183.7 28.0 174.9Z" fill="none" stroke="#cdb8c6" stroke-width="7" stroke-linejoin="round" filter="url(#soft1)"/>
<path d="M62.4 233.5C63.5 231.6 67.9 232.5 71.9 232.0C75.9 231.5 81.9 230.9 86.6 230.6C91.2 230.3 97.1 229.6 99.8 230.3C102.5 231.0 102.5 233.4 102.7 235.0C102.9 236.6 102.3 238.7 101.2 240.1C100.1 241.5 96.9 241.6 96.1 243.7C95.2 245.8 96.6 249.6 96.1 252.5C95.6 255.4 94.8 258.7 93.2 261.3C91.6 263.9 88.3 267.7 86.6 268.4C84.9 269.1 84.6 267.2 82.9 265.7C81.2 264.1 78.5 261.3 76.3 259.1C74.1 256.9 71.5 255.1 69.7 252.5C67.9 249.9 66.6 246.9 65.4 243.7C64.2 240.5 61.3 235.4 62.4 233.5Z" fill="none" stroke="#b896a6" stroke-width="16" stroke-linejoin="round" filter="url(#soft1)"/>
<path d="M62.4 233.5C63.5 231.6 67.9 232.5 71.9 232.0C75.9 231.5 81.9 230.9 86.6 230.6C91.2 230.3 97.1 229.6 99.8 230.3C102.5 231.0 102.5 233.4 102.7 235.0C102.9 236.6 102.3 238.7 101.2 240.1C100.1 241.5 96.9 241.6 96.1 243.7C95.2 245.8 96.6 249.6 96.1 252.5C95.6 255.4 94.8 258.7 93.2 261.3C91.6 263.9 88.3 267.7 86.6 268.4C84.9 269.1 84.6 267.2 82.9 265.7C81.2 264.1 78.5 261.3 76.3 259.1C74.1 256.9 71.5 255.1 69.7 252.5C67.9 249.9 66.6 246.9 65.4 243.7C64.2 240.5 61.3 235.4 62.4 233.5Z" fill="none" stroke="#cdb8c6" stroke-width="7" stroke-linejoin="round" filter="url(#soft1)"/>
<path d="M62.4 233.5C63.5 231.6 67.9 232.5 71.9 232.0C75.9 231.5 81.9 230.9 86.6 230.6C91.2 230.3 97.1 229.6 99.8 230.3C102.5 231.0 102.5 233.4 102.7 235.0C102.9 236.6 102.3 238.7 101.2 240.1C100.1 241.5 96.9 241.6 96.1 243.7C95.2 245.8 96.6 249.6 96.1 252.5C95.6 255.4 94.8 258.7 93.2 261.3C91.6 263.9 88.3 267.7 86.6 268.4C84.9 269.1 84.6 267.2 82.9 265.7C81.2 264.1 78.5 261.3 76.3 259.1C74.1 256.9 71.5 255.1 69.7 252.5C67.9 249.9 66.6 246.9 65.4 243.7C64.2 240.5 61.3 235.4 62.4 233.5Z" fill="none" stroke="#86687a" stroke-width="5" transform="translate(0 3)" filter="url(#soft1)"/>
<clipPath id="cp0"><polygon points="96.0,336.0 112.0,337.0 128.0,350.0 132.0,365.0 133.0,381.0 124.0,386.0 122.0,400.0 124.0,415.0 119.0,427.0 103.0,427.0 97.0,405.0 99.0,388.0 92.0,372.0 91.5,350.0"/></clipPath>
<g clip-path="url(#cp0)">
<polygon points="96.0,336.0 112.0,337.0 128.0,350.0 132.0,365.0 133.0,381.0 124.0,386.0 122.0,400.0 124.0,415.0 119.0,427.0 103.0,427.0 97.0,405.0 99.0,388.0 92.0,372.0 91.5,350.0" fill="#cbe4e0" />
<rect x="104.6" y="403.5" width="4.7" height="3.6" fill="#f4fbfa" transform="rotate(-24 106.9 405.3)"/>
<rect x="117.3" y="390.3" width="4.5" height="2.6" fill="#f4fbfa" transform="rotate(-20 119.5 391.6)"/>
<rect x="121.7" y="414.6" width="3.6" height="3.3" fill="#ffffff" transform="rotate(-20 123.5 416.3)"/>
<rect x="94.3" y="353.8" width="4.6" height="3.0" fill="#f4fbfa" transform="rotate(-21 96.6 355.4)"/>
<rect x="105.5" y="394.1" width="5.1" height="2.9" fill="#d43448" transform="rotate(68 108.1 395.5)"/>
<rect x="119.7" y="378.4" width="7.9" height="2.3" fill="#f4fbfa" transform="rotate(-18 123.7 379.6)"/>
<rect x="124.0" y="384.0" width="4.9" height="3.8" fill="#3c3a40" transform="rotate(74 126.4 385.9)"/>
<rect x="124.3" y="362.5" width="7.4" height="3.6" fill="#4a4248" transform="rotate(-21 127.9 364.3)"/>
<rect x="107.2" y="380.4" width="4.4" height="3.6" fill="#dff0ee" transform="rotate(-23 109.5 382.2)"/>
<rect x="111.2" y="344.7" width="4.5" height="3.3" fill="#b02a3c" transform="rotate(73 113.4 346.4)"/>
<rect x="114.3" y="385.0" width="4.4" height="3.7" fill="#dff0ee" transform="rotate(73 116.5 386.9)"/>
<rect x="103.6" y="424.3" width="6.2" height="2.5" fill="#e6f4f0" transform="rotate(67 106.7 425.6)"/>
<rect x="90.4" y="416.6" width="4.1" height="2.2" fill="#f4fbfa" transform="rotate(69 92.4 417.7)"/>
<rect x="99.0" y="350.4" width="6.5" height="2.5" fill="#dff0ee" transform="rotate(-24 102.2 351.7)"/>
<rect x="97.4" y="421.6" width="6.4" height="3.6" fill="#c4dedc" transform="rotate(-20 100.6 423.4)"/>
<rect x="92.3" y="350.0" width="3.9" height="3.8" fill="#dff0ee" transform="rotate(-19 94.3 351.9)"/>
<rect x="124.8" y="360.6" width="5.7" height="3.6" fill="#e6f4f0" transform="rotate(-22 127.6 362.4)"/>
<rect x="100.1" y="352.4" width="7.9" height="3.8" fill="#f4fbfa" transform="rotate(72 104.0 354.3)"/>
<rect x="101.1" y="345.9" width="7.3" height="3.2" fill="#f4fbfa" transform="rotate(-19 104.8 347.5)"/>
<rect x="94.3" y="389.6" width="3.2" height="4.1" fill="#dff0ee" transform="rotate(-22 95.9 391.7)"/>
<rect x="123.0" y="350.5" width="7.1" height="3.2" fill="#5c4a52" transform="rotate(67 126.6 352.1)"/>
<rect x="123.7" y="376.0" width="4.2" height="2.6" fill="#dff0ee" transform="rotate(71 125.8 377.3)"/>
<rect x="93.2" y="368.8" width="7.5" height="2.2" fill="#e6f4f0" transform="rotate(-18 97.0 369.9)"/>
<rect x="116.0" y="362.2" width="6.7" height="2.4" fill="#6a5a60" transform="rotate(70 119.4 363.4)"/>
<rect x="89.5" y="340.0" width="4.4" height="2.8" fill="#dff0ee" transform="rotate(71 91.7 341.4)"/>
<rect x="124.0" y="347.5" width="6.5" height="3.1" fill="#c4dedc" transform="rotate(-16 127.3 349.1)"/>
<rect x="96.8" y="359.0" width="7.8" height="3.2" fill="#3c3a40" transform="rotate(66 100.6 360.6)"/>
<rect x="92.0" y="374.5" width="7.0" height="3.1" fill="#c4dedc" transform="rotate(-19 95.4 376.0)"/>
<rect x="120.0" y="407.0" width="6.5" height="3.0" fill="#6a5a60" transform="rotate(67 123.3 408.5)"/>
<rect x="121.3" y="372.6" width="3.9" height="4.1" fill="#5c4a52" transform="rotate(-21 123.2 374.7)"/>
<rect x="123.0" y="342.9" width="4.4" height="3.5" fill="#c4dedc" transform="rotate(-21 125.2 344.6)"/>
<rect x="122.8" y="413.5" width="4.5" height="3.8" fill="#7a3a48" transform="rotate(-18 125.0 415.4)"/>
<rect x="96.8" y="395.1" width="3.5" height="4.1" fill="#c4dedc" transform="rotate(73 98.6 397.2)"/>
<rect x="117.5" y="374.5" width="7.2" height="2.5" fill="#5c4a52" transform="rotate(68 121.1 375.7)"/>
<rect x="125.6" y="370.0" width="3.7" height="2.6" fill="#f4fbfa" transform="rotate(-20 127.5 371.3)"/>
<rect x="111.1" y="374.1" width="5.5" height="3.9" fill="#5c4a52" transform="rotate(66 113.8 376.0)"/>
<rect x="120.5" y="386.5" width="5.7" height="2.6" fill="#d6ece8" transform="rotate(-16 123.4 387.9)"/>
<rect x="96.9" y="365.6" width="3.5" height="3.8" fill="#f4fbfa" transform="rotate(67 98.6 367.6)"/>
<rect x="112.6" y="400.8" width="3.5" height="3.9" fill="#e6f4f0" transform="rotate(-22 114.4 402.7)"/>
<rect x="93.3" y="357.4" width="3.4" height="3.2" fill="#e04458" transform="rotate(68 95.0 359.0)"/>
<rect x="99.0" y="414.1" width="5.1" height="3.7" fill="#e6f4f0" transform="rotate(72 101.6 415.9)"/>
<rect x="108.7" y="379.3" width="3.1" height="2.7" fill="#d6ece8" transform="rotate(69 110.3 380.6)"/>
<rect x="127.9" y="370.5" width="4.6" height="2.3" fill="#ffffff" transform="rotate(71 130.1 371.7)"/>
<rect x="112.4" y="382.9" width="6.8" height="2.7" fill="#c4dedc" transform="rotate(-19 115.8 384.3)"/>
<rect x="111.8" y="376.6" width="5.9" height="2.7" fill="#e6f4f0" transform="rotate(-19 114.7 378.0)"/>
<rect x="127.3" y="373.9" width="3.0" height="2.7" fill="#f4fbfa" transform="rotate(-20 128.8 375.2)"/>
<rect x="93.7" y="361.5" width="6.6" height="3.7" fill="#8a4a56" transform="rotate(71 96.9 363.3)"/>
<rect x="116.2" y="336.6" width="5.2" height="2.8" fill="#d6ece8" transform="rotate(-23 118.8 338.0)"/>
<rect x="115.8" y="360.7" width="7.0" height="2.8" fill="#f4fbfa" transform="rotate(-23 119.3 362.1)"/>
<rect x="115.9" y="424.7" width="4.5" height="3.8" fill="#dff0ee" transform="rotate(-19 118.2 426.6)"/>
<rect x="114.2" y="402.1" width="7.5" height="2.4" fill="#c4dedc" transform="rotate(69 117.9 403.3)"/>
<rect x="105.6" y="355.3" width="7.8" height="2.8" fill="#c4dedc" transform="rotate(70 109.6 356.8)"/>
<rect x="111.6" y="410.2" width="5.9" height="3.5" fill="#f4fbfa" transform="rotate(-20 114.6 411.9)"/>
<rect x="121.3" y="359.5" width="3.8" height="3.2" fill="#d6ece8" transform="rotate(-23 123.2 361.1)"/>
<rect x="89.2" y="341.7" width="6.1" height="3.5" fill="#ffffff" transform="rotate(72 92.2 343.4)"/>
<rect x="92.3" y="418.7" width="3.5" height="2.8" fill="#e6f4f0" transform="rotate(69 94.1 420.1)"/>
<rect x="123.1" y="342.5" width="3.1" height="3.2" fill="#e6f4f0" transform="rotate(-19 124.6 344.1)"/>
<rect x="90.5" y="360.8" width="7.8" height="3.1" fill="#d6ece8" transform="rotate(-19 94.4 362.4)"/>
<rect x="128.9" y="384.0" width="6.3" height="2.8" fill="#4a4248" transform="rotate(-21 132.0 385.4)"/>
<rect x="111.6" y="353.6" width="7.2" height="3.9" fill="#d6ece8" transform="rotate(-19 115.2 355.6)"/>
<rect x="90.1" y="375.9" width="4.6" height="3.3" fill="#ffffff" transform="rotate(-23 92.4 377.5)"/>
<rect x="110.5" y="365.6" width="4.8" height="2.8" fill="#d6ece8" transform="rotate(69 112.9 367.0)"/>
<rect x="106.4" y="415.1" width="4.4" height="4.2" fill="#c4dedc" transform="rotate(68 108.6 417.2)"/>
<rect x="123.3" y="389.6" width="4.0" height="4.2" fill="#ffffff" transform="rotate(-23 125.3 391.7)"/>
<rect x="125.2" y="350.3" width="4.3" height="3.4" fill="#6a5a60" transform="rotate(-18 127.3 352.0)"/>
<rect x="93.7" y="394.5" width="3.5" height="3.2" fill="#dff0ee" transform="rotate(66 95.5 396.1)"/>
<rect x="97.0" y="421.8" width="5.0" height="3.0" fill="#dff0ee" transform="rotate(69 99.4 423.4)"/>
<rect x="113.2" y="380.9" width="3.9" height="4.1" fill="#d6ece8" transform="rotate(66 115.1 382.9)"/>
<rect x="93.2" y="396.5" width="3.4" height="3.3" fill="#3c3a40" transform="rotate(73 94.9 398.2)"/>
<rect x="107.6" y="364.2" width="6.0" height="4.2" fill="#f4fbfa" transform="rotate(-23 110.6 366.3)"/>
<rect x="95.9" y="386.3" width="4.1" height="2.9" fill="#5c4a52" transform="rotate(-18 98.0 387.7)"/>
<rect x="98.5" y="411.2" width="4.6" height="3.9" fill="#d6ece8" transform="rotate(-21 100.8 413.2)"/>
<rect x="89.6" y="374.5" width="4.9" height="2.2" fill="#c4dedc" transform="rotate(-23 92.0 375.6)"/>
<rect x="128.6" y="371.0" width="4.2" height="3.4" fill="#c4dedc" transform="rotate(-22 130.7 372.7)"/>
<rect x="101.0" y="422.2" width="4.9" height="4.2" fill="#e6f4f0" transform="rotate(-19 103.4 424.3)"/>
<rect x="113.1" y="415.2" width="5.4" height="2.5" fill="#ffffff" transform="rotate(68 115.8 416.5)"/>
<rect x="104.8" y="351.7" width="6.5" height="3.3" fill="#dff0ee" transform="rotate(71 108.1 353.4)"/>
<rect x="126.8" y="408.5" width="5.8" height="2.9" fill="#d6ece8" transform="rotate(-24 129.8 409.9)"/>
<rect x="98.2" y="402.3" width="7.7" height="2.7" fill="#c4dedc" transform="rotate(70 102.0 403.7)"/>
<rect x="107.1" y="385.8" width="7.6" height="3.6" fill="#4a4248" transform="rotate(-18 110.9 387.6)"/>
<rect x="117.6" y="399.0" width="4.0" height="2.6" fill="#f4fbfa" transform="rotate(74 119.6 400.3)"/>
<rect x="106.9" y="406.9" width="6.2" height="2.5" fill="#f4fbfa" transform="rotate(67 110.0 408.2)"/>
<rect x="107.6" y="336.1" width="5.4" height="3.0" fill="#c4dedc" transform="rotate(-17 110.3 337.6)"/>
<rect x="121.8" y="387.9" width="4.2" height="2.8" fill="#c4dedc" transform="rotate(-19 123.9 389.4)"/>
<rect x="109.5" y="363.3" width="6.0" height="4.2" fill="#3c3a40" transform="rotate(-24 112.5 365.4)"/>
<rect x="122.8" y="412.1" width="7.3" height="3.2" fill="#d6ece8" transform="rotate(-19 126.5 413.6)"/>
<rect x="113.1" y="335.8" width="4.9" height="2.7" fill="#e6f4f0" transform="rotate(70 115.6 337.1)"/>
<rect x="104.6" y="379.6" width="5.0" height="2.4" fill="#ffffff" transform="rotate(-23 107.1 380.8)"/>
<rect x="112.4" y="413.4" width="7.9" height="3.7" fill="#6a5a60" transform="rotate(71 116.4 415.3)"/>
<rect x="87.9" y="377.7" width="7.5" height="2.9" fill="#e6f4f0" transform="rotate(71 91.6 379.2)"/>
<rect x="114.3" y="339.4" width="4.5" height="2.7" fill="#c4dedc" transform="rotate(-21 116.5 340.8)"/>
<rect x="125.2" y="392.5" width="5.9" height="2.5" fill="#d6ece8" transform="rotate(-18 128.1 393.7)"/>
<rect x="128.5" y="335.3" width="4.6" height="4.0" fill="#5c4a52" transform="rotate(-17 130.8 337.3)"/>
<rect x="95.0" y="358.0" width="6.7" height="3.9" fill="#dff0ee" transform="rotate(71 98.3 359.9)"/>
<rect x="93.8" y="408.1" width="7.1" height="2.4" fill="#c4dedc" transform="rotate(67 97.4 409.3)"/>
<rect x="106.2" y="411.4" width="7.8" height="2.8" fill="#ffffff" transform="rotate(72 110.1 412.8)"/>
<rect x="90.1" y="346.0" width="7.2" height="2.2" fill="#dff0ee" transform="rotate(-21 93.7 347.1)"/>
<rect x="90.6" y="368.9" width="7.7" height="3.3" fill="#4a4248" transform="rotate(70 94.5 370.6)"/>
<rect x="93.9" y="409.3" width="7.1" height="2.6" fill="#d6ece8" transform="rotate(-17 97.4 410.7)"/>
<rect x="91.6" y="417.1" width="4.3" height="4.0" fill="#6a5a60" transform="rotate(74 93.8 419.1)"/>
<rect x="93.6" y="351.4" width="6.5" height="3.0" fill="#8a4a56" transform="rotate(68 96.9 352.8)"/>
<rect x="100.1" y="383.4" width="3.7" height="3.9" fill="#f4fbfa" transform="rotate(-19 101.9 385.4)"/>
<rect x="93.1" y="405.4" width="6.8" height="2.8" fill="#3c3a40" transform="rotate(72 96.6 406.8)"/>
<rect x="112.2" y="374.8" width="3.5" height="3.0" fill="#5c4a52" transform="rotate(-17 113.9 376.3)"/>
<rect x="89.3" y="417.5" width="5.0" height="2.5" fill="#e6f4f0" transform="rotate(71 91.8 418.7)"/>
<rect x="94.3" y="370.4" width="4.0" height="3.4" fill="#d6ece8" transform="rotate(70 96.3 372.1)"/>
<rect x="118.1" y="346.2" width="4.9" height="2.8" fill="#dff0ee" transform="rotate(-22 120.5 347.6)"/>
<rect x="101.3" y="360.0" width="7.3" height="3.5" fill="#c4dedc" transform="rotate(-16 105.0 361.7)"/>
<rect x="106.5" y="386.2" width="7.3" height="2.7" fill="#d43448" transform="rotate(-20 110.2 387.6)"/>
<rect x="120.8" y="348.2" width="5.2" height="4.2" fill="#c4dedc" transform="rotate(69 123.4 350.2)"/>
<rect x="93.3" y="391.9" width="6.7" height="4.0" fill="#d6ece8" transform="rotate(70 96.6 393.9)"/>
<rect x="100.8" y="374.6" width="5.3" height="4.0" fill="#ffffff" transform="rotate(71 103.4 376.6)"/>
<rect x="115.1" y="350.2" width="4.3" height="3.2" fill="#8a4a56" transform="rotate(-22 117.3 351.8)"/>
<rect x="110.1" y="379.3" width="7.4" height="3.9" fill="#e6f4f0" transform="rotate(74 113.8 381.2)"/>
<rect x="118.5" y="398.3" width="6.4" height="2.4" fill="#f4fbfa" transform="rotate(69 121.7 399.5)"/>
<rect x="105.0" y="386.4" width="7.5" height="4.1" fill="#d6ece8" transform="rotate(67 108.7 388.5)"/>
<rect x="91.4" y="381.7" width="5.9" height="3.1" fill="#c4dedc" transform="rotate(71 94.4 383.2)"/>
<rect x="114.7" y="356.2" width="6.1" height="3.2" fill="#d6ece8" transform="rotate(69 117.8 357.8)"/>
<rect x="131.4" y="401.0" width="3.2" height="3.2" fill="#dff0ee" transform="rotate(-17 133.0 402.6)"/>
<rect x="92.1" y="361.8" width="3.4" height="2.6" fill="#d6ece8" transform="rotate(73 93.8 363.1)"/>
<rect x="105.2" y="341.7" width="6.7" height="2.5" fill="#4a4248" transform="rotate(67 108.5 343.0)"/>
<rect x="111.0" y="402.8" width="4.8" height="2.5" fill="#c4dedc" transform="rotate(-23 113.4 404.0)"/>
<rect x="91.1" y="364.1" width="7.3" height="3.0" fill="#d6ece8" transform="rotate(74 94.8 365.6)"/>
<rect x="100.7" y="376.7" width="3.8" height="3.7" fill="#d6ece8" transform="rotate(-19 102.6 378.6)"/>
<rect x="115.7" y="370.4" width="5.8" height="2.6" fill="#dff0ee" transform="rotate(70 118.6 371.7)"/>
<rect x="115.7" y="343.8" width="4.7" height="2.7" fill="#e6f4f0" transform="rotate(-20 118.0 345.1)"/>
<rect x="124.2" y="405.8" width="6.6" height="2.8" fill="#c22c40" transform="rotate(68 127.5 407.2)"/>
<rect x="115.1" y="385.6" width="5.4" height="2.9" fill="#c4dedc" transform="rotate(-16 117.8 387.1)"/>
<rect x="90.3" y="414.2" width="3.1" height="3.3" fill="#dff0ee" transform="rotate(70 91.9 415.8)"/>
<rect x="106.6" y="393.7" width="6.0" height="2.6" fill="#c4dedc" transform="rotate(-21 109.6 395.0)"/>
<rect x="121.5" y="397.5" width="4.5" height="3.6" fill="#6a5a60" transform="rotate(-22 123.8 399.3)"/>
<rect x="108.1" y="350.6" width="7.5" height="4.2" fill="#e6f4f0" transform="rotate(-22 111.9 352.7)"/>
<rect x="127.6" y="352.1" width="3.7" height="3.0" fill="#d6ece8" transform="rotate(-16 129.5 353.6)"/>
<rect x="101.6" y="403.4" width="5.1" height="3.5" fill="#d6ece8" transform="rotate(68 104.1 405.2)"/>
<rect x="129.4" y="421.6" width="3.1" height="2.9" fill="#f4fbfa" transform="rotate(68 130.9 423.0)"/>
<rect x="102.6" y="401.0" width="6.2" height="2.8" fill="#d6ece8" transform="rotate(-22 105.7 402.4)"/>
<rect x="94.5" y="368.1" width="3.6" height="2.6" fill="#b02a3c" transform="rotate(68 96.3 369.4)"/>
<rect x="110.0" y="405.0" width="6.6" height="2.9" fill="#d6ece8" transform="rotate(-20 113.3 406.4)"/>
<rect x="101.5" y="346.5" width="7.4" height="3.4" fill="#5c4a52" transform="rotate(-24 105.2 348.2)"/>
<rect x="117.7" y="355.7" width="5.7" height="3.9" fill="#c4dedc" transform="rotate(71 120.6 357.7)"/>
<rect x="96.9" y="390.9" width="5.1" height="4.2" fill="#8a4a56" transform="rotate(66 99.5 393.0)"/>
<rect x="101.0" y="345.1" width="3.7" height="3.3" fill="#8a4a56" transform="rotate(-20 102.9 346.7)"/>
<rect x="95.4" y="368.5" width="4.5" height="3.4" fill="#e6f4f0" transform="rotate(69 97.7 370.2)"/>
<rect x="105.7" y="421.1" width="4.7" height="4.1" fill="#f4fbfa" transform="rotate(-20 108.0 423.1)"/>
<rect x="126.9" y="344.8" width="7.2" height="3.7" fill="#ffffff" transform="rotate(-21 130.6 346.7)"/>
<rect x="94.8" y="351.6" width="5.8" height="3.5" fill="#e6f4f0" transform="rotate(67 97.7 353.3)"/>
<rect x="110.9" y="361.1" width="6.1" height="3.8" fill="#d6ece8" transform="rotate(68 113.9 363.0)"/>
<rect x="111.4" y="337.1" width="5.4" height="2.4" fill="#dff0ee" transform="rotate(68 114.1 338.3)"/>
<rect x="118.5" y="340.2" width="6.3" height="3.3" fill="#e6f4f0" transform="rotate(-24 121.7 341.8)"/>
<rect x="126.9" y="374.0" width="6.0" height="3.8" fill="#e6f4f0" transform="rotate(73 129.8 375.9)"/>
<rect x="100.9" y="337.6" width="3.7" height="4.2" fill="#f4fbfa" transform="rotate(-23 102.7 339.7)"/>
<rect x="125.8" y="395.3" width="5.9" height="2.5" fill="#e6f4f0" transform="rotate(69 128.8 396.5)"/>
<rect x="92.1" y="424.7" width="3.5" height="4.1" fill="#dff0ee" transform="rotate(-21 93.9 426.8)"/>
<rect x="95.2" y="404.3" width="3.9" height="3.8" fill="#f4fbfa" transform="rotate(68 97.1 406.2)"/>
<rect x="91.2" y="345.0" width="7.6" height="2.9" fill="#7a3a48" transform="rotate(-16 95.0 346.5)"/>
<rect x="98.1" y="336.1" width="4.6" height="2.8" fill="#6a5a60" transform="rotate(-24 100.4 337.5)"/>
<rect x="126.0" y="378.3" width="7.4" height="3.6" fill="#c4dedc" transform="rotate(72 129.7 380.1)"/>
<rect x="114.6" y="347.5" width="6.4" height="3.1" fill="#e6f4f0" transform="rotate(70 117.8 349.0)"/>
<rect x="96.4" y="364.6" width="7.5" height="3.7" fill="#e6f4f0" transform="rotate(71 100.2 366.4)"/>
<rect x="120.9" y="380.9" width="5.8" height="4.0" fill="#dff0ee" transform="rotate(71 123.9 383.0)"/>
<rect x="109.1" y="403.6" width="5.9" height="2.5" fill="#c4dedc" transform="rotate(-21 112.0 404.9)"/>
<rect x="112.3" y="367.4" width="5.0" height="3.1" fill="#ffffff" transform="rotate(-20 114.8 368.9)"/>
<rect x="102.2" y="345.1" width="5.5" height="2.5" fill="#4a4248" transform="rotate(-19 104.9 346.4)"/>
<rect x="94.5" y="338.7" width="6.5" height="3.9" fill="#e6f4f0" transform="rotate(-17 97.8 340.7)"/>
<rect x="98.3" y="357.3" width="6.5" height="3.8" fill="#c4dedc" transform="rotate(-22 101.5 359.2)"/>
<rect x="121.0" y="413.4" width="7.3" height="2.4" fill="#dff0ee" transform="rotate(73 124.6 414.6)"/>
<rect x="129.6" y="372.8" width="4.1" height="3.6" fill="#ffffff" transform="rotate(72 131.7 374.6)"/>
<rect x="128.5" y="403.8" width="3.7" height="3.6" fill="#6a5a60" transform="rotate(-20 130.4 405.6)"/>
<rect x="118.3" y="425.4" width="5.9" height="3.1" fill="#3c3a40" transform="rotate(-20 121.3 427.0)"/>
<rect x="122.0" y="351.1" width="6.6" height="2.9" fill="#e6f4f0" transform="rotate(73 125.3 352.5)"/>
<rect x="88.4" y="357.5" width="7.7" height="2.6" fill="#e6f4f0" transform="rotate(67 92.3 358.8)"/>
<rect x="112.5" y="349.9" width="4.5" height="3.4" fill="#ffffff" transform="rotate(68 114.8 351.6)"/>
<rect x="112.4" y="359.8" width="6.9" height="2.5" fill="#c4dedc" transform="rotate(-17 115.8 361.1)"/>
<rect x="96.5" y="352.2" width="3.7" height="2.6" fill="#c4dedc" transform="rotate(69 98.4 353.5)"/>
<rect x="107.8" y="370.1" width="6.9" height="4.0" fill="#dff0ee" transform="rotate(67 111.2 372.1)"/>
<rect x="127.5" y="364.3" width="4.0" height="4.2" fill="#f4fbfa" transform="rotate(74 129.5 366.4)"/>
<rect x="122.5" y="381.4" width="6.0" height="2.5" fill="#dff0ee" transform="rotate(66 125.5 382.7)"/>
<rect x="119.3" y="374.1" width="3.3" height="2.7" fill="#3c3a40" transform="rotate(69 121.0 375.4)"/>
<rect x="99.6" y="361.1" width="4.4" height="2.9" fill="#e6f4f0" transform="rotate(-19 101.8 362.5)"/>
<rect x="88.8" y="386.4" width="7.3" height="2.4" fill="#c4dedc" transform="rotate(-22 92.4 387.5)"/>
<rect x="129.9" y="403.4" width="4.7" height="2.3" fill="#d6ece8" transform="rotate(-21 132.2 404.6)"/>
<rect x="121.0" y="405.4" width="5.8" height="3.6" fill="#ffffff" transform="rotate(68 123.9 407.2)"/>
<rect x="98.8" y="342.8" width="7.9" height="2.3" fill="#d6ece8" transform="rotate(-19 102.8 343.9)"/>
<rect x="102.5" y="358.5" width="6.1" height="3.9" fill="#ffffff" transform="rotate(67 105.6 360.5)"/>
<rect x="125.8" y="344.7" width="3.9" height="2.7" fill="#c4dedc" transform="rotate(-20 127.8 346.1)"/>
<rect x="119.0" y="416.2" width="5.3" height="2.3" fill="#e6f4f0" transform="rotate(73 121.7 417.4)"/>
<rect x="90.6" y="340.1" width="3.9" height="2.8" fill="#dff0ee" transform="rotate(-20 92.6 341.5)"/>
<rect x="94.9" y="415.5" width="6.2" height="3.3" fill="#f4fbfa" transform="rotate(-20 98.1 417.2)"/>
<rect x="107.7" y="351.2" width="4.5" height="2.5" fill="#f4fbfa" transform="rotate(69 110.0 352.4)"/>
<rect x="121.2" y="382.6" width="6.0" height="3.1" fill="#e6f4f0" transform="rotate(-19 124.2 384.2)"/>
<rect x="114.5" y="347.9" width="4.6" height="3.9" fill="#4a4248" transform="rotate(-23 116.8 349.8)"/>
<rect x="126.5" y="373.0" width="7.7" height="2.7" fill="#8a4a56" transform="rotate(72 130.4 374.4)"/>
<rect x="105.0" y="365.3" width="3.8" height="3.9" fill="#e6f4f0" transform="rotate(68 106.9 367.2)"/>
<rect x="118.6" y="344.1" width="4.6" height="2.3" fill="#ffffff" transform="rotate(71 120.9 345.2)"/>
<rect x="103.3" y="384.9" width="6.0" height="3.1" fill="#4a4248" transform="rotate(71 106.3 386.4)"/>
<rect x="117.7" y="394.6" width="5.2" height="2.3" fill="#d6ece8" transform="rotate(-21 120.3 395.8)"/>
<rect x="110.8" y="343.0" width="7.6" height="2.4" fill="#8a4a56" transform="rotate(71 114.6 344.2)"/>
<rect x="121.2" y="397.9" width="7.7" height="2.3" fill="#5c4a52" transform="rotate(-21 125.0 399.0)"/>
<rect x="124.4" y="347.6" width="7.3" height="3.9" fill="#ffffff" transform="rotate(74 128.0 349.6)"/>
<rect x="121.5" y="335.1" width="7.2" height="2.7" fill="#ffffff" transform="rotate(73 125.1 336.4)"/>
<rect x="91.1" y="374.0" width="3.6" height="3.4" fill="#7a3a48" transform="rotate(74 92.9 375.7)"/>
<rect x="88.5" y="416.1" width="6.6" height="3.2" fill="#f4fbfa" transform="rotate(-21 91.8 417.7)"/>
<rect x="118.7" y="408.8" width="4.9" height="4.2" fill="#e6f4f0" transform="rotate(-20 121.1 410.9)"/>
<rect x="93.1" y="370.7" width="4.2" height="3.5" fill="#c4dedc" transform="rotate(71 95.2 372.4)"/>
<rect x="110.8" y="383.1" width="5.4" height="3.9" fill="#f4fbfa" transform="rotate(67 113.5 385.1)"/>
<rect x="94.8" y="365.9" width="3.6" height="3.0" fill="#f4fbfa" transform="rotate(-22 96.6 367.4)"/>
<rect x="98.5" y="337.0" width="4.4" height="2.3" fill="#d6ece8" transform="rotate(71 100.7 338.1)"/>
<rect x="100.7" y="401.1" width="6.4" height="3.6" fill="#c4dedc" transform="rotate(69 103.9 402.9)"/>
<rect x="93.2" y="420.5" width="4.6" height="3.5" fill="#e6f4f0" transform="rotate(73 95.5 422.2)"/>
<rect x="98.1" y="367.9" width="6.1" height="3.4" fill="#ffffff" transform="rotate(73 101.1 369.6)"/>
</g>
<clipPath id="cp1"><polygon points="163.0,352.0 178.0,345.0 206.0,349.0 232.0,358.0 246.0,376.0 252.0,400.0 256.0,440.0 112.0,440.0 115.0,420.0 135.0,413.0 150.0,400.0 158.0,375.0"/></clipPath>
<g clip-path="url(#cp1)">
<polygon points="163.0,352.0 178.0,345.0 206.0,349.0 232.0,358.0 246.0,376.0 252.0,400.0 256.0,440.0 112.0,440.0 115.0,420.0 135.0,413.0 150.0,400.0 158.0,375.0" fill="#c4949e" />
<rect x="163.9" y="414.4" width="7.7" height="4.0" fill="#e04458" transform="rotate(-56 167.8 416.4)"/>
<rect x="222.2" y="345.2" width="7.2" height="3.9" fill="#e04458" transform="rotate(40 225.9 347.2)"/>
<rect x="123.0" y="378.8" width="8.0" height="3.3" fill="#d6ece8" transform="rotate(34 127.0 380.5)"/>
<rect x="185.7" y="410.0" width="6.2" height="2.3" fill="#dff0ee" transform="rotate(-50 188.8 411.1)"/>
<rect x="147.4" y="421.5" width="3.1" height="3.0" fill="#d6ece8" transform="rotate(36 149.0 423.0)"/>
<rect x="192.5" y="365.7" width="6.5" height="3.5" fill="#3c3a40" transform="rotate(37 195.8 367.5)"/>
<rect x="144.8" y="352.5" width="7.8" height="3.7" fill="#c4dedc" transform="rotate(-51 148.7 354.3)"/>
<rect x="248.8" y="431.6" width="5.7" height="2.7" fill="#dff0ee" transform="rotate(-52 251.7 433.0)"/>
<rect x="230.5" y="381.9" width="5.8" height="3.9" fill="#4a4248" transform="rotate(34 233.4 383.8)"/>
<rect x="242.8" y="385.2" width="3.9" height="3.0" fill="#c4dedc" transform="rotate(33 244.8 386.7)"/>
<rect x="123.5" y="411.4" width="3.7" height="2.7" fill="#dff0ee" transform="rotate(39 125.3 412.8)"/>
<rect x="250.2" y="346.2" width="7.2" height="2.8" fill="#3c3a40" transform="rotate(35 253.8 347.6)"/>
<rect x="123.4" y="386.1" width="7.7" height="3.5" fill="#5c4a52" transform="rotate(34 127.2 387.9)"/>
<rect x="193.6" y="353.6" width="5.2" height="4.2" fill="#c4dedc" transform="rotate(-51 196.2 355.7)"/>
<rect x="156.7" y="419.5" width="3.9" height="2.4" fill="#c4dedc" transform="rotate(-56 158.7 420.7)"/>
<rect x="217.0" y="407.4" width="4.9" height="2.5" fill="#c4dedc" transform="rotate(-49 219.5 408.6)"/>
<rect x="162.7" y="356.4" width="7.3" height="3.2" fill="#d6ece8" transform="rotate(40 166.4 358.0)"/>
<rect x="252.9" y="396.6" width="4.6" height="2.6" fill="#dff0ee" transform="rotate(35 255.3 397.9)"/>
<rect x="208.9" y="437.9" width="5.0" height="4.1" fill="#c22c40" transform="rotate(35 211.4 439.9)"/>
<rect x="230.4" y="375.2" width="3.4" height="2.4" fill="#6a5a60" transform="rotate(-57 232.1 376.5)"/>
<rect x="119.7" y="347.3" width="5.2" height="2.3" fill="#dff0ee" transform="rotate(35 122.3 348.5)"/>
<rect x="231.4" y="382.8" width="7.8" height="2.9" fill="#ffffff" transform="rotate(-55 235.3 384.3)"/>
<rect x="238.1" y="432.6" width="7.8" height="3.7" fill="#e6f4f0" transform="rotate(38 242.0 434.4)"/>
<rect x="110.1" y="411.1" width="7.8" height="2.2" fill="#ffffff" transform="rotate(-51 114.0 412.2)"/>
<rect x="161.8" y="422.9" width="3.1" height="3.5" fill="#c4dedc" transform="rotate(38 163.3 424.7)"/>
<rect x="131.4" y="422.6" width="6.6" height="3.1" fill="#ffffff" transform="rotate(-57 134.7 424.2)"/>
<rect x="159.4" y="376.1" width="3.3" height="4.2" fill="#e6f4f0" transform="rotate(-50 161.0 378.1)"/>
<rect x="222.0" y="389.4" width="7.2" height="2.4" fill="#d6ece8" transform="rotate(36 225.6 390.6)"/>
<rect x="235.3" y="393.4" width="6.1" height="4.1" fill="#c22c40" transform="rotate(38 238.4 395.5)"/>
<rect x="196.7" y="408.6" width="5.6" height="3.6" fill="#ffffff" transform="rotate(41 199.5 410.4)"/>
<rect x="219.6" y="431.9" width="7.8" height="2.4" fill="#f4fbfa" transform="rotate(36 223.5 433.1)"/>
<rect x="159.5" y="437.4" width="3.3" height="3.1" fill="#6a5a60" transform="rotate(39 161.2 438.9)"/>
<rect x="184.6" y="416.4" width="4.7" height="3.0" fill="#dff0ee" transform="rotate(35 186.9 417.9)"/>
<rect x="231.2" y="413.5" width="5.9" height="3.0" fill="#e6f4f0" transform="rotate(34 234.1 415.0)"/>
<rect x="155.2" y="354.9" width="3.2" height="3.6" fill="#ffffff" transform="rotate(35 156.8 356.7)"/>
<rect x="212.9" y="422.1" width="6.1" height="2.7" fill="#c4dedc" transform="rotate(35 216.0 423.5)"/>
<rect x="130.3" y="425.1" width="6.2" height="4.1" fill="#3c3a40" transform="rotate(-57 133.4 427.2)"/>
<rect x="152.8" y="394.3" width="5.4" height="4.0" fill="#dff0ee" transform="rotate(-52 155.5 396.3)"/>
<rect x="214.3" y="395.3" width="6.7" height="2.3" fill="#dff0ee" transform="rotate(40 217.7 396.5)"/>
<rect x="132.3" y="358.8" width="5.7" height="2.9" fill="#c4dedc" transform="rotate(40 135.2 360.2)"/>
<rect x="208.9" y="425.0" width="3.7" height="2.7" fill="#c22c40" transform="rotate(37 210.7 426.4)"/>
<rect x="153.3" y="399.7" width="6.3" height="3.5" fill="#6a5a60" transform="rotate(-52 156.4 401.5)"/>
<rect x="230.1" y="389.0" width="3.7" height="4.1" fill="#d43448" transform="rotate(36 231.9 391.0)"/>
<rect x="198.0" y="407.3" width="6.1" height="3.4" fill="#d43448" transform="rotate(35 201.0 409.0)"/>
<rect x="192.4" y="423.3" width="4.5" height="4.0" fill="#6a5a60" transform="rotate(-56 194.6 425.3)"/>
<rect x="189.3" y="435.0" width="7.7" height="4.2" fill="#c22c40" transform="rotate(-54 193.2 437.1)"/>
<rect x="126.6" y="383.0" width="4.3" height="3.0" fill="#c22c40" transform="rotate(34 128.7 384.6)"/>
<rect x="148.9" y="404.2" width="6.2" height="3.2" fill="#f4fbfa" transform="rotate(-53 152.0 405.8)"/>
<rect x="134.5" y="366.8" width="3.7" height="2.4" fill="#e04458" transform="rotate(41 136.4 368.0)"/>
<rect x="119.6" y="431.5" width="3.1" height="3.5" fill="#ffffff" transform="rotate(34 121.2 433.3)"/>
<rect x="162.7" y="431.8" width="5.1" height="4.1" fill="#b02a3c" transform="rotate(-53 165.3 433.8)"/>
<rect x="253.7" y="409.1" width="3.8" height="3.6" fill="#dff0ee" transform="rotate(41 255.6 410.8)"/>
<rect x="218.5" y="364.0" width="5.8" height="3.1" fill="#6a5a60" transform="rotate(39 221.4 365.6)"/>
<rect x="119.8" y="418.3" width="5.1" height="2.7" fill="#b02a3c" transform="rotate(-51 122.4 419.7)"/>
<rect x="234.8" y="409.5" width="3.2" height="3.2" fill="#dff0ee" transform="rotate(-56 236.4 411.1)"/>
<rect x="229.4" y="372.2" width="5.4" height="2.3" fill="#c4dedc" transform="rotate(-49 232.1 373.4)"/>
<rect x="178.5" y="369.6" width="4.7" height="3.4" fill="#d43448" transform="rotate(-55 180.8 371.3)"/>
<rect x="159.3" y="373.8" width="6.7" height="3.2" fill="#e6f4f0" transform="rotate(34 162.7 375.3)"/>
<rect x="139.2" y="378.6" width="5.0" height="3.0" fill="#c4dedc" transform="rotate(38 141.7 380.0)"/>
<rect x="195.3" y="422.5" width="4.7" height="2.3" fill="#ffffff" transform="rotate(40 197.6 423.7)"/>
<rect x="153.7" y="383.1" width="5.4" height="3.0" fill="#f4fbfa" transform="rotate(-53 156.4 384.6)"/>
<rect x="143.5" y="389.2" width="3.9" height="3.7" fill="#f4fbfa" transform="rotate(-51 145.5 391.0)"/>
<rect x="119.4" y="382.5" width="6.9" height="3.6" fill="#e6f4f0" transform="rotate(36 122.8 384.4)"/>
<rect x="225.5" y="388.2" width="7.5" height="3.2" fill="#c22c40" transform="rotate(-56 229.2 389.8)"/>
<rect x="229.6" y="409.7" width="4.0" height="3.2" fill="#f4fbfa" transform="rotate(-55 231.6 411.3)"/>
<rect x="109.6" y="380.9" width="6.6" height="3.7" fill="#7a3a48" transform="rotate(-50 112.9 382.8)"/>
<rect x="247.7" y="399.5" width="3.3" height="3.9" fill="#5c4a52" transform="rotate(38 249.3 401.5)"/>
<rect x="241.9" y="434.5" width="3.7" height="2.2" fill="#7a3a48" transform="rotate(-55 243.7 435.6)"/>
<rect x="228.2" y="432.1" width="7.6" height="4.2" fill="#6a5a60" transform="rotate(-53 232.0 434.2)"/>
<rect x="145.2" y="414.4" width="7.5" height="2.5" fill="#f4fbfa" transform="rotate(-56 149.0 415.7)"/>
<rect x="154.8" y="374.5" width="4.9" height="2.6" fill="#6a5a60" transform="rotate(39 157.2 375.8)"/>
<rect x="179.9" y="349.1" width="3.4" height="4.2" fill="#8a4a56" transform="rotate(35 181.6 351.2)"/>
<rect x="117.2" y="351.7" width="3.4" height="3.0" fill="#d6ece8" transform="rotate(39 118.9 353.2)"/>
<rect x="114.1" y="392.8" width="5.7" height="2.4" fill="#c4dedc" transform="rotate(-56 116.9 394.0)"/>
<rect x="156.7" y="351.7" width="5.0" height="2.9" fill="#7a3a48" transform="rotate(41 159.2 353.2)"/>
<rect x="233.0" y="355.0" width="7.0" height="3.7" fill="#c22c40" transform="rotate(-56 236.5 356.8)"/>
<rect x="140.1" y="355.6" width="6.1" height="3.4" fill="#e6f4f0" transform="rotate(34 143.1 357.3)"/>
<rect x="135.2" y="397.5" width="4.0" height="4.0" fill="#3c3a40" transform="rotate(37 137.3 399.5)"/>
<rect x="196.6" y="343.8" width="6.0" height="3.4" fill="#ffffff" transform="rotate(34 199.6 345.6)"/>
<rect x="142.4" y="405.8" width="3.4" height="2.4" fill="#b02a3c" transform="rotate(-54 144.1 407.0)"/>
<rect x="248.7" y="398.5" width="4.2" height="3.3" fill="#d6ece8" transform="rotate(-53 250.8 400.2)"/>
<rect x="164.3" y="401.1" width="5.1" height="2.3" fill="#ffffff" transform="rotate(-57 166.9 402.2)"/>
<rect x="131.5" y="425.9" width="4.3" height="3.3" fill="#c4dedc" transform="rotate(35 133.7 427.6)"/>
<rect x="146.0" y="392.1" width="5.7" height="2.6" fill="#c4dedc" transform="rotate(36 148.9 393.5)"/>
<rect x="144.8" y="422.5" width="7.5" height="4.1" fill="#4a4248" transform="rotate(33 148.5 424.5)"/>
<rect x="236.2" y="372.1" width="6.1" height="2.7" fill="#b02a3c" transform="rotate(-55 239.2 373.5)"/>
<rect x="121.4" y="387.5" width="6.9" height="2.4" fill="#e6f4f0" transform="rotate(-52 124.8 388.7)"/>
<rect x="191.6" y="430.8" width="5.8" height="4.0" fill="#e04458" transform="rotate(-57 194.5 432.8)"/>
<rect x="117.2" y="433.5" width="5.0" height="2.8" fill="#e6f4f0" transform="rotate(37 119.7 434.9)"/>
<rect x="177.1" y="431.9" width="6.8" height="2.4" fill="#8a4a56" transform="rotate(-52 180.5 433.1)"/>
<rect x="204.4" y="391.0" width="3.2" height="3.1" fill="#ffffff" transform="rotate(33 205.9 392.5)"/>
<rect x="127.1" y="429.7" width="5.7" height="2.5" fill="#dff0ee" transform="rotate(35 129.9 430.9)"/>
<rect x="247.1" y="382.9" width="6.4" height="2.6" fill="#d6ece8" transform="rotate(34 250.3 384.1)"/>
<rect x="243.3" y="423.8" width="6.9" height="3.1" fill="#ffffff" transform="rotate(-56 246.8 425.4)"/>
<rect x="157.1" y="358.0" width="5.3" height="2.3" fill="#dff0ee" transform="rotate(40 159.8 359.2)"/>
<rect x="218.9" y="350.5" width="7.3" height="3.3" fill="#c4dedc" transform="rotate(36 222.6 352.2)"/>
<rect x="238.9" y="418.0" width="7.2" height="3.7" fill="#7a3a48" transform="rotate(-55 242.5 419.8)"/>
<rect x="152.2" y="364.1" width="5.8" height="4.0" fill="#c22c40" transform="rotate(34 155.1 366.1)"/>
<rect x="180.0" y="406.1" width="3.3" height="2.7" fill="#d6ece8" transform="rotate(-56 181.7 407.5)"/>
<rect x="121.7" y="357.7" width="8.0" height="2.8" fill="#ffffff" transform="rotate(-53 125.7 359.2)"/>
<rect x="205.8" y="392.8" width="3.9" height="3.6" fill="#3c3a40" transform="rotate(-50 207.7 394.6)"/>
<rect x="190.5" y="392.0" width="6.5" height="3.2" fill="#d43448" transform="rotate(-54 193.8 393.6)"/>
<rect x="147.3" y="391.9" width="3.4" height="2.9" fill="#c22c40" transform="rotate(-53 148.9 393.3)"/>
<rect x="124.4" y="358.3" width="7.9" height="3.5" fill="#c22c40" transform="rotate(-57 128.4 360.0)"/>
<rect x="161.8" y="396.1" width="6.8" height="3.3" fill="#b02a3c" transform="rotate(-56 165.2 397.7)"/>
<rect x="160.7" y="408.6" width="5.7" height="3.2" fill="#c22c40" transform="rotate(36 163.5 410.2)"/>
<rect x="243.1" y="429.3" width="7.9" height="2.8" fill="#e6f4f0" transform="rotate(36 247.0 430.7)"/>
<rect x="118.8" y="390.8" width="7.8" height="3.7" fill="#e04458" transform="rotate(39 122.7 392.7)"/>
<rect x="195.3" y="366.5" width="6.4" height="3.6" fill="#6a5a60" transform="rotate(-52 198.5 368.3)"/>
<rect x="184.1" y="426.0" width="7.5" height="2.9" fill="#7a3a48" transform="rotate(37 187.9 427.4)"/>
<rect x="136.4" y="411.3" width="5.5" height="4.2" fill="#7a3a48" transform="rotate(33 139.1 413.4)"/>
<rect x="190.9" y="413.3" width="3.8" height="3.7" fill="#f4fbfa" transform="rotate(-51 192.8 415.2)"/>
<rect x="187.3" y="421.6" width="7.0" height="3.5" fill="#f4fbfa" transform="rotate(-56 190.8 423.3)"/>
<rect x="179.3" y="414.0" width="4.0" height="3.2" fill="#e6f4f0" transform="rotate(37 181.3 415.6)"/>
<rect x="215.0" y="397.9" width="3.9" height="4.2" fill="#d43448" transform="rotate(38 216.9 400.0)"/>
<rect x="171.5" y="387.3" width="7.8" height="2.8" fill="#c4dedc" transform="rotate(35 175.3 388.7)"/>
<rect x="185.7" y="352.0" width="5.0" height="2.3" fill="#c22c40" transform="rotate(41 188.3 353.1)"/>
<rect x="188.4" y="425.0" width="5.5" height="2.4" fill="#b02a3c" transform="rotate(-54 191.2 426.2)"/>
<rect x="183.1" y="370.4" width="7.8" height="2.6" fill="#7a3a48" transform="rotate(-55 187.0 371.7)"/>
<rect x="158.4" y="376.7" width="7.1" height="2.6" fill="#c4dedc" transform="rotate(36 162.0 378.0)"/>
<rect x="185.6" y="370.2" width="6.3" height="3.0" fill="#d6ece8" transform="rotate(37 188.8 371.7)"/>
<rect x="189.1" y="411.7" width="6.3" height="3.1" fill="#4a4248" transform="rotate(-56 192.2 413.3)"/>
<rect x="135.3" y="361.0" width="6.3" height="2.9" fill="#f4fbfa" transform="rotate(40 138.5 362.4)"/>
<rect x="175.3" y="409.7" width="6.7" height="3.7" fill="#4a4248" transform="rotate(-54 178.7 411.6)"/>
<rect x="196.9" y="406.2" width="5.2" height="2.4" fill="#e04458" transform="rotate(38 199.5 407.4)"/>
<rect x="121.1" y="417.1" width="7.3" height="2.9" fill="#e04458" transform="rotate(35 124.7 418.5)"/>
<rect x="127.7" y="408.2" width="5.5" height="4.1" fill="#c4dedc" transform="rotate(40 130.5 410.3)"/>
<rect x="111.6" y="355.3" width="7.9" height="3.9" fill="#ffffff" transform="rotate(-54 115.5 357.3)"/>
<rect x="170.3" y="357.5" width="5.7" height="2.7" fill="#6a5a60" transform="rotate(-50 173.2 358.8)"/>
<rect x="204.2" y="347.0" width="3.4" height="3.9" fill="#3c3a40" transform="rotate(34 205.9 349.0)"/>
<rect x="178.5" y="393.4" width="7.1" height="2.6" fill="#3c3a40" transform="rotate(39 182.1 394.7)"/>
<rect x="143.9" y="404.0" width="3.2" height="2.4" fill="#c4dedc" transform="rotate(-56 145.4 405.2)"/>
<rect x="177.6" y="432.7" width="5.0" height="3.3" fill="#d43448" transform="rotate(-50 180.1 434.3)"/>
<rect x="193.3" y="376.7" width="4.4" height="2.6" fill="#c4dedc" transform="rotate(37 195.5 378.0)"/>
<rect x="137.5" y="346.9" width="6.7" height="2.5" fill="#e6f4f0" transform="rotate(-57 140.8 348.2)"/>
<rect x="132.6" y="405.0" width="6.1" height="4.2" fill="#ffffff" transform="rotate(33 135.6 407.1)"/>
<rect x="246.3" y="390.3" width="7.3" height="2.3" fill="#c4dedc" transform="rotate(35 250.0 391.4)"/>
<rect x="167.5" y="350.8" width="5.9" height="2.6" fill="#f4fbfa" transform="rotate(-51 170.5 352.1)"/>
<rect x="197.0" y="411.2" width="7.8" height="2.8" fill="#c4dedc" transform="rotate(-50 200.9 412.6)"/>
<rect x="227.8" y="416.2" width="6.0" height="2.7" fill="#e6f4f0" transform="rotate(36 230.8 417.5)"/>
<rect x="226.8" y="407.6" width="7.2" height="3.8" fill="#b02a3c" transform="rotate(-51 230.4 409.5)"/>
<rect x="202.6" y="395.1" width="7.4" height="2.3" fill="#6a5a60" transform="rotate(37 206.3 396.3)"/>
<rect x="127.4" y="347.3" width="5.9" height="2.4" fill="#b02a3c" transform="rotate(37 130.4 348.5)"/>
<rect x="245.7" y="391.7" width="5.7" height="3.1" fill="#d43448" transform="rotate(-50 248.6 393.2)"/>
<rect x="219.2" y="395.4" width="4.8" height="2.4" fill="#7a3a48" transform="rotate(36 221.6 396.6)"/>
<rect x="177.4" y="362.6" width="3.7" height="3.1" fill="#7a3a48" transform="rotate(37 179.2 364.2)"/>
<rect x="153.0" y="425.8" width="5.0" height="3.0" fill="#6a5a60" transform="rotate(-51 155.5 427.4)"/>
<rect x="161.4" y="406.8" width="5.5" height="2.2" fill="#d6ece8" transform="rotate(-49 164.1 407.9)"/>
<rect x="139.8" y="349.8" width="4.0" height="2.5" fill="#ffffff" transform="rotate(33 141.8 351.1)"/>
<rect x="149.2" y="392.1" width="3.9" height="2.8" fill="#c4dedc" transform="rotate(40 151.1 393.6)"/>
<rect x="126.4" y="406.1" width="3.1" height="3.4" fill="#c4dedc" transform="rotate(-53 127.9 407.8)"/>
<rect x="236.9" y="360.6" width="6.9" height="3.3" fill="#d43448" transform="rotate(34 240.4 362.2)"/>
<rect x="169.4" y="369.9" width="5.3" height="3.9" fill="#dff0ee" transform="rotate(39 172.0 371.9)"/>
<rect x="149.5" y="402.2" width="4.9" height="3.1" fill="#dff0ee" transform="rotate(34 152.0 403.8)"/>
<rect x="230.4" y="358.3" width="4.6" height="3.9" fill="#d6ece8" transform="rotate(39 232.7 360.3)"/>
<rect x="127.3" y="350.8" width="6.5" height="2.3" fill="#3c3a40" transform="rotate(39 130.6 352.0)"/>
<rect x="139.9" y="373.6" width="5.5" height="2.5" fill="#d43448" transform="rotate(-51 142.6 374.8)"/>
<rect x="182.9" y="350.7" width="5.5" height="2.3" fill="#8a4a56" transform="rotate(34 185.6 351.9)"/>
<rect x="156.2" y="364.2" width="4.0" height="3.4" fill="#e04458" transform="rotate(-56 158.2 365.9)"/>
<rect x="230.9" y="391.9" width="6.2" height="2.7" fill="#c4dedc" transform="rotate(-56 234.0 393.2)"/>
<rect x="153.8" y="414.7" width="3.1" height="3.5" fill="#dff0ee" transform="rotate(36 155.3 416.4)"/>
<rect x="177.3" y="389.1" width="6.7" height="2.3" fill="#d6ece8" transform="rotate(-53 180.7 390.3)"/>
<rect x="132.2" y="387.4" width="6.1" height="3.7" fill="#3c3a40" transform="rotate(-53 135.3 389.3)"/>
<rect x="110.2" y="432.4" width="6.2" height="2.4" fill="#c4dedc" transform="rotate(-52 113.3 433.6)"/>
<rect x="150.6" y="430.3" width="6.1" height="2.3" fill="#f4fbfa" transform="rotate(-55 153.7 431.4)"/>
<rect x="126.4" y="381.0" width="3.1" height="3.8" fill="#d43448" transform="rotate(37 128.0 382.9)"/>
<rect x="237.9" y="419.3" width="8.0" height="4.1" fill="#dff0ee" transform="rotate(-52 241.9 421.3)"/>
<rect x="182.7" y="394.6" width="7.8" height="3.2" fill="#3c3a40" transform="rotate(-51 186.6 396.1)"/>
<rect x="182.3" y="398.3" width="6.3" height="2.2" fill="#b02a3c" transform="rotate(36 185.4 399.4)"/>
<rect x="118.2" y="370.9" width="5.3" height="2.5" fill="#b02a3c" transform="rotate(35 120.8 372.1)"/>
<rect x="243.5" y="378.3" width="5.3" height="4.1" fill="#dff0ee" transform="rotate(34 246.1 380.3)"/>
<rect x="110.9" y="368.2" width="3.5" height="3.8" fill="#8a4a56" transform="rotate(39 112.7 370.1)"/>
<rect x="210.7" y="422.5" width="7.5" height="3.7" fill="#4a4248" transform="rotate(39 214.4 424.3)"/>
<rect x="158.6" y="355.3" width="4.6" height="3.7" fill="#f4fbfa" transform="rotate(35 160.9 357.1)"/>
<rect x="178.8" y="344.8" width="3.2" height="3.1" fill="#8a4a56" transform="rotate(36 180.4 346.4)"/>
<rect x="215.5" y="424.5" width="6.8" height="3.4" fill="#7a3a48" transform="rotate(-53 218.9 426.2)"/>
<rect x="194.8" y="371.1" width="8.0" height="3.5" fill="#dff0ee" transform="rotate(34 198.8 372.8)"/>
<rect x="251.8" y="411.7" width="5.5" height="3.9" fill="#7a3a48" transform="rotate(-51 254.6 413.7)"/>
<rect x="222.2" y="407.4" width="3.3" height="3.2" fill="#b02a3c" transform="rotate(-53 223.8 408.9)"/>
<rect x="185.7" y="399.5" width="7.5" height="2.8" fill="#c22c40" transform="rotate(37 189.5 400.9)"/>
<rect x="112.7" y="366.8" width="6.5" height="2.2" fill="#ffffff" transform="rotate(-49 116.0 367.9)"/>
<rect x="153.6" y="349.7" width="4.2" height="3.2" fill="#3c3a40" transform="rotate(-52 155.7 351.3)"/>
<rect x="219.0" y="421.2" width="5.5" height="4.0" fill="#8a4a56" transform="rotate(40 221.8 423.2)"/>
<rect x="237.1" y="400.0" width="6.0" height="3.2" fill="#7a3a48" transform="rotate(-56 240.1 401.6)"/>
<rect x="167.9" y="388.3" width="3.6" height="2.9" fill="#8a4a56" transform="rotate(38 169.7 389.8)"/>
<rect x="169.7" y="419.0" width="6.8" height="2.8" fill="#b02a3c" transform="rotate(-49 173.1 420.4)"/>
<rect x="164.5" y="437.2" width="6.3" height="3.8" fill="#3c3a40" transform="rotate(38 167.7 439.1)"/>
<rect x="180.1" y="415.4" width="5.7" height="2.8" fill="#f4fbfa" transform="rotate(-57 182.9 416.8)"/>
<rect x="183.7" y="426.4" width="6.6" height="2.6" fill="#ffffff" transform="rotate(37 187.0 427.7)"/>
<rect x="181.7" y="408.8" width="7.4" height="3.2" fill="#dff0ee" transform="rotate(-56 185.4 410.4)"/>
<rect x="146.9" y="373.2" width="4.8" height="3.2" fill="#c22c40" transform="rotate(-54 149.3 374.8)"/>
<rect x="210.9" y="431.1" width="3.8" height="3.5" fill="#c4dedc" transform="rotate(39 212.8 432.8)"/>
<rect x="154.6" y="357.2" width="7.0" height="3.0" fill="#b02a3c" transform="rotate(-50 158.1 358.7)"/>
<rect x="242.0" y="416.3" width="3.9" height="2.9" fill="#5c4a52" transform="rotate(-54 244.0 417.8)"/>
<rect x="135.7" y="388.5" width="3.7" height="3.5" fill="#c22c40" transform="rotate(-52 137.5 390.2)"/>
<rect x="155.6" y="345.4" width="7.2" height="3.7" fill="#d6ece8" transform="rotate(-55 159.2 347.3)"/>
<rect x="166.6" y="344.0" width="7.4" height="2.2" fill="#4a4248" transform="rotate(-50 170.3 345.2)"/>
<rect x="200.2" y="413.2" width="6.1" height="3.5" fill="#f4fbfa" transform="rotate(34 203.2 415.0)"/>
<rect x="143.9" y="347.6" width="5.8" height="2.4" fill="#5c4a52" transform="rotate(40 146.7 348.7)"/>
<rect x="221.8" y="370.9" width="7.9" height="2.5" fill="#6a5a60" transform="rotate(-56 225.7 372.1)"/>
<rect x="222.1" y="395.3" width="7.0" height="2.9" fill="#4a4248" transform="rotate(37 225.6 396.7)"/>
<rect x="219.8" y="362.6" width="4.4" height="2.6" fill="#dff0ee" transform="rotate(34 222.0 363.9)"/>
<rect x="213.8" y="347.3" width="5.3" height="2.7" fill="#dff0ee" transform="rotate(35 216.5 348.7)"/>
<rect x="114.9" y="404.7" width="6.5" height="2.2" fill="#ffffff" transform="rotate(-50 118.2 405.8)"/>
<rect x="126.7" y="382.8" width="7.9" height="3.7" fill="#b02a3c" transform="rotate(35 130.6 384.6)"/>
<rect x="179.9" y="363.6" width="7.0" height="2.3" fill="#dff0ee" transform="rotate(40 183.5 364.7)"/>
<rect x="175.9" y="423.7" width="3.6" height="3.2" fill="#c4dedc" transform="rotate(-56 177.7 425.3)"/>
<rect x="247.2" y="401.4" width="6.3" height="2.9" fill="#7a3a48" transform="rotate(36 250.3 402.9)"/>
<rect x="236.8" y="406.3" width="6.8" height="3.3" fill="#f4fbfa" transform="rotate(38 240.2 408.0)"/>
<rect x="196.3" y="361.2" width="3.5" height="3.6" fill="#dff0ee" transform="rotate(-50 198.0 363.0)"/>
<rect x="253.4" y="371.8" width="5.0" height="4.1" fill="#d43448" transform="rotate(41 255.9 373.9)"/>
<rect x="155.4" y="429.0" width="4.4" height="3.6" fill="#4a4248" transform="rotate(38 157.6 430.8)"/>
<rect x="217.9" y="394.9" width="5.6" height="3.8" fill="#6a5a60" transform="rotate(39 220.7 396.8)"/>
<rect x="243.0" y="396.5" width="7.8" height="3.1" fill="#e6f4f0" transform="rotate(36 246.9 398.1)"/>
<rect x="111.8" y="356.3" width="7.0" height="2.4" fill="#e04458" transform="rotate(33 115.3 357.6)"/>
<rect x="125.4" y="408.1" width="5.0" height="2.4" fill="#e04458" transform="rotate(38 127.9 409.3)"/>
<rect x="120.4" y="399.9" width="5.8" height="2.3" fill="#c22c40" transform="rotate(-50 123.3 401.0)"/>
<rect x="145.6" y="345.5" width="5.3" height="3.6" fill="#b02a3c" transform="rotate(38 148.3 347.3)"/>
<rect x="121.0" y="383.5" width="7.9" height="3.0" fill="#d6ece8" transform="rotate(-51 125.0 385.0)"/>
<rect x="164.9" y="410.9" width="4.0" height="3.4" fill="#5c4a52" transform="rotate(35 166.9 412.6)"/>
<rect x="242.1" y="354.2" width="7.4" height="4.2" fill="#3c3a40" transform="rotate(41 245.8 356.3)"/>
<rect x="174.9" y="424.4" width="3.2" height="3.8" fill="#d6ece8" transform="rotate(33 176.5 426.3)"/>
<rect x="110.9" y="381.1" width="5.6" height="3.0" fill="#d6ece8" transform="rotate(35 113.7 382.7)"/>
<rect x="226.9" y="434.7" width="6.4" height="3.1" fill="#b02a3c" transform="rotate(35 230.0 436.3)"/>
<rect x="190.3" y="417.7" width="7.6" height="3.2" fill="#c4dedc" transform="rotate(-53 194.1 419.3)"/>
<rect x="110.7" y="428.0" width="4.0" height="3.9" fill="#e04458" transform="rotate(-54 112.7 430.0)"/>
<rect x="186.1" y="436.9" width="8.0" height="2.9" fill="#f4fbfa" transform="rotate(-55 190.1 438.3)"/>
<rect x="222.2" y="389.1" width="6.8" height="4.0" fill="#dff0ee" transform="rotate(37 225.6 391.1)"/>
<rect x="129.2" y="387.3" width="3.3" height="2.6" fill="#c4dedc" transform="rotate(40 130.9 388.6)"/>
<rect x="162.0" y="421.2" width="4.3" height="3.4" fill="#3c3a40" transform="rotate(37 164.1 422.9)"/>
<rect x="223.8" y="353.5" width="6.8" height="2.9" fill="#c4dedc" transform="rotate(-54 227.2 355.0)"/>
<rect x="251.5" y="375.4" width="7.2" height="3.8" fill="#c4dedc" transform="rotate(-53 255.1 377.3)"/>
<rect x="231.4" y="355.1" width="4.1" height="2.2" fill="#c4dedc" transform="rotate(-53 233.5 356.2)"/>
<rect x="120.0" y="409.5" width="4.8" height="3.4" fill="#e6f4f0" transform="rotate(-55 122.4 411.2)"/>
<rect x="178.9" y="438.3" width="3.7" height="2.7" fill="#d6ece8" transform="rotate(-57 180.7 439.7)"/>
<rect x="142.6" y="373.2" width="7.2" height="2.4" fill="#f4fbfa" transform="rotate(39 146.3 374.4)"/>
<rect x="170.1" y="360.7" width="5.2" height="3.0" fill="#ffffff" transform="rotate(34 172.7 362.2)"/>
<rect x="127.4" y="411.7" width="7.8" height="3.8" fill="#5c4a52" transform="rotate(-55 131.3 413.6)"/>
<rect x="145.6" y="361.5" width="6.1" height="3.4" fill="#f4fbfa" transform="rotate(36 148.6 363.2)"/>
<rect x="206.7" y="433.6" width="3.2" height="3.2" fill="#8a4a56" transform="rotate(36 208.3 435.2)"/>
<rect x="228.9" y="406.9" width="7.8" height="3.4" fill="#d6ece8" transform="rotate(-56 232.8 408.6)"/>
<rect x="240.9" y="349.0" width="7.6" height="4.1" fill="#ffffff" transform="rotate(39 244.7 351.1)"/>
<rect x="196.1" y="364.3" width="3.4" height="3.7" fill="#d43448" transform="rotate(37 197.8 366.1)"/>
<rect x="146.5" y="368.2" width="7.4" height="3.4" fill="#ffffff" transform="rotate(-55 150.2 369.9)"/>
<rect x="212.0" y="365.7" width="4.7" height="2.3" fill="#c22c40" transform="rotate(33 214.3 366.8)"/>
<rect x="208.3" y="416.7" width="4.6" height="4.2" fill="#d6ece8" transform="rotate(37 210.7 418.7)"/>
<rect x="127.6" y="436.2" width="6.3" height="3.5" fill="#7a3a48" transform="rotate(-56 130.7 438.0)"/>
<rect x="217.5" y="396.9" width="7.6" height="2.4" fill="#c4dedc" transform="rotate(34 221.3 398.1)"/>
<rect x="245.8" y="367.5" width="4.4" height="2.5" fill="#c4dedc" transform="rotate(37 248.0 368.7)"/>
<rect x="178.6" y="401.3" width="6.9" height="3.0" fill="#d6ece8" transform="rotate(40 182.0 402.8)"/>
<rect x="201.1" y="432.4" width="6.4" height="4.0" fill="#4a4248" transform="rotate(-55 204.3 434.4)"/>
<rect x="168.6" y="436.8" width="6.5" height="3.6" fill="#5c4a52" transform="rotate(36 171.8 438.6)"/>
<rect x="213.1" y="346.5" width="7.3" height="3.3" fill="#d6ece8" transform="rotate(-55 216.8 348.1)"/>
<rect x="209.3" y="344.7" width="3.8" height="3.5" fill="#e04458" transform="rotate(-54 211.2 346.4)"/>
<rect x="198.5" y="388.4" width="4.7" height="2.7" fill="#5c4a52" transform="rotate(-49 200.9 389.8)"/>
<rect x="146.9" y="404.1" width="7.1" height="2.8" fill="#6a5a60" transform="rotate(-57 150.5 405.5)"/>
<rect x="144.4" y="375.8" width="6.2" height="2.5" fill="#e04458" transform="rotate(-51 147.5 377.0)"/>
<rect x="183.5" y="415.1" width="6.1" height="2.4" fill="#c4dedc" transform="rotate(-50 186.6 416.3)"/>
<rect x="160.6" y="424.0" width="4.1" height="3.5" fill="#5c4a52" transform="rotate(-52 162.6 425.8)"/>
<rect x="214.2" y="437.8" width="3.6" height="3.1" fill="#3c3a40" transform="rotate(35 216.0 439.3)"/>
<rect x="165.6" y="402.8" width="5.4" height="2.3" fill="#7a3a48" transform="rotate(41 168.3 403.9)"/>
<rect x="128.7" y="364.8" width="3.9" height="3.1" fill="#d43448" transform="rotate(33 130.6 366.4)"/>
<rect x="172.9" y="389.6" width="3.7" height="2.7" fill="#d43448" transform="rotate(-51 174.8 390.9)"/>
<rect x="245.0" y="388.7" width="3.8" height="2.2" fill="#c22c40" transform="rotate(40 246.9 389.8)"/>
<rect x="210.7" y="415.7" width="3.3" height="3.4" fill="#8a4a56" transform="rotate(-51 212.4 417.4)"/>
<rect x="155.0" y="343.2" width="6.7" height="4.2" fill="#d6ece8" transform="rotate(-55 158.4 345.3)"/>
<rect x="225.0" y="381.0" width="7.0" height="2.6" fill="#ffffff" transform="rotate(-53 228.4 382.3)"/>
<rect x="224.6" y="358.0" width="7.2" height="2.6" fill="#3c3a40" transform="rotate(-51 228.2 359.3)"/>
<rect x="230.2" y="377.3" width="4.9" height="3.9" fill="#8a4a56" transform="rotate(-56 232.6 379.2)"/>
<rect x="157.9" y="373.2" width="6.9" height="2.5" fill="#6a5a60" transform="rotate(-57 161.3 374.5)"/>
<rect x="160.6" y="417.7" width="6.4" height="3.5" fill="#d43448" transform="rotate(40 163.8 419.5)"/>
<rect x="218.7" y="388.5" width="5.8" height="3.8" fill="#c4dedc" transform="rotate(-52 221.6 390.4)"/>
<rect x="237.8" y="389.2" width="5.9" height="2.6" fill="#c4dedc" transform="rotate(40 240.8 390.5)"/>
<rect x="244.9" y="417.4" width="4.9" height="2.9" fill="#d43448" transform="rotate(-50 247.4 418.9)"/>
<rect x="118.3" y="427.6" width="5.9" height="4.2" fill="#dff0ee" transform="rotate(39 121.2 429.7)"/>
<rect x="169.0" y="354.2" width="7.3" height="4.0" fill="#f4fbfa" transform="rotate(-53 172.6 356.2)"/>
<rect x="248.9" y="418.3" width="7.0" height="3.1" fill="#c22c40" transform="rotate(35 252.4 419.8)"/>
<rect x="114.6" y="401.7" width="6.8" height="3.5" fill="#c22c40" transform="rotate(-50 118.0 403.5)"/>
<rect x="230.4" y="399.4" width="6.7" height="2.4" fill="#3c3a40" transform="rotate(37 233.8 400.6)"/>
<rect x="201.3" y="422.4" width="7.5" height="3.0" fill="#c4dedc" transform="rotate(-51 205.0 423.9)"/>
<rect x="229.2" y="378.0" width="5.1" height="2.9" fill="#b02a3c" transform="rotate(40 231.8 379.5)"/>
<rect x="117.3" y="437.3" width="7.0" height="3.3" fill="#d6ece8" transform="rotate(40 120.7 439.0)"/>
<rect x="164.9" y="391.1" width="4.1" height="2.7" fill="#dff0ee" transform="rotate(-51 167.0 392.4)"/>
<rect x="203.1" y="436.1" width="6.8" height="3.6" fill="#d43448" transform="rotate(36 206.5 437.9)"/>
<rect x="147.4" y="413.5" width="4.8" height="3.7" fill="#c4dedc" transform="rotate(33 149.8 415.3)"/>
<rect x="230.4" y="395.6" width="5.9" height="3.6" fill="#c4dedc" transform="rotate(37 233.4 397.4)"/>
<rect x="170.0" y="398.1" width="4.8" height="2.7" fill="#c22c40" transform="rotate(40 172.4 399.5)"/>
<rect x="131.5" y="437.6" width="6.9" height="3.9" fill="#c22c40" transform="rotate(-55 134.9 439.5)"/>
<rect x="125.1" y="419.1" width="4.5" height="2.8" fill="#dff0ee" transform="rotate(37 127.4 420.5)"/>
<rect x="118.9" y="350.3" width="4.6" height="3.8" fill="#d6ece8" transform="rotate(36 121.2 352.1)"/>
<rect x="180.1" y="353.6" width="7.2" height="2.8" fill="#e04458" transform="rotate(39 183.7 355.0)"/>
<rect x="133.5" y="382.7" width="3.3" height="2.4" fill="#d43448" transform="rotate(-52 135.1 383.9)"/>
<rect x="182.8" y="405.8" width="5.5" height="3.0" fill="#d6ece8" transform="rotate(-52 185.6 407.3)"/>
<rect x="186.7" y="375.8" width="4.7" height="3.9" fill="#e6f4f0" transform="rotate(-50 189.0 377.8)"/>
<rect x="214.4" y="405.5" width="4.1" height="2.4" fill="#f4fbfa" transform="rotate(38 216.4 406.7)"/>
<rect x="201.5" y="365.8" width="6.2" height="3.9" fill="#e04458" transform="rotate(-49 204.6 367.7)"/>
<rect x="231.7" y="432.6" width="4.4" height="4.1" fill="#dff0ee" transform="rotate(-52 233.9 434.7)"/>
<rect x="179.7" y="417.3" width="5.6" height="3.7" fill="#ffffff" transform="rotate(-52 182.6 419.2)"/>
<rect x="136.7" y="403.2" width="5.0" height="4.2" fill="#d6ece8" transform="rotate(-55 139.2 405.3)"/>
<rect x="194.2" y="347.9" width="7.7" height="3.6" fill="#d6ece8" transform="rotate(41 198.1 349.7)"/>
<rect x="235.5" y="349.9" width="6.0" height="4.1" fill="#c4dedc" transform="rotate(-49 238.5 351.9)"/>
<rect x="124.6" y="401.0" width="4.0" height="3.9" fill="#8a4a56" transform="rotate(40 126.7 403.0)"/>
<rect x="145.6" y="391.3" width="5.7" height="3.4" fill="#5c4a52" transform="rotate(-50 148.4 393.0)"/>
<rect x="122.0" y="355.6" width="6.0" height="2.4" fill="#8a4a56" transform="rotate(34 125.0 356.8)"/>
<rect x="241.9" y="408.3" width="4.9" height="3.7" fill="#5c4a52" transform="rotate(-53 244.4 410.2)"/>
<rect x="176.1" y="344.8" width="5.6" height="2.7" fill="#4a4248" transform="rotate(34 178.9 346.2)"/>
<rect x="167.1" y="359.6" width="5.3" height="2.5" fill="#d6ece8" transform="rotate(40 169.7 360.8)"/>
<rect x="245.8" y="356.5" width="7.2" height="3.6" fill="#f4fbfa" transform="rotate(40 249.4 358.3)"/>
<rect x="231.5" y="384.5" width="5.6" height="3.9" fill="#e04458" transform="rotate(33 234.3 386.5)"/>
<rect x="137.6" y="356.9" width="7.6" height="2.8" fill="#c22c40" transform="rotate(36 141.4 358.4)"/>
<rect x="125.0" y="377.7" width="4.5" height="4.1" fill="#e04458" transform="rotate(38 127.2 379.7)"/>
<rect x="152.8" y="409.2" width="3.7" height="2.3" fill="#b02a3c" transform="rotate(41 154.6 410.3)"/>
<rect x="188.5" y="433.2" width="7.7" height="3.0" fill="#dff0ee" transform="rotate(-52 192.4 434.7)"/>
<rect x="111.9" y="409.1" width="6.8" height="2.6" fill="#4a4248" transform="rotate(-53 115.3 410.4)"/>
<rect x="124.8" y="423.5" width="5.1" height="4.2" fill="#c4dedc" transform="rotate(34 127.3 425.5)"/>
<rect x="169.8" y="400.7" width="7.3" height="4.0" fill="#d43448" transform="rotate(-52 173.4 402.7)"/>
<rect x="201.7" y="419.6" width="7.1" height="3.5" fill="#f4fbfa" transform="rotate(36 205.2 421.3)"/>
<rect x="232.4" y="352.0" width="7.5" height="3.4" fill="#b02a3c" transform="rotate(35 236.2 353.7)"/>
<rect x="237.5" y="411.7" width="5.8" height="4.1" fill="#dff0ee" transform="rotate(40 240.5 413.7)"/>
<rect x="114.7" y="383.4" width="3.8" height="4.1" fill="#4a4248" transform="rotate(-50 116.6 385.4)"/>
<rect x="216.8" y="385.3" width="5.7" height="4.2" fill="#ffffff" transform="rotate(38 219.7 387.4)"/>
<rect x="218.3" y="413.3" width="6.6" height="2.9" fill="#c4dedc" transform="rotate(34 221.6 414.8)"/>
<rect x="239.7" y="437.8" width="6.3" height="4.2" fill="#c4dedc" transform="rotate(-51 242.8 439.8)"/>
<rect x="120.8" y="378.9" width="6.5" height="2.9" fill="#6a5a60" transform="rotate(37 124.0 380.4)"/>
<rect x="188.7" y="375.2" width="3.2" height="3.1" fill="#f4fbfa" transform="rotate(35 190.3 376.7)"/>
<rect x="199.3" y="395.9" width="6.1" height="2.6" fill="#c22c40" transform="rotate(-54 202.3 397.2)"/>
<rect x="233.1" y="399.0" width="5.6" height="4.0" fill="#e6f4f0" transform="rotate(-51 236.0 401.0)"/>
<rect x="167.4" y="389.8" width="5.1" height="4.0" fill="#e04458" transform="rotate(39 170.0 391.8)"/>
<rect x="130.1" y="367.5" width="4.7" height="4.2" fill="#f4fbfa" transform="rotate(-49 132.5 369.6)"/>
<rect x="191.9" y="347.3" width="3.7" height="3.5" fill="#4a4248" transform="rotate(39 193.7 349.1)"/>
<rect x="148.9" y="361.4" width="5.5" height="2.8" fill="#4a4248" transform="rotate(-54 151.7 362.8)"/>
<rect x="159.0" y="374.5" width="3.5" height="4.0" fill="#d6ece8" transform="rotate(34 160.7 376.6)"/>
<rect x="248.5" y="430.9" width="6.5" height="2.9" fill="#e6f4f0" transform="rotate(40 251.8 432.3)"/>
<rect x="170.4" y="383.4" width="5.9" height="3.1" fill="#dff0ee" transform="rotate(39 173.3 385.0)"/>
<rect x="245.4" y="366.3" width="6.4" height="3.8" fill="#e04458" transform="rotate(41 248.7 368.2)"/>
<rect x="236.9" y="417.7" width="4.9" height="3.1" fill="#c4dedc" transform="rotate(40 239.4 419.3)"/>
<rect x="141.3" y="393.2" width="3.7" height="2.5" fill="#d43448" transform="rotate(-54 143.2 394.5)"/>
<rect x="223.7" y="395.7" width="6.4" height="2.4" fill="#d43448" transform="rotate(37 226.9 396.9)"/>
<rect x="161.8" y="353.8" width="3.7" height="2.9" fill="#d43448" transform="rotate(36 163.6 355.3)"/>
<rect x="252.1" y="416.0" width="4.4" height="2.9" fill="#d6ece8" transform="rotate(35 254.3 417.4)"/>
<rect x="196.4" y="353.5" width="3.1" height="3.5" fill="#dff0ee" transform="rotate(-53 197.9 355.3)"/>
<rect x="213.1" y="427.1" width="3.4" height="2.2" fill="#f4fbfa" transform="rotate(40 214.8 428.2)"/>
<rect x="168.8" y="364.8" width="3.1" height="3.1" fill="#e6f4f0" transform="rotate(33 170.3 366.4)"/>
<rect x="150.0" y="427.3" width="6.8" height="2.7" fill="#b02a3c" transform="rotate(35 153.4 428.7)"/>
<rect x="161.0" y="391.3" width="4.2" height="3.1" fill="#ffffff" transform="rotate(33 163.1 392.9)"/>
<rect x="160.2" y="397.7" width="4.2" height="3.0" fill="#d6ece8" transform="rotate(34 162.3 399.2)"/>
<rect x="234.2" y="350.0" width="7.5" height="2.4" fill="#ffffff" transform="rotate(36 238.0 351.2)"/>
<rect x="199.8" y="427.8" width="4.6" height="2.3" fill="#7a3a48" transform="rotate(-54 202.1 428.9)"/>
<rect x="155.7" y="408.5" width="5.8" height="4.0" fill="#3c3a40" transform="rotate(-53 158.6 410.6)"/>
<rect x="173.9" y="421.9" width="6.7" height="3.2" fill="#6a5a60" transform="rotate(36 177.3 423.4)"/>
<rect x="184.9" y="381.4" width="5.4" height="3.1" fill="#d6ece8" transform="rotate(35 187.6 383.0)"/>
<rect x="212.8" y="390.3" width="5.2" height="2.3" fill="#8a4a56" transform="rotate(-53 215.4 391.5)"/>
<rect x="236.1" y="419.6" width="5.7" height="4.2" fill="#6a5a60" transform="rotate(-57 239.0 421.7)"/>
<rect x="234.5" y="357.9" width="5.9" height="2.7" fill="#b02a3c" transform="rotate(-53 237.4 359.2)"/>
<rect x="172.1" y="422.7" width="6.8" height="2.2" fill="#c22c40" transform="rotate(35 175.5 423.8)"/>
<rect x="160.7" y="390.4" width="7.5" height="2.4" fill="#ffffff" transform="rotate(-53 164.5 391.6)"/>
<rect x="118.3" y="379.5" width="6.7" height="2.4" fill="#c22c40" transform="rotate(-55 121.7 380.7)"/>
<rect x="149.4" y="415.3" width="6.7" height="2.4" fill="#f4fbfa" transform="rotate(35 152.7 416.5)"/>
<rect x="206.6" y="374.5" width="3.2" height="2.9" fill="#c4dedc" transform="rotate(-54 208.2 375.9)"/>
<rect x="142.1" y="402.4" width="7.3" height="3.1" fill="#7a3a48" transform="rotate(-53 145.8 403.9)"/>
<rect x="214.0" y="407.5" width="6.3" height="3.1" fill="#e04458" transform="rotate(38 217.1 409.0)"/>
<rect x="157.3" y="395.6" width="7.7" height="3.6" fill="#ffffff" transform="rotate(-52 161.1 397.3)"/>
<rect x="129.1" y="422.3" width="6.2" height="3.5" fill="#c22c40" transform="rotate(-54 132.2 424.0)"/>
<rect x="182.9" y="429.5" width="3.6" height="3.7" fill="#3c3a40" transform="rotate(40 184.7 431.4)"/>
<rect x="205.9" y="385.2" width="5.5" height="2.3" fill="#d6ece8" transform="rotate(-54 208.7 386.3)"/>
<rect x="127.3" y="388.4" width="7.9" height="3.1" fill="#d6ece8" transform="rotate(-54 131.2 390.0)"/>
<rect x="125.0" y="344.7" width="7.2" height="3.1" fill="#d43448" transform="rotate(39 128.6 346.2)"/>
<rect x="178.3" y="415.2" width="5.5" height="3.6" fill="#7a3a48" transform="rotate(39 181.1 417.0)"/>
<rect x="152.4" y="365.5" width="5.2" height="4.2" fill="#c4dedc" transform="rotate(-55 154.9 367.6)"/>
<rect x="229.7" y="407.1" width="4.4" height="4.2" fill="#c22c40" transform="rotate(38 231.9 409.1)"/>
<rect x="115.9" y="387.4" width="7.7" height="3.2" fill="#4a4248" transform="rotate(36 119.7 389.0)"/>
<rect x="181.4" y="388.0" width="3.9" height="3.5" fill="#dff0ee" transform="rotate(33 183.4 389.8)"/>
<rect x="168.5" y="416.2" width="3.7" height="3.2" fill="#ffffff" transform="rotate(-54 170.3 417.8)"/>
<rect x="112.5" y="410.2" width="3.8" height="3.4" fill="#dff0ee" transform="rotate(37 114.4 411.9)"/>
<rect x="113.2" y="374.6" width="7.9" height="3.9" fill="#f4fbfa" transform="rotate(39 117.1 376.5)"/>
<rect x="168.3" y="433.4" width="5.2" height="3.1" fill="#f4fbfa" transform="rotate(-54 170.9 435.0)"/>
<rect x="238.0" y="357.1" width="3.6" height="3.4" fill="#6a5a60" transform="rotate(35 239.8 358.8)"/>
<rect x="213.1" y="413.8" width="6.4" height="2.5" fill="#7a3a48" transform="rotate(34 216.3 415.0)"/>
<rect x="148.8" y="384.3" width="3.3" height="3.0" fill="#ffffff" transform="rotate(35 150.5 385.8)"/>
<rect x="117.7" y="410.1" width="6.3" height="3.5" fill="#c4dedc" transform="rotate(-50 120.8 411.8)"/>
<rect x="162.3" y="356.4" width="7.8" height="3.7" fill="#ffffff" transform="rotate(-53 166.2 358.3)"/>
<rect x="201.7" y="359.5" width="7.0" height="4.1" fill="#b02a3c" transform="rotate(35 205.2 361.5)"/>
<rect x="170.2" y="402.5" width="4.5" height="4.1" fill="#d6ece8" transform="rotate(-49 172.5 404.5)"/>
<rect x="156.0" y="409.1" width="4.9" height="2.8" fill="#b02a3c" transform="rotate(38 158.4 410.5)"/>
<rect x="148.0" y="381.7" width="3.3" height="3.0" fill="#d6ece8" transform="rotate(41 149.6 383.2)"/>
<rect x="175.4" y="434.3" width="7.9" height="3.4" fill="#c22c40" transform="rotate(-53 179.4 436.0)"/>
<rect x="217.6" y="355.4" width="7.8" height="4.2" fill="#7a3a48" transform="rotate(38 221.5 357.5)"/>
<rect x="157.7" y="402.8" width="5.1" height="3.9" fill="#dff0ee" transform="rotate(-55 160.2 404.8)"/>
<rect x="154.2" y="385.9" width="6.5" height="3.1" fill="#b02a3c" transform="rotate(39 157.4 387.5)"/>
<rect x="118.3" y="355.8" width="6.6" height="2.3" fill="#ffffff" transform="rotate(-49 121.6 356.9)"/>
<rect x="233.4" y="382.2" width="4.7" height="3.1" fill="#c4dedc" transform="rotate(39 235.7 383.8)"/>
<rect x="183.2" y="413.8" width="5.5" height="3.4" fill="#d43448" transform="rotate(39 186.0 415.5)"/>
<rect x="142.0" y="406.0" width="7.4" height="2.8" fill="#e6f4f0" transform="rotate(40 145.7 407.4)"/>
<rect x="185.1" y="366.5" width="4.5" height="3.3" fill="#f4fbfa" transform="rotate(-56 187.4 368.2)"/>
<rect x="142.8" y="403.4" width="5.0" height="3.7" fill="#d6ece8" transform="rotate(34 145.3 405.3)"/>
<rect x="197.7" y="404.7" width="4.2" height="3.5" fill="#7a3a48" transform="rotate(40 199.7 406.5)"/>
<rect x="205.0" y="363.7" width="6.7" height="3.4" fill="#c22c40" transform="rotate(-54 208.3 365.4)"/>
<rect x="243.1" y="438.1" width="4.7" height="2.6" fill="#6a5a60" transform="rotate(-56 245.5 439.4)"/>
<rect x="144.6" y="412.8" width="3.1" height="3.4" fill="#b02a3c" transform="rotate(-54 146.2 414.6)"/>
<rect x="179.7" y="357.1" width="3.5" height="2.8" fill="#c4dedc" transform="rotate(-54 181.5 358.5)"/>
<rect x="140.4" y="349.9" width="7.0" height="3.6" fill="#b02a3c" transform="rotate(35 143.9 351.7)"/>
<rect x="141.2" y="381.4" width="6.7" height="3.3" fill="#4a4248" transform="rotate(37 144.5 383.0)"/>
<rect x="173.7" y="348.9" width="6.2" height="2.5" fill="#f4fbfa" transform="rotate(-50 176.8 350.2)"/>
<rect x="118.1" y="400.1" width="4.6" height="3.1" fill="#4a4248" transform="rotate(-50 120.4 401.6)"/>
<rect x="168.8" y="354.6" width="5.1" height="3.5" fill="#5c4a52" transform="rotate(-55 171.3 356.4)"/>
<rect x="131.2" y="397.0" width="6.9" height="2.3" fill="#dff0ee" transform="rotate(-54 134.6 398.2)"/>
<rect x="172.8" y="351.9" width="4.3" height="3.9" fill="#d43448" transform="rotate(40 174.9 353.9)"/>
<rect x="135.6" y="415.5" width="4.3" height="3.2" fill="#dff0ee" transform="rotate(35 137.8 417.1)"/>
<rect x="147.4" y="403.2" width="3.9" height="3.8" fill="#c4dedc" transform="rotate(37 149.3 405.1)"/>
<rect x="211.5" y="409.0" width="3.4" height="3.5" fill="#b02a3c" transform="rotate(38 213.3 410.8)"/>
<rect x="168.8" y="350.6" width="6.0" height="3.5" fill="#ffffff" transform="rotate(35 171.8 352.3)"/>
<rect x="197.5" y="395.3" width="3.2" height="2.4" fill="#c22c40" transform="rotate(-52 199.1 396.5)"/>
<rect x="199.0" y="427.2" width="6.0" height="3.7" fill="#7a3a48" transform="rotate(-50 202.0 429.1)"/>
<rect x="189.3" y="384.7" width="3.8" height="3.2" fill="#c4dedc" transform="rotate(-54 191.2 386.3)"/>
<rect x="111.8" y="383.6" width="5.7" height="3.7" fill="#4a4248" transform="rotate(-51 114.7 385.5)"/>
<rect x="136.6" y="424.7" width="5.8" height="2.5" fill="#f4fbfa" transform="rotate(-57 139.5 425.9)"/>
<rect x="130.2" y="399.8" width="6.4" height="3.4" fill="#f4fbfa" transform="rotate(36 133.4 401.5)"/>
<rect x="222.3" y="404.3" width="6.0" height="4.1" fill="#e04458" transform="rotate(-50 225.3 406.3)"/>
<rect x="181.1" y="388.1" width="3.2" height="3.1" fill="#e6f4f0" transform="rotate(-52 182.7 389.7)"/>
<rect x="122.0" y="394.1" width="6.7" height="2.3" fill="#e6f4f0" transform="rotate(36 125.3 395.2)"/>
<rect x="148.6" y="391.2" width="6.6" height="3.5" fill="#d43448" transform="rotate(-50 151.9 393.0)"/>
<rect x="177.9" y="428.8" width="3.0" height="4.0" fill="#c4dedc" transform="rotate(-54 179.5 430.8)"/>
<rect x="247.4" y="429.0" width="4.4" height="3.7" fill="#f4fbfa" transform="rotate(-53 249.5 430.8)"/>
<rect x="221.9" y="376.1" width="8.0" height="2.9" fill="#e04458" transform="rotate(-52 225.9 377.6)"/>
<rect x="148.3" y="360.5" width="7.2" height="2.3" fill="#e04458" transform="rotate(37 151.9 361.6)"/>
<rect x="196.0" y="386.6" width="4.4" height="2.2" fill="#c4dedc" transform="rotate(-52 198.2 387.7)"/>
<rect x="151.8" y="415.0" width="4.5" height="3.6" fill="#d43448" transform="rotate(-51 154.1 416.8)"/>
<rect x="245.6" y="381.2" width="7.7" height="4.0" fill="#ffffff" transform="rotate(39 249.4 383.2)"/>
<rect x="198.4" y="427.8" width="3.9" height="3.0" fill="#3c3a40" transform="rotate(37 200.4 429.3)"/>
<rect x="139.2" y="422.7" width="7.9" height="3.8" fill="#c4dedc" transform="rotate(-56 143.1 424.7)"/>
<rect x="142.2" y="415.1" width="3.4" height="3.6" fill="#c22c40" transform="rotate(-54 143.9 416.9)"/>
<rect x="248.5" y="418.5" width="6.5" height="3.7" fill="#3c3a40" transform="rotate(-53 251.7 420.4)"/>
<rect x="162.5" y="357.3" width="7.7" height="3.0" fill="#d6ece8" transform="rotate(-52 166.4 358.8)"/>
<rect x="205.9" y="380.1" width="6.6" height="2.9" fill="#4a4248" transform="rotate(37 209.2 381.5)"/>
<rect x="134.3" y="370.3" width="4.5" height="2.9" fill="#b02a3c" transform="rotate(-57 136.5 371.8)"/>
<rect x="178.2" y="406.0" width="6.3" height="3.4" fill="#8a4a56" transform="rotate(34 181.3 407.7)"/>
<rect x="119.0" y="346.9" width="5.7" height="2.4" fill="#f4fbfa" transform="rotate(-55 121.9 348.1)"/>
<rect x="113.0" y="433.5" width="4.5" height="3.4" fill="#d6ece8" transform="rotate(39 115.2 435.2)"/>
<rect x="163.8" y="364.2" width="3.2" height="4.2" fill="#3c3a40" transform="rotate(-57 165.4 366.3)"/>
<rect x="167.9" y="384.2" width="6.4" height="3.8" fill="#d6ece8" transform="rotate(35 171.1 386.1)"/>
<rect x="156.1" y="393.9" width="6.1" height="2.5" fill="#5c4a52" transform="rotate(-54 159.1 395.2)"/>
<rect x="224.9" y="383.0" width="5.8" height="2.5" fill="#ffffff" transform="rotate(39 227.8 384.3)"/>
<rect x="194.9" y="401.7" width="4.4" height="2.2" fill="#d6ece8" transform="rotate(-54 197.1 402.9)"/>
<rect x="158.0" y="402.5" width="5.3" height="4.1" fill="#ffffff" transform="rotate(-52 160.7 404.5)"/>
<rect x="178.3" y="390.1" width="6.3" height="3.4" fill="#d6ece8" transform="rotate(-53 181.5 391.8)"/>
<rect x="249.4" y="421.0" width="5.8" height="2.8" fill="#6a5a60" transform="rotate(-56 252.3 422.4)"/>
<rect x="127.4" y="419.0" width="5.8" height="2.4" fill="#dff0ee" transform="rotate(39 130.3 420.1)"/>
<rect x="118.7" y="359.6" width="3.2" height="3.2" fill="#4a4248" transform="rotate(34 120.3 361.2)"/>
<rect x="225.6" y="397.0" width="4.8" height="3.3" fill="#d6ece8" transform="rotate(37 228.0 398.7)"/>
<rect x="209.2" y="400.3" width="4.7" height="2.9" fill="#6a5a60" transform="rotate(36 211.5 401.7)"/>
<rect x="238.2" y="380.7" width="3.1" height="2.6" fill="#dff0ee" transform="rotate(34 239.8 382.0)"/>
<rect x="150.5" y="381.4" width="5.4" height="2.3" fill="#ffffff" transform="rotate(-55 153.2 382.5)"/>
<rect x="112.7" y="397.4" width="7.7" height="3.6" fill="#ffffff" transform="rotate(34 116.5 399.3)"/>
<rect x="142.7" y="410.3" width="6.1" height="2.9" fill="#3c3a40" transform="rotate(-55 145.8 411.8)"/>
<rect x="210.1" y="435.7" width="3.1" height="2.4" fill="#e6f4f0" transform="rotate(-54 211.6 436.9)"/>
<rect x="182.7" y="373.5" width="4.8" height="4.1" fill="#ffffff" transform="rotate(-53 185.1 375.5)"/>
<rect x="182.3" y="418.7" width="3.6" height="2.8" fill="#ffffff" transform="rotate(-50 184.1 420.1)"/>
<rect x="252.0" y="364.4" width="6.9" height="2.3" fill="#d6ece8" transform="rotate(-53 255.4 365.6)"/>
<rect x="216.8" y="408.6" width="5.2" height="3.2" fill="#5c4a52" transform="rotate(-56 219.4 410.3)"/>
<rect x="236.5" y="373.0" width="3.8" height="3.1" fill="#e6f4f0" transform="rotate(39 238.4 374.5)"/>
<rect x="136.5" y="389.4" width="7.2" height="3.8" fill="#6a5a60" transform="rotate(37 140.1 391.3)"/>
<rect x="167.3" y="403.5" width="5.7" height="2.8" fill="#3c3a40" transform="rotate(34 170.2 404.8)"/>
<rect x="216.3" y="416.5" width="5.2" height="3.7" fill="#dff0ee" transform="rotate(-51 218.8 418.4)"/>
<rect x="247.3" y="347.2" width="7.7" height="3.1" fill="#dff0ee" transform="rotate(40 251.2 348.8)"/>
<rect x="240.4" y="414.9" width="4.6" height="2.7" fill="#e04458" transform="rotate(-54 242.7 416.2)"/>
<rect x="225.7" y="419.4" width="5.7" height="2.4" fill="#e04458" transform="rotate(-51 228.6 420.7)"/>
<rect x="175.9" y="399.7" width="5.8" height="2.8" fill="#d43448" transform="rotate(-52 178.8 401.1)"/>
<rect x="181.4" y="380.8" width="6.5" height="3.5" fill="#dff0ee" transform="rotate(-54 184.7 382.5)"/>
<rect x="148.6" y="347.7" width="6.9" height="3.1" fill="#d43448" transform="rotate(-50 152.1 349.3)"/>
<rect x="112.4" y="352.0" width="4.6" height="3.9" fill="#c22c40" transform="rotate(34 114.7 354.0)"/>
<rect x="234.8" y="395.1" width="6.9" height="3.1" fill="#4a4248" transform="rotate(36 238.2 396.7)"/>
<rect x="203.6" y="357.5" width="3.9" height="4.0" fill="#c22c40" transform="rotate(-50 205.6 359.5)"/>
<rect x="218.3" y="382.9" width="7.3" height="3.5" fill="#c4dedc" transform="rotate(35 222.0 384.7)"/>
<rect x="134.7" y="365.2" width="6.0" height="3.6" fill="#b02a3c" transform="rotate(-52 137.7 367.0)"/>
<rect x="204.6" y="384.4" width="4.7" height="4.0" fill="#8a4a56" transform="rotate(37 207.0 386.4)"/>
<rect x="139.6" y="392.3" width="8.0" height="2.4" fill="#ffffff" transform="rotate(-55 143.6 393.5)"/>
<rect x="122.2" y="401.7" width="4.6" height="3.4" fill="#e04458" transform="rotate(38 124.5 403.4)"/>
<rect x="168.2" y="385.0" width="5.1" height="3.5" fill="#dff0ee" transform="rotate(-49 170.7 386.8)"/>
<rect x="176.0" y="401.5" width="5.0" height="3.1" fill="#6a5a60" transform="rotate(-52 178.5 403.1)"/>
<rect x="120.6" y="406.4" width="5.6" height="4.2" fill="#b02a3c" transform="rotate(35 123.4 408.5)"/>
<rect x="212.8" y="435.1" width="5.7" height="2.9" fill="#c22c40" transform="rotate(34 215.6 436.5)"/>
<rect x="158.6" y="347.3" width="5.0" height="3.1" fill="#7a3a48" transform="rotate(-49 161.1 348.8)"/>
<rect x="240.9" y="429.6" width="4.3" height="2.4" fill="#e6f4f0" transform="rotate(36 243.0 430.8)"/>
<rect x="153.1" y="391.7" width="3.5" height="2.8" fill="#8a4a56" transform="rotate(34 154.8 393.1)"/>
<rect x="126.6" y="351.6" width="5.6" height="3.7" fill="#e04458" transform="rotate(-50 129.4 353.5)"/>
<rect x="152.7" y="371.9" width="6.2" height="2.3" fill="#ffffff" transform="rotate(41 155.8 373.0)"/>
<rect x="184.4" y="402.3" width="5.2" height="3.4" fill="#8a4a56" transform="rotate(33 187.0 404.0)"/>
<rect x="200.8" y="356.8" width="6.4" height="3.8" fill="#4a4248" transform="rotate(-54 204.0 358.7)"/>
<rect x="239.2" y="344.0" width="7.0" height="2.4" fill="#c4dedc" transform="rotate(41 242.7 345.2)"/>
<rect x="173.4" y="384.3" width="3.3" height="3.4" fill="#c4dedc" transform="rotate(39 175.0 385.9)"/>
<rect x="143.8" y="434.2" width="3.7" height="2.8" fill="#dff0ee" transform="rotate(-54 145.6 435.6)"/>
<rect x="206.3" y="346.2" width="3.3" height="2.9" fill="#f4fbfa" transform="rotate(37 207.9 347.6)"/>
<rect x="205.5" y="370.7" width="3.8" height="2.7" fill="#ffffff" transform="rotate(-52 207.4 372.1)"/>
<rect x="150.8" y="392.3" width="4.7" height="3.4" fill="#7a3a48" transform="rotate(39 153.2 394.0)"/>
<rect x="234.7" y="379.9" width="4.3" height="3.2" fill="#8a4a56" transform="rotate(39 236.8 381.5)"/>
<rect x="231.0" y="435.9" width="5.3" height="3.3" fill="#e04458" transform="rotate(-49 233.6 437.5)"/>
<rect x="117.7" y="414.3" width="4.6" height="3.4" fill="#d43448" transform="rotate(-49 120.0 416.0)"/>
<rect x="143.1" y="405.8" width="7.3" height="2.4" fill="#6a5a60" transform="rotate(33 146.7 407.0)"/>
<rect x="242.2" y="363.1" width="7.8" height="3.1" fill="#ffffff" transform="rotate(34 246.1 364.6)"/>
<rect x="181.4" y="414.4" width="6.9" height="3.7" fill="#f4fbfa" transform="rotate(36 184.9 416.2)"/>
<rect x="181.9" y="347.7" width="6.8" height="2.4" fill="#d6ece8" transform="rotate(-56 185.3 348.9)"/>
<rect x="245.8" y="402.2" width="6.7" height="3.4" fill="#c4dedc" transform="rotate(41 249.2 403.9)"/>
<rect x="124.1" y="381.7" width="5.8" height="3.6" fill="#dff0ee" transform="rotate(-56 127.0 383.5)"/>
<rect x="191.2" y="419.2" width="6.8" height="2.3" fill="#c4dedc" transform="rotate(35 194.5 420.4)"/>
<rect x="224.3" y="350.1" width="7.6" height="3.9" fill="#5c4a52" transform="rotate(-50 228.1 352.0)"/>
<rect x="226.4" y="371.1" width="7.0" height="3.4" fill="#8a4a56" transform="rotate(-55 229.9 372.7)"/>
<rect x="170.4" y="402.7" width="6.1" height="2.6" fill="#3c3a40" transform="rotate(-55 173.5 404.0)"/>
<rect x="186.1" y="412.8" width="4.2" height="3.4" fill="#c22c40" transform="rotate(34 188.2 414.5)"/>
<rect x="115.0" y="425.8" width="5.9" height="3.4" fill="#f4fbfa" transform="rotate(36 118.0 427.5)"/>
<rect x="239.7" y="408.5" width="3.4" height="4.0" fill="#c22c40" transform="rotate(35 241.4 410.5)"/>
<rect x="186.0" y="435.5" width="7.5" height="3.2" fill="#b02a3c" transform="rotate(35 189.8 437.1)"/>
<rect x="177.2" y="423.6" width="3.6" height="3.7" fill="#e04458" transform="rotate(-53 179.0 425.4)"/>
<rect x="224.4" y="366.3" width="6.2" height="2.3" fill="#c4dedc" transform="rotate(36 227.5 367.5)"/>
<rect x="141.6" y="345.0" width="4.2" height="3.1" fill="#f4fbfa" transform="rotate(-55 143.7 346.5)"/>
<rect x="217.8" y="438.4" width="6.1" height="2.9" fill="#b02a3c" transform="rotate(36 220.9 439.8)"/>
<rect x="140.5" y="386.8" width="5.5" height="3.5" fill="#6a5a60" transform="rotate(-56 143.3 388.5)"/>
<rect x="161.4" y="391.4" width="3.4" height="3.2" fill="#ffffff" transform="rotate(38 163.1 393.0)"/>
<rect x="179.7" y="351.5" width="7.6" height="2.8" fill="#e04458" transform="rotate(-52 183.5 352.9)"/>
<rect x="246.5" y="362.0" width="4.1" height="2.5" fill="#f4fbfa" transform="rotate(36 248.6 363.3)"/>
<rect x="228.2" y="408.3" width="3.4" height="3.6" fill="#6a5a60" transform="rotate(-56 229.9 410.1)"/>
</g>
<clipPath id="cp2"><polygon points="209.5,326.4 231.5,317.6 252.0,343.9 260.8,361.5 240.3,376.2 218.3,348.3"/></clipPath>
<g clip-path="url(#cp2)">
<polygon points="209.5,326.4 231.5,317.6 252.0,343.9 260.8,361.5 240.3,376.2 218.3,348.3" fill="#cfd4d4" />
<rect x="231.0" y="354.5" width="6.7" height="2.9" fill="#6a5a60" transform="rotate(-53 234.4 356.0)"/>
<rect x="238.2" y="360.4" width="6.2" height="4.1" fill="#dff0ee" transform="rotate(-51 241.3 362.4)"/>
<rect x="213.5" y="331.4" width="6.6" height="3.4" fill="#dff0ee" transform="rotate(-50 216.8 333.1)"/>
<rect x="206.7" y="347.0" width="5.7" height="3.2" fill="#dff0ee" transform="rotate(38 209.6 348.6)"/>
<rect x="209.4" y="367.9" width="6.5" height="4.0" fill="#dff0ee" transform="rotate(39 212.7 370.0)"/>
<rect x="240.5" y="318.1" width="3.1" height="3.6" fill="#c4dedc" transform="rotate(35 242.1 319.9)"/>
<rect x="228.8" y="365.6" width="6.8" height="2.5" fill="#5c4a52" transform="rotate(-51 232.2 366.9)"/>
<rect x="219.9" y="368.4" width="5.1" height="2.6" fill="#c22c40" transform="rotate(-50 222.4 369.6)"/>
<rect x="208.3" y="340.9" width="4.9" height="2.3" fill="#8a4a56" transform="rotate(-54 210.7 342.0)"/>
<rect x="250.7" y="369.0" width="7.3" height="3.7" fill="#ffffff" transform="rotate(38 254.3 370.8)"/>
<rect x="255.7" y="326.3" width="7.5" height="3.7" fill="#d6ece8" transform="rotate(-54 259.4 328.1)"/>
<rect x="237.0" y="372.5" width="4.2" height="3.9" fill="#f4fbfa" transform="rotate(-56 239.1 374.4)"/>
<rect x="240.6" y="335.6" width="3.5" height="2.3" fill="#ffffff" transform="rotate(39 242.4 336.7)"/>
<rect x="224.0" y="331.3" width="4.8" height="2.9" fill="#8a4a56" transform="rotate(37 226.4 332.8)"/>
<rect x="226.6" y="357.0" width="6.8" height="2.9" fill="#d6ece8" transform="rotate(39 230.0 358.5)"/>
<rect x="210.8" y="355.2" width="4.3" height="4.1" fill="#d43448" transform="rotate(41 213.0 357.2)"/>
<rect x="238.7" y="370.0" width="6.7" height="2.3" fill="#c4dedc" transform="rotate(33 242.0 371.1)"/>
<rect x="254.4" y="315.9" width="3.9" height="4.0" fill="#c22c40" transform="rotate(-57 256.4 317.9)"/>
<rect x="216.2" y="359.3" width="4.3" height="4.2" fill="#8a4a56" transform="rotate(38 218.4 361.4)"/>
<rect x="237.0" y="323.8" width="7.1" height="4.0" fill="#f4fbfa" transform="rotate(-56 240.6 325.8)"/>
<rect x="220.4" y="373.1" width="4.6" height="2.8" fill="#e6f4f0" transform="rotate(-55 222.7 374.5)"/>
<rect x="207.6" y="368.4" width="7.0" height="3.7" fill="#4a4248" transform="rotate(33 211.1 370.3)"/>
<rect x="255.8" y="347.7" width="4.7" height="4.2" fill="#e6f4f0" transform="rotate(39 258.2 349.8)"/>
<rect x="226.7" y="344.8" width="7.6" height="3.5" fill="#5c4a52" transform="rotate(-57 230.5 346.5)"/>
<rect x="258.4" y="348.0" width="3.8" height="4.2" fill="#f4fbfa" transform="rotate(-50 260.3 350.1)"/>
<rect x="211.3" y="360.4" width="3.9" height="2.2" fill="#6a5a60" transform="rotate(40 213.2 361.5)"/>
<rect x="214.7" y="325.9" width="4.1" height="3.7" fill="#dff0ee" transform="rotate(35 216.7 327.7)"/>
<rect x="232.6" y="316.2" width="4.8" height="3.4" fill="#3c3a40" transform="rotate(37 235.0 317.9)"/>
<rect x="222.0" y="316.1" width="6.1" height="3.4" fill="#e6f4f0" transform="rotate(38 225.0 317.8)"/>
<rect x="248.1" y="355.6" width="7.3" height="3.5" fill="#ffffff" transform="rotate(36 251.7 357.4)"/>
<rect x="237.6" y="348.6" width="5.8" height="3.3" fill="#c4dedc" transform="rotate(-55 240.5 350.3)"/>
<rect x="253.4" y="364.8" width="4.0" height="3.4" fill="#4a4248" transform="rotate(-55 255.4 366.4)"/>
<rect x="218.5" y="316.1" width="3.1" height="3.8" fill="#dff0ee" transform="rotate(33 220.0 318.0)"/>
<rect x="208.1" y="328.5" width="6.8" height="2.4" fill="#4a4248" transform="rotate(-57 211.5 329.7)"/>
<rect x="223.4" y="373.5" width="4.2" height="4.1" fill="#7a3a48" transform="rotate(-55 225.5 375.5)"/>
<rect x="232.5" y="345.8" width="4.3" height="2.4" fill="#c22c40" transform="rotate(-57 234.6 347.0)"/>
<rect x="222.0" y="345.3" width="4.3" height="4.0" fill="#ffffff" transform="rotate(-52 224.1 347.3)"/>
<rect x="234.0" y="346.3" width="7.5" height="2.9" fill="#5c4a52" transform="rotate(39 237.8 347.7)"/>
<rect x="243.1" y="339.0" width="4.5" height="3.0" fill="#f4fbfa" transform="rotate(38 245.4 340.5)"/>
<rect x="214.0" y="346.1" width="3.7" height="4.1" fill="#e6f4f0" transform="rotate(-50 215.9 348.2)"/>
<rect x="235.5" y="347.0" width="7.1" height="2.8" fill="#3c3a40" transform="rotate(39 239.1 348.4)"/>
<rect x="225.2" y="353.0" width="4.5" height="2.4" fill="#e6f4f0" transform="rotate(38 227.4 354.2)"/>
<rect x="214.9" y="345.1" width="7.2" height="3.8" fill="#dff0ee" transform="rotate(37 218.5 347.0)"/>
<rect x="215.2" y="367.8" width="4.3" height="2.5" fill="#dff0ee" transform="rotate(-50 217.4 369.1)"/>
<rect x="255.1" y="332.3" width="4.2" height="2.4" fill="#d43448" transform="rotate(41 257.2 333.5)"/>
<rect x="237.4" y="344.3" width="3.3" height="4.0" fill="#5c4a52" transform="rotate(-55 239.0 346.3)"/>
<rect x="223.2" y="331.1" width="6.0" height="2.7" fill="#c4dedc" transform="rotate(34 226.2 332.4)"/>
<rect x="252.4" y="369.8" width="7.6" height="4.0" fill="#dff0ee" transform="rotate(38 256.2 371.8)"/>
<rect x="242.0" y="353.7" width="5.6" height="2.6" fill="#ffffff" transform="rotate(-54 244.8 355.0)"/>
<rect x="215.2" y="368.5" width="5.8" height="3.1" fill="#8a4a56" transform="rotate(35 218.1 370.1)"/>
<rect x="219.1" y="333.6" width="5.0" height="3.5" fill="#c22c40" transform="rotate(40 221.6 335.4)"/>
<rect x="229.4" y="362.7" width="5.0" height="2.7" fill="#dff0ee" transform="rotate(39 231.9 364.0)"/>
<rect x="254.7" y="359.5" width="7.8" height="2.9" fill="#3c3a40" transform="rotate(36 258.6 361.0)"/>
<rect x="228.7" y="371.8" width="4.0" height="2.5" fill="#3c3a40" transform="rotate(-54 230.8 373.1)"/>
<rect x="227.6" y="343.1" width="3.2" height="2.9" fill="#e6f4f0" transform="rotate(-53 229.2 344.5)"/>
<rect x="252.1" y="353.9" width="7.7" height="3.9" fill="#e6f4f0" transform="rotate(38 256.0 355.9)"/>
<rect x="226.0" y="362.2" width="4.4" height="3.1" fill="#d6ece8" transform="rotate(-51 228.2 363.7)"/>
<rect x="237.5" y="326.0" width="6.3" height="2.3" fill="#c4dedc" transform="rotate(-50 240.6 327.1)"/>
<rect x="248.1" y="368.0" width="4.4" height="3.1" fill="#e6f4f0" transform="rotate(34 250.2 369.6)"/>
<rect x="234.9" y="348.8" width="3.5" height="3.9" fill="#ffffff" transform="rotate(-49 236.7 350.7)"/>
<rect x="234.1" y="372.0" width="6.5" height="3.0" fill="#5c4a52" transform="rotate(-55 237.4 373.5)"/>
<rect x="226.3" y="337.4" width="6.9" height="2.7" fill="#f4fbfa" transform="rotate(41 229.8 338.7)"/>
<rect x="241.0" y="346.6" width="8.0" height="4.1" fill="#dff0ee" transform="rotate(35 245.0 348.7)"/>
<rect x="253.2" y="318.4" width="5.2" height="2.5" fill="#c4dedc" transform="rotate(-55 255.8 319.7)"/>
<rect x="224.7" y="335.1" width="5.4" height="2.6" fill="#3c3a40" transform="rotate(-55 227.4 336.4)"/>
<rect x="244.9" y="359.4" width="7.0" height="3.3" fill="#ffffff" transform="rotate(36 248.4 361.0)"/>
<rect x="216.3" y="346.7" width="5.1" height="3.0" fill="#f4fbfa" transform="rotate(34 218.9 348.2)"/>
<rect x="231.0" y="360.0" width="6.4" height="3.4" fill="#3c3a40" transform="rotate(35 234.2 361.7)"/>
<rect x="214.5" y="337.4" width="6.5" height="2.7" fill="#7a3a48" transform="rotate(-53 217.8 338.8)"/>
<rect x="250.9" y="365.7" width="4.2" height="2.7" fill="#f4fbfa" transform="rotate(38 253.0 367.0)"/>
<rect x="255.0" y="342.8" width="5.1" height="4.1" fill="#dff0ee" transform="rotate(-55 257.6 344.9)"/>
<rect x="208.2" y="317.2" width="7.6" height="3.3" fill="#f4fbfa" transform="rotate(-55 212.0 318.8)"/>
<rect x="214.7" y="331.5" width="8.0" height="4.1" fill="#b02a3c" transform="rotate(-50 218.7 333.5)"/>
<rect x="248.4" y="368.8" width="4.8" height="2.7" fill="#f4fbfa" transform="rotate(-50 250.8 370.2)"/>
<rect x="215.8" y="345.6" width="7.6" height="3.3" fill="#d6ece8" transform="rotate(-51 219.6 347.3)"/>
<rect x="226.4" y="344.4" width="5.5" height="3.4" fill="#c4dedc" transform="rotate(-54 229.1 346.2)"/>
<rect x="240.6" y="348.5" width="7.3" height="2.7" fill="#d6ece8" transform="rotate(39 244.2 349.8)"/>
<rect x="244.2" y="316.7" width="3.5" height="2.5" fill="#d6ece8" transform="rotate(34 246.0 318.0)"/>
<rect x="237.0" y="352.2" width="5.2" height="2.7" fill="#c22c40" transform="rotate(-54 239.6 353.6)"/>
<rect x="236.0" y="370.4" width="4.5" height="4.2" fill="#6a5a60" transform="rotate(39 238.2 372.5)"/>
<rect x="223.0" y="324.0" width="3.1" height="4.1" fill="#c4dedc" transform="rotate(41 224.6 326.1)"/>
<rect x="251.0" y="370.6" width="3.2" height="3.8" fill="#dff0ee" transform="rotate(-52 252.6 372.5)"/>
<rect x="250.5" y="374.1" width="4.9" height="4.1" fill="#3c3a40" transform="rotate(35 252.9 376.2)"/>
<rect x="222.6" y="367.1" width="4.1" height="3.6" fill="#e6f4f0" transform="rotate(40 224.6 368.9)"/>
<rect x="237.6" y="362.2" width="4.4" height="4.0" fill="#b02a3c" transform="rotate(-52 239.8 364.2)"/>
<rect x="233.9" y="347.5" width="6.8" height="2.5" fill="#d6ece8" transform="rotate(38 237.3 348.7)"/>
<rect x="217.9" y="322.4" width="4.7" height="4.1" fill="#3c3a40" transform="rotate(41 220.3 324.5)"/>
<rect x="244.8" y="337.1" width="7.1" height="2.3" fill="#4a4248" transform="rotate(-54 248.4 338.2)"/>
<rect x="254.1" y="369.6" width="7.5" height="3.4" fill="#f4fbfa" transform="rotate(-55 257.8 371.2)"/>
<rect x="210.5" y="317.6" width="7.4" height="3.4" fill="#c4dedc" transform="rotate(40 214.2 319.4)"/>
<rect x="215.4" y="320.2" width="4.0" height="2.4" fill="#dff0ee" transform="rotate(35 217.4 321.4)"/>
<rect x="257.7" y="327.4" width="4.0" height="3.9" fill="#6a5a60" transform="rotate(37 259.7 329.4)"/>
<rect x="237.2" y="343.9" width="6.6" height="3.2" fill="#c22c40" transform="rotate(-54 240.5 345.5)"/>
<rect x="222.5" y="349.7" width="4.5" height="4.0" fill="#f4fbfa" transform="rotate(38 224.7 351.6)"/>
<rect x="228.9" y="370.4" width="7.2" height="3.8" fill="#dff0ee" transform="rotate(-49 232.5 372.3)"/>
<rect x="211.8" y="365.4" width="4.7" height="2.6" fill="#ffffff" transform="rotate(37 214.1 366.7)"/>
<rect x="212.8" y="365.8" width="4.6" height="2.2" fill="#ffffff" transform="rotate(-55 215.1 367.0)"/>
<rect x="221.9" y="321.4" width="7.1" height="4.1" fill="#c22c40" transform="rotate(-55 225.5 323.5)"/>
<rect x="231.9" y="365.9" width="6.7" height="3.9" fill="#e6f4f0" transform="rotate(39 235.2 367.8)"/>
<rect x="213.0" y="330.1" width="4.6" height="3.2" fill="#6a5a60" transform="rotate(38 215.3 331.7)"/>
<rect x="228.4" y="338.9" width="4.3" height="2.2" fill="#8a4a56" transform="rotate(-51 230.6 340.0)"/>
<rect x="242.2" y="342.1" width="5.1" height="2.6" fill="#7a3a48" transform="rotate(-54 244.7 343.4)"/>
<rect x="215.3" y="340.3" width="7.6" height="2.3" fill="#c4dedc" transform="rotate(-50 219.1 341.4)"/>
<rect x="224.8" y="351.5" width="7.6" height="3.2" fill="#ffffff" transform="rotate(-52 228.7 353.1)"/>
<rect x="251.4" y="328.1" width="3.8" height="3.7" fill="#e6f4f0" transform="rotate(40 253.3 330.0)"/>
<rect x="212.4" y="367.8" width="3.6" height="2.5" fill="#3c3a40" transform="rotate(33 214.2 369.1)"/>
<rect x="231.3" y="353.1" width="7.5" height="3.6" fill="#dff0ee" transform="rotate(38 235.1 354.9)"/>
<rect x="229.9" y="330.6" width="7.1" height="3.8" fill="#f4fbfa" transform="rotate(-52 233.4 332.5)"/>
<rect x="250.3" y="349.2" width="7.4" height="2.3" fill="#e6f4f0" transform="rotate(37 254.0 350.3)"/>
<rect x="236.6" y="367.7" width="7.4" height="3.8" fill="#6a5a60" transform="rotate(-56 240.3 369.6)"/>
<rect x="250.3" y="357.3" width="4.9" height="3.9" fill="#ffffff" transform="rotate(38 252.7 359.2)"/>
<rect x="219.1" y="342.6" width="3.2" height="4.2" fill="#b02a3c" transform="rotate(38 220.8 344.7)"/>
<rect x="237.5" y="367.7" width="7.5" height="2.8" fill="#d6ece8" transform="rotate(-52 241.2 369.1)"/>
<rect x="215.4" y="352.8" width="4.5" height="4.2" fill="#c4dedc" transform="rotate(35 217.6 354.9)"/>
<rect x="255.4" y="358.7" width="4.8" height="2.9" fill="#4a4248" transform="rotate(-52 257.8 360.2)"/>
<rect x="233.6" y="323.2" width="7.7" height="3.3" fill="#d6ece8" transform="rotate(36 237.4 324.9)"/>
<rect x="223.9" y="321.0" width="4.1" height="3.6" fill="#d6ece8" transform="rotate(34 226.0 322.8)"/>
<rect x="252.9" y="355.7" width="7.0" height="2.7" fill="#e04458" transform="rotate(-49 256.4 357.0)"/>
<rect x="226.0" y="342.7" width="7.7" height="3.5" fill="#6a5a60" transform="rotate(39 229.8 344.5)"/>
<rect x="226.1" y="362.0" width="7.5" height="2.3" fill="#ffffff" transform="rotate(-50 229.8 363.1)"/>
</g>
<clipPath id="cp3"><polygon points="260.8,329.3 281.3,300.0 301.8,300.0 310.6,317.6 294.5,333.7 272.5,361.5 252.0,376.2 243.2,364.4"/></clipPath>
<g clip-path="url(#cp3)">
<polygon points="260.8,329.3 281.3,300.0 301.8,300.0 310.6,317.6 294.5,333.7 272.5,361.5 252.0,376.2 243.2,364.4" fill="#cdbcc2" />
<rect x="287.6" y="328.4" width="7.2" height="4.1" fill="#8a4a56" transform="rotate(36 291.2 330.4)"/>
<rect x="276.8" y="366.1" width="6.8" height="3.6" fill="#d6ece8" transform="rotate(33 280.2 367.9)"/>
<rect x="303.1" y="311.7" width="7.3" height="2.5" fill="#c4dedc" transform="rotate(-50 306.7 312.9)"/>
<rect x="252.2" y="334.0" width="5.2" height="3.0" fill="#6a5a60" transform="rotate(37 254.8 335.5)"/>
<rect x="253.5" y="322.4" width="5.6" height="4.1" fill="#d6ece8" transform="rotate(41 256.3 324.4)"/>
<rect x="287.8" y="306.6" width="4.2" height="4.1" fill="#ffffff" transform="rotate(38 289.9 308.6)"/>
<rect x="302.1" y="332.5" width="4.6" height="3.1" fill="#f4fbfa" transform="rotate(-54 304.4 334.0)"/>
<rect x="268.3" y="338.4" width="5.5" height="2.7" fill="#e6f4f0" transform="rotate(41 271.1 339.8)"/>
<rect x="288.4" y="333.8" width="4.3" height="3.6" fill="#e04458" transform="rotate(-56 290.6 335.6)"/>
<rect x="280.6" y="352.9" width="6.8" height="2.5" fill="#8a4a56" transform="rotate(-56 284.0 354.1)"/>
<rect x="299.9" y="369.3" width="6.2" height="2.7" fill="#e6f4f0" transform="rotate(-53 303.0 370.6)"/>
<rect x="249.9" y="315.0" width="6.7" height="3.5" fill="#f4fbfa" transform="rotate(-51 253.3 316.8)"/>
<rect x="307.2" y="330.5" width="5.7" height="3.9" fill="#d6ece8" transform="rotate(-55 310.1 332.4)"/>
<rect x="278.1" y="322.8" width="8.0" height="3.4" fill="#3c3a40" transform="rotate(34 282.1 324.5)"/>
<rect x="274.2" y="338.4" width="4.6" height="3.5" fill="#dff0ee" transform="rotate(-55 276.5 340.2)"/>
<rect x="304.9" y="339.1" width="3.2" height="3.2" fill="#5c4a52" transform="rotate(35 306.4 340.6)"/>
<rect x="269.3" y="327.1" width="6.1" height="3.2" fill="#d6ece8" transform="rotate(-51 272.4 328.7)"/>
<rect x="271.8" y="343.9" width="5.1" height="4.2" fill="#6a5a60" transform="rotate(34 274.4 345.9)"/>
<rect x="261.7" y="349.3" width="3.8" height="3.2" fill="#4a4248" transform="rotate(34 263.6 351.0)"/>
<rect x="308.5" y="366.9" width="4.0" height="3.9" fill="#d43448" transform="rotate(33 310.5 368.9)"/>
<rect x="266.2" y="346.7" width="7.9" height="3.1" fill="#e6f4f0" transform="rotate(33 270.1 348.2)"/>
<rect x="278.3" y="327.6" width="3.4" height="4.0" fill="#dff0ee" transform="rotate(-56 280.0 329.7)"/>
<rect x="272.4" y="366.6" width="5.8" height="3.5" fill="#d6ece8" transform="rotate(39 275.3 368.3)"/>
<rect x="257.9" y="339.0" width="6.6" height="2.2" fill="#e6f4f0" transform="rotate(40 261.2 340.1)"/>
<rect x="254.9" y="362.8" width="4.9" height="3.9" fill="#3c3a40" transform="rotate(37 257.4 364.7)"/>
<rect x="240.1" y="356.6" width="7.9" height="3.0" fill="#e6f4f0" transform="rotate(-51 244.1 358.1)"/>
<rect x="301.6" y="330.5" width="5.7" height="3.7" fill="#6a5a60" transform="rotate(35 304.5 332.4)"/>
<rect x="256.6" y="343.2" width="6.3" height="2.8" fill="#e04458" transform="rotate(35 259.7 344.6)"/>
<rect x="300.7" y="354.4" width="4.7" height="3.7" fill="#7a3a48" transform="rotate(-56 303.1 356.2)"/>
<rect x="282.6" y="344.9" width="3.9" height="3.3" fill="#e6f4f0" transform="rotate(-51 284.5 346.6)"/>
<rect x="271.4" y="352.2" width="4.9" height="3.3" fill="#ffffff" transform="rotate(-50 273.8 353.8)"/>
<rect x="249.0" y="301.9" width="6.0" height="4.0" fill="#8a4a56" transform="rotate(40 252.0 303.9)"/>
<rect x="253.5" y="347.7" width="5.7" height="3.5" fill="#c4dedc" transform="rotate(38 256.4 349.5)"/>
<rect x="283.6" y="306.5" width="4.0" height="4.2" fill="#3c3a40" transform="rotate(39 285.6 308.5)"/>
<rect x="249.2" y="365.9" width="5.4" height="3.1" fill="#ffffff" transform="rotate(39 252.0 367.4)"/>
<rect x="269.0" y="323.8" width="4.2" height="4.0" fill="#f4fbfa" transform="rotate(-53 271.1 325.8)"/>
<rect x="296.8" y="326.4" width="6.7" height="3.1" fill="#3c3a40" transform="rotate(34 300.2 327.9)"/>
<rect x="307.2" y="365.8" width="3.5" height="3.9" fill="#d6ece8" transform="rotate(-51 309.0 367.8)"/>
<rect x="271.2" y="357.7" width="6.7" height="3.3" fill="#f4fbfa" transform="rotate(-56 274.5 359.3)"/>
<rect x="281.1" y="355.1" width="6.5" height="2.5" fill="#c22c40" transform="rotate(33 284.3 356.3)"/>
<rect x="243.0" y="361.9" width="6.6" height="2.7" fill="#f4fbfa" transform="rotate(-51 246.3 363.2)"/>
<rect x="255.3" y="354.6" width="3.8" height="4.0" fill="#d43448" transform="rotate(34 257.2 356.6)"/>
<rect x="254.7" y="308.0" width="4.6" height="4.1" fill="#b02a3c" transform="rotate(34 257.0 310.1)"/>
<rect x="246.8" y="365.0" width="4.6" height="2.5" fill="#8a4a56" transform="rotate(-49 249.1 366.3)"/>
<rect x="267.5" y="352.9" width="5.3" height="2.6" fill="#e04458" transform="rotate(-52 270.1 354.2)"/>
<rect x="242.1" y="314.0" width="4.3" height="2.4" fill="#ffffff" transform="rotate(41 244.2 315.2)"/>
<rect x="262.9" y="312.3" width="3.8" height="3.1" fill="#4a4248" transform="rotate(38 264.8 313.8)"/>
<rect x="246.0" y="362.7" width="7.2" height="2.8" fill="#7a3a48" transform="rotate(37 249.7 364.0)"/>
<rect x="263.5" y="370.6" width="3.5" height="3.5" fill="#3c3a40" transform="rotate(40 265.2 372.3)"/>
<rect x="301.4" y="353.6" width="5.6" height="3.5" fill="#b02a3c" transform="rotate(37 304.1 355.3)"/>
<rect x="268.0" y="331.8" width="7.3" height="4.2" fill="#d6ece8" transform="rotate(-56 271.6 333.9)"/>
<rect x="254.8" y="336.2" width="6.8" height="3.7" fill="#c4dedc" transform="rotate(-53 258.2 338.1)"/>
<rect x="273.2" y="307.3" width="6.8" height="3.1" fill="#ffffff" transform="rotate(-53 276.6 308.8)"/>
<rect x="304.5" y="358.7" width="5.9" height="4.2" fill="#7a3a48" transform="rotate(-55 307.5 360.7)"/>
<rect x="289.9" y="354.3" width="7.1" height="2.2" fill="#5c4a52" transform="rotate(39 293.5 355.4)"/>
<rect x="262.8" y="300.8" width="3.8" height="4.2" fill="#3c3a40" transform="rotate(-51 264.7 302.9)"/>
<rect x="299.8" y="356.7" width="5.5" height="2.9" fill="#e6f4f0" transform="rotate(38 302.6 358.2)"/>
<rect x="274.0" y="369.7" width="6.6" height="2.5" fill="#4a4248" transform="rotate(-52 277.3 370.9)"/>
<rect x="279.2" y="325.1" width="5.7" height="2.8" fill="#b02a3c" transform="rotate(34 282.1 326.6)"/>
<rect x="291.3" y="351.2" width="3.5" height="3.0" fill="#8a4a56" transform="rotate(-57 293.0 352.6)"/>
<rect x="298.3" y="303.6" width="7.2" height="2.6" fill="#dff0ee" transform="rotate(-56 301.9 304.9)"/>
<rect x="289.5" y="331.2" width="3.8" height="3.1" fill="#e6f4f0" transform="rotate(39 291.5 332.8)"/>
<rect x="277.1" y="365.9" width="5.4" height="2.7" fill="#e6f4f0" transform="rotate(-56 279.8 367.2)"/>
<rect x="272.1" y="308.3" width="6.9" height="3.0" fill="#e6f4f0" transform="rotate(-57 275.5 309.8)"/>
<rect x="284.7" y="338.7" width="6.0" height="4.1" fill="#7a3a48" transform="rotate(-51 287.7 340.7)"/>
<rect x="256.8" y="374.4" width="6.6" height="3.1" fill="#6a5a60" transform="rotate(-49 260.1 376.0)"/>
<rect x="299.5" y="355.8" width="6.6" height="2.5" fill="#dff0ee" transform="rotate(37 302.8 357.0)"/>
<rect x="246.9" y="325.4" width="4.7" height="3.6" fill="#b02a3c" transform="rotate(-55 249.2 327.3)"/>
<rect x="302.8" y="335.0" width="3.9" height="3.8" fill="#f4fbfa" transform="rotate(-51 304.8 336.9)"/>
<rect x="263.6" y="330.3" width="7.1" height="2.5" fill="#d6ece8" transform="rotate(40 267.2 331.6)"/>
<rect x="297.9" y="328.3" width="7.9" height="3.2" fill="#8a4a56" transform="rotate(36 301.8 329.9)"/>
<rect x="249.9" y="336.0" width="7.1" height="2.6" fill="#3c3a40" transform="rotate(-57 253.4 337.3)"/>
<rect x="274.5" y="364.1" width="6.2" height="3.9" fill="#e6f4f0" transform="rotate(-53 277.6 366.0)"/>
<rect x="272.0" y="361.7" width="5.4" height="2.7" fill="#c22c40" transform="rotate(-53 274.7 363.1)"/>
<rect x="268.9" y="299.4" width="7.2" height="4.1" fill="#3c3a40" transform="rotate(35 272.5 301.5)"/>
<rect x="277.3" y="356.4" width="6.2" height="4.1" fill="#f4fbfa" transform="rotate(37 280.4 358.4)"/>
<rect x="304.2" y="372.3" width="5.2" height="2.6" fill="#c4dedc" transform="rotate(40 306.8 373.6)"/>
<rect x="282.2" y="305.0" width="5.7" height="2.5" fill="#dff0ee" transform="rotate(-53 285.0 306.2)"/>
<rect x="250.2" y="369.3" width="7.4" height="3.2" fill="#8a4a56" transform="rotate(-54 253.9 370.9)"/>
<rect x="267.8" y="327.6" width="4.4" height="2.5" fill="#ffffff" transform="rotate(-54 270.0 328.8)"/>
<rect x="291.9" y="336.9" width="3.8" height="2.7" fill="#dff0ee" transform="rotate(-51 293.8 338.3)"/>
<rect x="264.4" y="357.1" width="5.9" height="2.7" fill="#8a4a56" transform="rotate(40 267.3 358.4)"/>
<rect x="303.7" y="360.5" width="7.1" height="3.4" fill="#3c3a40" transform="rotate(-54 307.3 362.2)"/>
<rect x="279.4" y="301.6" width="6.7" height="2.4" fill="#7a3a48" transform="rotate(36 282.8 302.7)"/>
<rect x="271.1" y="348.7" width="4.2" height="3.5" fill="#e6f4f0" transform="rotate(39 273.2 350.5)"/>
<rect x="275.0" y="361.0" width="6.6" height="3.4" fill="#ffffff" transform="rotate(-53 278.3 362.7)"/>
<rect x="278.0" y="303.4" width="7.3" height="3.2" fill="#7a3a48" transform="rotate(-55 281.6 305.0)"/>
<rect x="268.9" y="353.5" width="6.8" height="2.5" fill="#c22c40" transform="rotate(39 272.3 354.8)"/>
<rect x="254.0" y="367.6" width="4.2" height="3.9" fill="#7a3a48" transform="rotate(39 256.1 369.5)"/>
<rect x="247.4" y="347.5" width="6.1" height="3.4" fill="#dff0ee" transform="rotate(33 250.5 349.2)"/>
<rect x="250.8" y="302.2" width="5.0" height="2.8" fill="#7a3a48" transform="rotate(33 253.4 303.6)"/>
<rect x="266.1" y="352.2" width="3.3" height="3.7" fill="#ffffff" transform="rotate(-49 267.7 354.1)"/>
<rect x="249.5" y="299.7" width="6.8" height="3.6" fill="#dff0ee" transform="rotate(-52 252.9 301.5)"/>
<rect x="267.5" y="360.8" width="3.3" height="3.3" fill="#dff0ee" transform="rotate(33 269.2 362.5)"/>
<rect x="280.5" y="335.8" width="3.8" height="3.6" fill="#c4dedc" transform="rotate(41 282.4 337.6)"/>
<rect x="289.2" y="350.8" width="3.3" height="2.5" fill="#3c3a40" transform="rotate(-56 290.9 352.0)"/>
<rect x="244.6" y="357.3" width="5.6" height="2.6" fill="#f4fbfa" transform="rotate(-50 247.4 358.6)"/>
<rect x="256.8" y="343.2" width="5.1" height="2.4" fill="#b02a3c" transform="rotate(40 259.4 344.4)"/>
<rect x="241.3" y="351.8" width="7.4" height="3.3" fill="#d6ece8" transform="rotate(35 244.9 353.5)"/>
<rect x="302.8" y="313.6" width="5.5" height="3.5" fill="#f4fbfa" transform="rotate(-52 305.6 315.3)"/>
<rect x="304.0" y="373.0" width="6.2" height="2.8" fill="#6a5a60" transform="rotate(38 307.1 374.4)"/>
<rect x="269.4" y="362.4" width="5.2" height="2.5" fill="#8a4a56" transform="rotate(35 272.0 363.6)"/>
<rect x="254.6" y="345.8" width="6.5" height="2.9" fill="#e6f4f0" transform="rotate(33 257.8 347.2)"/>
<rect x="268.1" y="372.7" width="5.9" height="2.9" fill="#f4fbfa" transform="rotate(-53 271.0 374.2)"/>
<rect x="289.6" y="318.3" width="3.9" height="3.8" fill="#8a4a56" transform="rotate(-50 291.6 320.2)"/>
<rect x="302.7" y="338.5" width="5.0" height="2.9" fill="#f4fbfa" transform="rotate(-55 305.2 340.0)"/>
<rect x="272.0" y="363.4" width="5.2" height="2.7" fill="#c4dedc" transform="rotate(35 274.6 364.7)"/>
<rect x="249.0" y="368.4" width="7.0" height="3.3" fill="#e6f4f0" transform="rotate(36 252.5 370.0)"/>
<rect x="303.5" y="302.4" width="5.3" height="2.7" fill="#ffffff" transform="rotate(41 306.2 303.7)"/>
<rect x="274.4" y="331.3" width="6.9" height="2.7" fill="#d6ece8" transform="rotate(37 277.9 332.7)"/>
<rect x="294.4" y="334.4" width="4.1" height="2.8" fill="#4a4248" transform="rotate(-50 296.5 335.8)"/>
<rect x="253.1" y="340.9" width="6.0" height="3.3" fill="#c4dedc" transform="rotate(-55 256.1 342.6)"/>
<rect x="285.0" y="364.8" width="6.4" height="3.5" fill="#d6ece8" transform="rotate(-52 288.2 366.5)"/>
<rect x="297.5" y="348.1" width="3.0" height="3.2" fill="#f4fbfa" transform="rotate(-57 299.0 349.7)"/>
<rect x="256.8" y="344.8" width="7.2" height="4.1" fill="#3c3a40" transform="rotate(39 260.4 346.8)"/>
<rect x="268.0" y="345.7" width="4.5" height="2.3" fill="#e6f4f0" transform="rotate(-55 270.3 346.8)"/>
<rect x="298.1" y="372.7" width="4.0" height="2.5" fill="#b02a3c" transform="rotate(34 300.1 373.9)"/>
<rect x="270.0" y="301.4" width="3.0" height="2.5" fill="#6a5a60" transform="rotate(33 271.5 302.6)"/>
<rect x="252.7" y="303.7" width="7.2" height="3.5" fill="#5c4a52" transform="rotate(-50 256.3 305.5)"/>
<rect x="252.5" y="326.0" width="7.0" height="3.6" fill="#b02a3c" transform="rotate(35 256.0 327.8)"/>
<rect x="244.5" y="346.4" width="4.0" height="4.0" fill="#dff0ee" transform="rotate(-50 246.5 348.4)"/>
<rect x="267.3" y="353.2" width="3.1" height="3.6" fill="#ffffff" transform="rotate(-51 268.8 355.0)"/>
<rect x="241.6" y="355.8" width="6.8" height="3.8" fill="#c4dedc" transform="rotate(-50 245.0 357.7)"/>
<rect x="282.5" y="356.5" width="6.2" height="2.5" fill="#7a3a48" transform="rotate(39 285.6 357.8)"/>
<rect x="269.2" y="351.5" width="4.7" height="2.8" fill="#6a5a60" transform="rotate(35 271.5 352.9)"/>
<rect x="292.5" y="332.0" width="7.7" height="3.3" fill="#4a4248" transform="rotate(36 296.3 333.7)"/>
<rect x="263.2" y="374.0" width="5.1" height="3.4" fill="#c4dedc" transform="rotate(-54 265.7 375.7)"/>
<rect x="253.4" y="348.6" width="5.8" height="2.3" fill="#6a5a60" transform="rotate(40 256.4 349.8)"/>
<rect x="290.0" y="326.0" width="3.4" height="3.7" fill="#ffffff" transform="rotate(41 291.7 327.8)"/>
<rect x="282.0" y="373.7" width="4.2" height="2.6" fill="#c22c40" transform="rotate(34 284.1 375.0)"/>
<rect x="256.9" y="336.3" width="7.1" height="3.7" fill="#3c3a40" transform="rotate(-52 260.4 338.2)"/>
<rect x="281.6" y="373.1" width="7.5" height="3.2" fill="#c22c40" transform="rotate(-50 285.4 374.7)"/>
<rect x="297.8" y="363.2" width="5.4" height="2.3" fill="#5c4a52" transform="rotate(34 300.5 364.4)"/>
<rect x="250.7" y="322.9" width="3.3" height="2.8" fill="#f4fbfa" transform="rotate(40 252.3 324.3)"/>
<rect x="241.4" y="354.3" width="5.7" height="2.3" fill="#e6f4f0" transform="rotate(34 244.3 355.4)"/>
<rect x="283.1" y="334.2" width="7.4" height="2.8" fill="#c22c40" transform="rotate(37 286.8 335.6)"/>
<rect x="289.1" y="303.0" width="4.2" height="3.0" fill="#ffffff" transform="rotate(41 291.2 304.5)"/>
<rect x="273.7" y="348.1" width="3.3" height="2.8" fill="#b02a3c" transform="rotate(41 275.3 349.5)"/>
<rect x="243.2" y="329.4" width="4.2" height="2.3" fill="#b02a3c" transform="rotate(41 245.3 330.6)"/>
<rect x="247.9" y="346.8" width="3.2" height="2.8" fill="#f4fbfa" transform="rotate(33 249.5 348.2)"/>
<rect x="248.4" y="359.1" width="5.4" height="3.1" fill="#f4fbfa" transform="rotate(-54 251.2 360.6)"/>
<rect x="263.2" y="354.7" width="3.5" height="3.4" fill="#ffffff" transform="rotate(-55 265.0 356.5)"/>
<rect x="247.9" y="358.2" width="6.0" height="3.6" fill="#dff0ee" transform="rotate(-50 250.9 360.0)"/>
<rect x="275.5" y="336.3" width="6.5" height="3.6" fill="#e6f4f0" transform="rotate(33 278.8 338.1)"/>
<rect x="269.7" y="361.9" width="6.8" height="2.9" fill="#c4dedc" transform="rotate(40 273.1 363.3)"/>
<rect x="270.6" y="312.3" width="6.7" height="3.3" fill="#c4dedc" transform="rotate(38 274.0 313.9)"/>
<rect x="262.5" y="324.1" width="3.1" height="3.8" fill="#e04458" transform="rotate(38 264.1 326.0)"/>
<rect x="281.2" y="319.5" width="4.6" height="3.1" fill="#d6ece8" transform="rotate(-57 283.5 321.1)"/>
<rect x="277.4" y="354.3" width="4.0" height="3.6" fill="#8a4a56" transform="rotate(-50 279.4 356.1)"/>
<rect x="273.8" y="311.4" width="4.2" height="2.8" fill="#4a4248" transform="rotate(-54 275.9 312.8)"/>
<rect x="264.4" y="363.9" width="6.0" height="3.2" fill="#ffffff" transform="rotate(-51 267.4 365.5)"/>
<rect x="245.5" y="338.7" width="6.4" height="4.0" fill="#d6ece8" transform="rotate(39 248.6 340.8)"/>
<rect x="261.6" y="342.2" width="4.0" height="4.0" fill="#ffffff" transform="rotate(-53 263.5 344.3)"/>
<rect x="273.6" y="352.5" width="5.4" height="3.4" fill="#c22c40" transform="rotate(35 276.2 354.2)"/>
<rect x="307.1" y="343.7" width="3.1" height="2.6" fill="#ffffff" transform="rotate(-50 308.7 345.0)"/>
<rect x="244.1" y="359.6" width="7.9" height="3.7" fill="#c4dedc" transform="rotate(38 248.0 361.4)"/>
<rect x="286.1" y="358.8" width="6.6" height="3.8" fill="#e04458" transform="rotate(-51 289.4 360.7)"/>
<rect x="288.3" y="309.7" width="3.8" height="2.8" fill="#e6f4f0" transform="rotate(-56 290.2 311.1)"/>
<rect x="253.4" y="319.3" width="5.7" height="3.6" fill="#f4fbfa" transform="rotate(-56 256.3 321.1)"/>
<rect x="297.2" y="343.1" width="7.6" height="3.6" fill="#3c3a40" transform="rotate(40 301.0 344.9)"/>
<rect x="242.4" y="309.8" width="5.4" height="2.7" fill="#c4dedc" transform="rotate(-54 245.1 311.1)"/>
<rect x="298.8" y="370.6" width="6.7" height="2.9" fill="#e6f4f0" transform="rotate(-55 302.1 372.1)"/>
<rect x="298.5" y="299.2" width="5.3" height="2.4" fill="#ffffff" transform="rotate(-52 301.2 300.4)"/>
<rect x="257.6" y="317.9" width="7.4" height="3.9" fill="#ffffff" transform="rotate(-52 261.3 319.8)"/>
<rect x="266.3" y="354.5" width="5.9" height="2.3" fill="#c22c40" transform="rotate(-54 269.3 355.7)"/>
<rect x="250.6" y="335.5" width="5.7" height="2.3" fill="#c4dedc" transform="rotate(34 253.4 336.7)"/>
<rect x="295.4" y="326.6" width="4.0" height="2.8" fill="#7a3a48" transform="rotate(35 297.5 328.0)"/>
<rect x="244.1" y="343.7" width="3.1" height="3.2" fill="#f4fbfa" transform="rotate(-54 245.7 345.3)"/>
<rect x="277.7" y="309.8" width="4.0" height="3.4" fill="#5c4a52" transform="rotate(38 279.7 311.5)"/>
<rect x="293.6" y="299.5" width="3.3" height="2.6" fill="#e04458" transform="rotate(38 295.3 300.8)"/>
</g>
<clipPath id="cp4"><polygon points="283.0,258.0 320.0,258.0 325.0,300.0 300.0,310.0 283.0,300.0"/></clipPath>
<g clip-path="url(#cp4)">
<polygon points="283.0,258.0 320.0,258.0 325.0,300.0 300.0,310.0 283.0,300.0" fill="#d0a0a8" />
<rect x="281.6" y="306.4" width="4.4" height="2.9" fill="#f4fbfa" transform="rotate(39 283.8 307.8)"/>
<rect x="296.7" y="298.4" width="3.7" height="3.2" fill="#d43448" transform="rotate(36 298.5 300.0)"/>
<rect x="317.2" y="279.1" width="3.3" height="2.7" fill="#3c3a40" transform="rotate(-56 318.8 280.5)"/>
<rect x="294.0" y="259.0" width="3.4" height="2.8" fill="#dff0ee" transform="rotate(34 295.7 260.4)"/>
<rect x="308.9" y="260.6" width="6.4" height="2.6" fill="#d6ece8" transform="rotate(-57 312.1 261.9)"/>
<rect x="289.5" y="276.6" width="6.4" height="3.7" fill="#3c3a40" transform="rotate(-56 292.7 278.5)"/>
<rect x="300.5" y="260.7" width="3.5" height="3.5" fill="#c22c40" transform="rotate(-49 302.2 262.4)"/>
<rect x="292.5" y="284.8" width="5.5" height="2.6" fill="#dff0ee" transform="rotate(-55 295.2 286.1)"/>
<rect x="317.4" y="304.0" width="7.7" height="2.6" fill="#4a4248" transform="rotate(-56 321.3 305.3)"/>
<rect x="309.8" y="259.2" width="5.3" height="2.9" fill="#e6f4f0" transform="rotate(39 312.5 260.6)"/>
<rect x="320.7" y="271.6" width="5.0" height="3.7" fill="#c22c40" transform="rotate(-54 323.2 273.4)"/>
<rect x="282.8" y="298.6" width="6.1" height="3.7" fill="#c4dedc" transform="rotate(-56 285.8 300.5)"/>
<rect x="312.6" y="300.6" width="7.8" height="2.3" fill="#6a5a60" transform="rotate(-54 316.5 301.7)"/>
<rect x="306.9" y="286.9" width="4.3" height="4.0" fill="#e04458" transform="rotate(-53 309.0 288.9)"/>
<rect x="305.7" y="297.0" width="4.1" height="2.3" fill="#dff0ee" transform="rotate(-51 307.7 298.1)"/>
<rect x="312.9" y="266.7" width="7.4" height="3.5" fill="#ffffff" transform="rotate(36 316.6 268.4)"/>
<rect x="299.1" y="285.6" width="4.1" height="2.7" fill="#4a4248" transform="rotate(-55 301.2 286.9)"/>
<rect x="310.6" y="287.4" width="4.2" height="2.9" fill="#7a3a48" transform="rotate(-55 312.7 288.8)"/>
<rect x="304.0" y="270.9" width="3.6" height="3.6" fill="#d43448" transform="rotate(-51 305.8 272.7)"/>
<rect x="296.9" y="302.7" width="5.1" height="3.3" fill="#d43448" transform="rotate(-56 299.4 304.4)"/>
<rect x="303.2" y="294.8" width="3.3" height="2.7" fill="#e6f4f0" transform="rotate(-50 304.9 296.1)"/>
<rect x="281.2" y="292.8" width="6.2" height="3.1" fill="#ffffff" transform="rotate(-52 284.4 294.3)"/>
<rect x="289.6" y="277.2" width="4.6" height="3.0" fill="#f4fbfa" transform="rotate(-56 291.9 278.8)"/>
<rect x="321.9" y="278.2" width="4.7" height="3.9" fill="#e04458" transform="rotate(-54 324.2 280.1)"/>
<rect x="296.6" y="293.5" width="4.3" height="2.4" fill="#6a5a60" transform="rotate(-49 298.7 294.7)"/>
<rect x="297.2" y="269.7" width="7.9" height="3.1" fill="#e6f4f0" transform="rotate(38 301.2 271.3)"/>
<rect x="302.8" y="308.7" width="4.7" height="2.3" fill="#d43448" transform="rotate(-56 305.1 309.9)"/>
<rect x="297.1" y="307.1" width="5.6" height="3.0" fill="#ffffff" transform="rotate(33 299.9 308.6)"/>
<rect x="284.0" y="273.3" width="4.7" height="3.0" fill="#f4fbfa" transform="rotate(39 286.3 274.8)"/>
<rect x="287.1" y="275.7" width="3.5" height="2.8" fill="#c4dedc" transform="rotate(-51 288.9 277.1)"/>
<rect x="285.8" y="290.0" width="4.8" height="2.9" fill="#d43448" transform="rotate(33 288.2 291.5)"/>
<rect x="301.7" y="257.9" width="5.7" height="2.5" fill="#d6ece8" transform="rotate(37 304.5 259.2)"/>
<rect x="292.5" y="303.6" width="3.0" height="2.8" fill="#8a4a56" transform="rotate(-54 294.0 305.0)"/>
<rect x="317.4" y="273.5" width="3.6" height="3.1" fill="#5c4a52" transform="rotate(37 319.2 275.0)"/>
<rect x="305.2" y="267.5" width="3.9" height="3.2" fill="#b02a3c" transform="rotate(-52 307.1 269.1)"/>
<rect x="287.3" y="256.7" width="3.3" height="3.8" fill="#f4fbfa" transform="rotate(-54 288.9 258.6)"/>
<rect x="313.4" y="263.4" width="5.3" height="3.7" fill="#f4fbfa" transform="rotate(-51 316.1 265.2)"/>
<rect x="306.7" y="263.1" width="7.4" height="2.5" fill="#f4fbfa" transform="rotate(34 310.4 264.3)"/>
<rect x="297.1" y="302.7" width="7.3" height="2.8" fill="#c22c40" transform="rotate(-53 300.7 304.1)"/>
<rect x="296.1" y="296.8" width="5.0" height="3.3" fill="#f4fbfa" transform="rotate(-53 298.6 298.5)"/>
<rect x="314.5" y="281.3" width="5.2" height="3.1" fill="#8a4a56" transform="rotate(-56 317.1 282.8)"/>
<rect x="301.4" y="286.7" width="6.4" height="2.3" fill="#d6ece8" transform="rotate(-54 304.6 287.9)"/>
<rect x="285.2" y="299.9" width="6.1" height="3.8" fill="#d43448" transform="rotate(36 288.2 301.8)"/>
<rect x="282.8" y="262.0" width="7.0" height="2.2" fill="#d43448" transform="rotate(-57 286.3 263.1)"/>
<rect x="296.1" y="307.3" width="4.3" height="2.8" fill="#c4dedc" transform="rotate(-49 298.3 308.7)"/>
<rect x="281.0" y="270.8" width="6.1" height="3.3" fill="#ffffff" transform="rotate(-57 284.1 272.4)"/>
<rect x="314.1" y="260.4" width="6.5" height="2.6" fill="#f4fbfa" transform="rotate(-49 317.4 261.7)"/>
<rect x="283.2" y="259.1" width="5.7" height="3.0" fill="#f4fbfa" transform="rotate(-53 286.1 260.6)"/>
<rect x="312.9" y="279.7" width="3.1" height="3.0" fill="#d6ece8" transform="rotate(-54 314.5 281.2)"/>
<rect x="286.1" y="259.5" width="3.6" height="3.9" fill="#b02a3c" transform="rotate(37 288.0 261.4)"/>
<rect x="310.5" y="299.6" width="5.3" height="3.0" fill="#dff0ee" transform="rotate(-50 313.2 301.1)"/>
<rect x="285.2" y="291.2" width="6.4" height="2.3" fill="#c22c40" transform="rotate(41 288.4 292.3)"/>
<rect x="296.4" y="256.9" width="7.7" height="3.4" fill="#e04458" transform="rotate(-53 300.2 258.6)"/>
<rect x="309.4" y="283.4" width="7.2" height="3.6" fill="#b02a3c" transform="rotate(40 313.0 285.2)"/>
<rect x="293.6" y="266.0" width="4.2" height="2.7" fill="#dff0ee" transform="rotate(34 295.8 267.4)"/>
<rect x="301.2" y="305.1" width="7.3" height="2.5" fill="#4a4248" transform="rotate(-54 304.9 306.4)"/>
<rect x="319.9" y="257.6" width="6.4" height="4.0" fill="#ffffff" transform="rotate(-56 323.1 259.6)"/>
<rect x="289.3" y="305.7" width="7.3" height="2.6" fill="#e04458" transform="rotate(-55 293.0 307.0)"/>
<rect x="316.4" y="262.3" width="6.2" height="3.0" fill="#c22c40" transform="rotate(33 319.5 263.8)"/>
<rect x="315.5" y="297.9" width="3.0" height="2.7" fill="#dff0ee" transform="rotate(38 317.0 299.2)"/>
<rect x="288.7" y="291.9" width="3.1" height="4.0" fill="#ffffff" transform="rotate(-53 290.2 293.9)"/>
<rect x="301.6" y="258.2" width="7.9" height="3.4" fill="#e6f4f0" transform="rotate(34 305.5 259.9)"/>
<rect x="296.6" y="266.8" width="7.9" height="3.1" fill="#c22c40" transform="rotate(-50 300.6 268.4)"/>
<rect x="293.7" y="263.0" width="3.4" height="4.0" fill="#dff0ee" transform="rotate(-56 295.4 265.0)"/>
<rect x="305.1" y="302.0" width="4.0" height="2.4" fill="#d6ece8" transform="rotate(34 307.2 303.1)"/>
<rect x="299.8" y="284.7" width="7.2" height="2.5" fill="#6a5a60" transform="rotate(39 303.4 285.9)"/>
<rect x="295.2" y="276.2" width="3.2" height="2.2" fill="#b02a3c" transform="rotate(-57 296.8 277.4)"/>
<rect x="291.9" y="306.4" width="6.6" height="2.8" fill="#c4dedc" transform="rotate(-51 295.2 307.8)"/>
<rect x="310.3" y="272.6" width="5.3" height="4.2" fill="#c22c40" transform="rotate(-56 312.9 274.7)"/>
<rect x="306.0" y="285.1" width="5.7" height="2.4" fill="#7a3a48" transform="rotate(35 308.9 286.3)"/>
<rect x="301.2" y="284.6" width="4.0" height="3.1" fill="#c4dedc" transform="rotate(-51 303.2 286.1)"/>
<rect x="285.2" y="304.2" width="6.5" height="3.1" fill="#8a4a56" transform="rotate(35 288.4 305.8)"/>
<rect x="317.7" y="278.2" width="4.9" height="3.4" fill="#4a4248" transform="rotate(-52 320.2 279.9)"/>
<rect x="292.0" y="267.0" width="6.0" height="4.1" fill="#c4dedc" transform="rotate(35 295.0 269.1)"/>
<rect x="304.9" y="258.5" width="5.5" height="3.8" fill="#e6f4f0" transform="rotate(36 307.7 260.4)"/>
<rect x="298.0" y="272.8" width="7.7" height="2.7" fill="#e6f4f0" transform="rotate(36 301.8 274.2)"/>
<rect x="310.9" y="278.7" width="3.9" height="2.3" fill="#ffffff" transform="rotate(38 312.9 279.9)"/>
<rect x="312.6" y="276.9" width="4.8" height="4.0" fill="#3c3a40" transform="rotate(-55 315.0 278.9)"/>
<rect x="284.8" y="300.2" width="7.1" height="2.6" fill="#8a4a56" transform="rotate(40 288.4 301.5)"/>
<rect x="282.9" y="264.6" width="4.4" height="2.3" fill="#e04458" transform="rotate(-54 285.1 265.7)"/>
</g>
<clipPath id="cp5"><polygon points="240.0,385.0 256.0,385.0 258.0,456.0 240.0,456.0"/></clipPath>
<g clip-path="url(#cp5)">
<polygon points="240.0,385.0 256.0,385.0 258.0,456.0 240.0,456.0" fill="#d4e6e4" />
<rect x="242.1" y="426.6" width="5.3" height="2.4" fill="#dff0ee" transform="rotate(-81 244.8 427.8)"/>
<rect x="253.1" y="389.6" width="3.4" height="4.0" fill="#e6f4f0" transform="rotate(-82 254.8 391.6)"/>
<rect x="253.8" y="400.9" width="7.9" height="3.3" fill="#d6ece8" transform="rotate(10 257.8 402.6)"/>
<rect x="242.6" y="448.5" width="7.2" height="3.7" fill="#e04458" transform="rotate(9 246.2 450.3)"/>
<rect x="243.8" y="430.8" width="4.5" height="2.3" fill="#7a3a48" transform="rotate(14 246.0 431.9)"/>
<rect x="253.2" y="451.5" width="6.9" height="2.3" fill="#d6ece8" transform="rotate(-80 256.6 452.7)"/>
<rect x="239.4" y="400.4" width="3.7" height="3.7" fill="#d6ece8" transform="rotate(11 241.3 402.3)"/>
<rect x="252.5" y="410.4" width="5.2" height="3.0" fill="#d6ece8" transform="rotate(13 255.0 411.9)"/>
<rect x="243.4" y="402.7" width="5.1" height="4.1" fill="#d6ece8" transform="rotate(8 246.0 404.8)"/>
<rect x="244.3" y="416.9" width="6.2" height="2.9" fill="#dff0ee" transform="rotate(-78 247.4 418.3)"/>
<rect x="249.7" y="389.7" width="6.7" height="3.8" fill="#e6f4f0" transform="rotate(-83 253.1 391.6)"/>
<rect x="243.7" y="416.1" width="4.3" height="2.4" fill="#b02a3c" transform="rotate(6 245.9 417.3)"/>
<rect x="252.1" y="413.3" width="4.4" height="2.7" fill="#ffffff" transform="rotate(12 254.3 414.6)"/>
<rect x="244.8" y="433.9" width="5.9" height="3.8" fill="#c4dedc" transform="rotate(9 247.7 435.8)"/>
<rect x="255.3" y="421.4" width="3.0" height="3.4" fill="#e6f4f0" transform="rotate(13 256.8 423.1)"/>
<rect x="251.5" y="417.3" width="6.8" height="3.9" fill="#ffffff" transform="rotate(11 254.9 419.3)"/>
<rect x="245.3" y="418.3" width="4.7" height="3.9" fill="#dff0ee" transform="rotate(13 247.7 420.2)"/>
<rect x="249.9" y="446.2" width="5.3" height="3.6" fill="#c4dedc" transform="rotate(-77 252.5 448.0)"/>
<rect x="241.4" y="394.7" width="7.3" height="3.3" fill="#ffffff" transform="rotate(-81 245.0 396.3)"/>
<rect x="241.8" y="421.0" width="7.0" height="3.6" fill="#7a3a48" transform="rotate(7 245.2 422.8)"/>
<rect x="247.1" y="424.3" width="5.0" height="2.5" fill="#dff0ee" transform="rotate(9 249.6 425.6)"/>
<rect x="243.8" y="394.8" width="7.7" height="3.2" fill="#7a3a48" transform="rotate(11 247.7 396.4)"/>
<rect x="253.5" y="396.1" width="3.5" height="3.3" fill="#dff0ee" transform="rotate(-78 255.3 397.8)"/>
<rect x="252.6" y="384.6" width="7.3" height="3.9" fill="#c4dedc" transform="rotate(-82 256.2 386.5)"/>
<rect x="243.8" y="423.8" width="4.4" height="4.1" fill="#d6ece8" transform="rotate(-79 246.0 425.9)"/>
<rect x="245.9" y="395.3" width="5.8" height="3.9" fill="#5c4a52" transform="rotate(-80 248.8 397.3)"/>
<rect x="245.4" y="434.5" width="3.8" height="3.1" fill="#c22c40" transform="rotate(-81 247.3 436.1)"/>
<rect x="251.0" y="422.2" width="6.3" height="2.7" fill="#dff0ee" transform="rotate(-76 254.1 423.5)"/>
<rect x="241.3" y="412.2" width="6.9" height="2.7" fill="#f4fbfa" transform="rotate(8 244.7 413.6)"/>
<rect x="242.4" y="387.3" width="5.2" height="2.4" fill="#d6ece8" transform="rotate(-82 245.0 388.5)"/>
<rect x="247.9" y="412.6" width="4.7" height="2.2" fill="#f4fbfa" transform="rotate(12 250.3 413.7)"/>
<rect x="238.5" y="438.6" width="4.2" height="2.9" fill="#e6f4f0" transform="rotate(-77 240.6 440.1)"/>
<rect x="239.8" y="434.9" width="4.4" height="2.4" fill="#f4fbfa" transform="rotate(-80 242.1 436.1)"/>
<rect x="241.2" y="414.5" width="3.7" height="4.2" fill="#b02a3c" transform="rotate(11 243.0 416.6)"/>
<rect x="248.5" y="392.7" width="7.2" height="2.9" fill="#6a5a60" transform="rotate(9 252.1 394.2)"/>
<rect x="249.6" y="405.1" width="7.1" height="4.1" fill="#e6f4f0" transform="rotate(-81 253.1 407.1)"/>
<rect x="255.6" y="453.3" width="3.5" height="3.0" fill="#f4fbfa" transform="rotate(-82 257.4 454.8)"/>
<rect x="236.5" y="387.2" width="7.2" height="3.9" fill="#f4fbfa" transform="rotate(10 240.1 389.2)"/>
<rect x="252.8" y="445.1" width="3.0" height="4.1" fill="#8a4a56" transform="rotate(-83 254.3 447.1)"/>
<rect x="251.8" y="413.8" width="3.7" height="3.9" fill="#c4dedc" transform="rotate(-78 253.6 415.7)"/>
<rect x="236.7" y="424.2" width="7.0" height="2.9" fill="#d6ece8" transform="rotate(-79 240.2 425.6)"/>
<rect x="248.9" y="429.3" width="3.8" height="2.7" fill="#ffffff" transform="rotate(11 250.8 430.7)"/>
<rect x="255.5" y="421.8" width="3.7" height="2.2" fill="#6a5a60" transform="rotate(10 257.3 422.9)"/>
<rect x="253.3" y="388.8" width="3.4" height="2.4" fill="#ffffff" transform="rotate(14 255.0 390.0)"/>
<rect x="243.1" y="453.8" width="3.8" height="3.8" fill="#d6ece8" transform="rotate(12 245.0 455.7)"/>
<rect x="245.1" y="454.3" width="5.8" height="2.9" fill="#ffffff" transform="rotate(-80 248.0 455.8)"/>
<rect x="242.8" y="450.0" width="6.6" height="3.4" fill="#ffffff" transform="rotate(-78 246.1 451.7)"/>
<rect x="253.9" y="436.9" width="3.3" height="4.2" fill="#4a4248" transform="rotate(-81 255.6 439.0)"/>
<rect x="247.2" y="410.8" width="7.2" height="2.3" fill="#e6f4f0" transform="rotate(-83 250.8 411.9)"/>
<rect x="245.4" y="431.1" width="7.0" height="3.0" fill="#ffffff" transform="rotate(8 248.9 432.6)"/>
</g>
<clipPath id="cp6"><polygon points="162.8,353.5 178.0,352.0 178.0,384.3 164.2,384.3"/></clipPath>
<g clip-path="url(#cp6)">
<polygon points="162.8,353.5 178.0,352.0 178.0,384.3 164.2,384.3" fill="#cfe4e0" />
<rect x="168.5" y="378.0" width="6.2" height="3.8" fill="#f4fbfa" transform="rotate(37 171.6 379.9)"/>
<rect x="174.9" y="359.1" width="4.1" height="2.8" fill="#dff0ee" transform="rotate(-56 176.9 360.5)"/>
<rect x="172.5" y="358.0" width="6.8" height="2.5" fill="#ffffff" transform="rotate(37 175.9 359.2)"/>
<rect x="172.6" y="351.2" width="6.5" height="3.9" fill="#f4fbfa" transform="rotate(-55 175.9 353.2)"/>
<rect x="163.6" y="374.1" width="4.1" height="2.6" fill="#d6ece8" transform="rotate(39 165.6 375.4)"/>
<rect x="166.5" y="375.5" width="7.7" height="4.2" fill="#f4fbfa" transform="rotate(-55 170.4 377.6)"/>
<rect x="175.2" y="365.4" width="5.6" height="3.9" fill="#e04458" transform="rotate(-52 178.0 367.3)"/>
<rect x="169.4" y="364.2" width="6.6" height="2.6" fill="#8a4a56" transform="rotate(41 172.8 365.5)"/>
<rect x="159.9" y="372.9" width="7.3" height="2.6" fill="#f4fbfa" transform="rotate(40 163.6 374.1)"/>
<rect x="167.8" y="377.1" width="4.3" height="3.4" fill="#d6ece8" transform="rotate(-52 169.9 378.8)"/>
<rect x="169.2" y="370.2" width="4.6" height="3.7" fill="#dff0ee" transform="rotate(34 171.5 372.1)"/>
<rect x="172.1" y="366.3" width="6.5" height="2.7" fill="#dff0ee" transform="rotate(36 175.4 367.6)"/>
<rect x="171.1" y="362.7" width="7.4" height="2.6" fill="#d6ece8" transform="rotate(-52 174.8 364.0)"/>
<rect x="175.3" y="365.6" width="3.5" height="2.2" fill="#c4dedc" transform="rotate(41 177.0 366.7)"/>
<rect x="163.7" y="357.3" width="5.9" height="2.2" fill="#4a4248" transform="rotate(-51 166.6 358.5)"/>
<rect x="173.4" y="360.3" width="5.5" height="4.1" fill="#dff0ee" transform="rotate(-51 176.2 362.3)"/>
<rect x="170.9" y="360.3" width="5.9" height="3.8" fill="#3c3a40" transform="rotate(35 173.9 362.3)"/>
<rect x="172.5" y="380.7" width="7.0" height="2.5" fill="#b02a3c" transform="rotate(-51 176.0 381.9)"/>
<rect x="172.1" y="363.1" width="5.4" height="3.1" fill="#4a4248" transform="rotate(36 174.8 364.6)"/>
<rect x="163.8" y="360.1" width="7.5" height="2.3" fill="#e6f4f0" transform="rotate(-54 167.5 361.2)"/>
<rect x="163.7" y="363.6" width="6.0" height="3.2" fill="#d6ece8" transform="rotate(-54 166.7 365.2)"/>
<rect x="171.5" y="372.4" width="3.9" height="3.5" fill="#8a4a56" transform="rotate(-55 173.4 374.1)"/>
<rect x="162.0" y="369.3" width="3.8" height="2.2" fill="#dff0ee" transform="rotate(36 163.9 370.4)"/>
<rect x="171.4" y="378.3" width="6.1" height="2.3" fill="#e04458" transform="rotate(37 174.5 379.5)"/>
<rect x="169.4" y="356.9" width="4.1" height="2.2" fill="#e6f4f0" transform="rotate(-55 171.5 358.0)"/>
<rect x="161.0" y="377.6" width="4.1" height="3.2" fill="#e6f4f0" transform="rotate(37 163.0 379.2)"/>
<rect x="171.9" y="357.9" width="6.2" height="3.6" fill="#d6ece8" transform="rotate(-53 175.0 359.7)"/>
<rect x="169.6" y="364.3" width="6.7" height="3.7" fill="#c4dedc" transform="rotate(34 172.9 366.1)"/>
</g>
<clipPath id="cp50"><polygon points="270.8,402.0 284.0,403.0 338.9,437.1 323.5,454.7 312.5,454.7 268.6,424.0"/></clipPath>
<g clip-path="url(#cp50)">
<polygon points="270.8,402.0 284.0,403.0 338.9,437.1 323.5,454.7 312.5,454.7 268.6,424.0" fill="#d8e8e6" />
<rect x="263.5" y="400.5" width="6.4" height="26" fill="#e8f4f2" transform="rotate(32 266.7 413.5)"/>
<rect x="268.8" y="403.8" width="6.4" height="26" fill="#c6dcdc" transform="rotate(32 272.0 416.8)"/>
<rect x="275.4" y="411.6" width="3.6" height="17" fill="#4a4046" transform="rotate(32 277.2 420.1)"/>
<rect x="279.3" y="410.3" width="6.4" height="26" fill="#e8f4f2" transform="rotate(32 282.5 423.3)"/>
<rect x="284.5" y="413.6" width="6.4" height="26" fill="#c6dcdc" transform="rotate(32 287.7 426.6)"/>
<rect x="291.2" y="421.4" width="3.6" height="17" fill="#4a4046" transform="rotate(32 293.0 429.9)"/>
<rect x="295.0" y="420.2" width="6.4" height="26" fill="#e8f4f2" transform="rotate(32 298.2 433.2)"/>
<rect x="300.3" y="423.5" width="6.4" height="26" fill="#c6dcdc" transform="rotate(32 303.5 436.5)"/>
<rect x="307.0" y="431.3" width="3.6" height="17" fill="#4a4046" transform="rotate(32 308.8 439.8)"/>
<rect x="310.8" y="430.0" width="6.4" height="26" fill="#e8f4f2" transform="rotate(32 314.0 443.0)"/>
<rect x="316.1" y="433.3" width="6.4" height="26" fill="#c6dcdc" transform="rotate(32 319.3 446.3)"/>
<rect x="322.7" y="441.1" width="3.6" height="17" fill="#4a4046" transform="rotate(32 324.5 449.6)"/>
</g>
<clipPath id="cp60"><polygon points="122.5,48.5 157.0,48.5 159.0,60.0 166.4,62.0 166.8,86.0 146.0,87.0 145.0,90.0 131.0,90.0 125.4,86.8 110.7,84.5 112.5,75.0 121.5,68.5"/></clipPath>
<g clip-path="url(#cp60)">
<polygon points="122.5,48.5 157.0,48.5 159.0,60.0 166.4,62.0 166.8,86.0 146.0,87.0 145.0,90.0 131.0,90.0 125.4,86.8 110.7,84.5 112.5,75.0 121.5,68.5" fill="#cde2de" />
<rect x="124.4" y="52.5" width="32.2" height="6.8" fill="#e6f4f2" transform="rotate(-3 140.5 55.9)"/>
<rect x="127.5" y="54" width="11.5" height="3.2" fill="#93a0a2" transform="rotate(-3 133.2 55.6)"/>
<rect x="142" y="53.5" width="12.0" height="3.0" fill="#c8dcda" transform="rotate(-3 148.0 55.0)"/>
<rect x="126" y="59.5" width="31.0" height="2.8" fill="#5c5a62" transform="rotate(-3 141.5 60.9)"/>
<rect x="138" y="59.5" width="9.0" height="2.8" fill="#b8cccc" transform="rotate(-3 142.5 60.9)"/>
<rect x="127.3" y="62.4" width="37.2" height="6.6" fill="#dcf0ee" transform="rotate(-3 145.9 65.7)"/>
<rect x="131" y="64" width="11.0" height="3.5" fill="#a8b8b8" transform="rotate(-3 136.5 65.8)"/>
<rect x="150" y="63.5" width="11.0" height="3.5" fill="#f4fbfa" transform="rotate(-3 155.5 65.2)"/>
<rect x="127" y="69.2" width="34.0" height="3.4" fill="#6c6a72" transform="rotate(-3 144.0 70.9)"/>
<rect x="140" y="69.2" width="10.0" height="3.4" fill="#c4d8d6" transform="rotate(-3 145.0 70.9)"/>
<rect x="156" y="66" width="10.0" height="7.0" fill="#e8f4f2" transform="rotate(-3 161.0 69.5)"/>
<rect x="128" y="73" width="38.4" height="11.7" fill="#d2e8e4" transform="rotate(-3 147.2 78.8)"/>
<rect x="125.6" y="75.9" width="15.4" height="6.8" fill="#3c3a46" transform="rotate(-3 133.3 79.3)"/>
<rect x="131" y="77" width="4.0" height="4.0" fill="#8a9898" transform="rotate(-3 133.0 79.0)"/>
<rect x="145" y="74" width="13.0" height="4.0" fill="#eef8f6" transform="rotate(-3 151.5 76.0)"/>
<rect x="147" y="79.5" width="17.0" height="4.5" fill="#bcd0ce" transform="rotate(-3 155.5 81.8)"/>
<rect x="160" y="74" width="6.0" height="5.0" fill="#7a7880" transform="rotate(-3 163.0 76.5)"/>
<rect x="110.7" y="74" width="14.7" height="12.6" fill="#eaf4f2" transform="rotate(-20 118.1 80.3)"/>
<rect x="113" y="70" width="8.0" height="5.0" fill="#54525a" transform="rotate(-35 117.0 72.5)"/>
<rect x="131" y="84.5" width="14.0" height="5.0" fill="#f0e4e6" transform="rotate(-3 138.0 87.0)"/>
<rect x="133" y="85.5" width="5.0" height="3.0" fill="#d8a8a0" transform="rotate(-3 135.5 87.0)"/>
<circle cx="120.4" cy="60.8" r="0.8" fill="#5a5860"/>
<circle cx="152.8" cy="58.8" r="1.0" fill="#8a9494"/>
<circle cx="162.1" cy="66.0" r="0.8" fill="#8a9494"/>
<circle cx="157.5" cy="64.8" r="1.0" fill="#ffffff"/>
<circle cx="126.6" cy="50.5" r="0.9" fill="#5a5860"/>
<circle cx="123.6" cy="56.3" r="0.8" fill="#a03448"/>
<circle cx="150.5" cy="63.2" r="1.0" fill="#5a5860"/>
<circle cx="132.5" cy="80.9" r="0.8" fill="#5a5860"/>
<circle cx="125.4" cy="71.3" r="0.8" fill="#8a9494"/>
<circle cx="152.0" cy="69.6" r="0.6" fill="#8a9494"/>
<circle cx="135.5" cy="89.5" r="0.6" fill="#5a5860"/>
<circle cx="166.3" cy="87.1" r="0.8" fill="#8a9494"/>
<circle cx="116.9" cy="55.8" r="0.7" fill="#ffffff"/>
<circle cx="122.8" cy="79.6" r="1.0" fill="#5a5860"/>
<circle cx="134.7" cy="54.1" r="0.5" fill="#5a5860"/>
<circle cx="161.2" cy="86.9" r="0.6" fill="#5a5860"/>
<circle cx="131.1" cy="50.8" r="0.9" fill="#8a9494"/>
<circle cx="150.6" cy="64.1" r="0.7" fill="#ffffff"/>
<circle cx="157.8" cy="81.3" r="0.8" fill="#a03448"/>
<circle cx="146.3" cy="51.6" r="0.6" fill="#ffffff"/>
<circle cx="128.7" cy="82.3" r="0.8" fill="#8a9494"/>
<circle cx="125.4" cy="83.7" r="0.7" fill="#8a9494"/>
<circle cx="128.9" cy="71.1" r="0.8" fill="#8a9494"/>
<circle cx="138.8" cy="69.4" r="0.7" fill="#ffffff"/>
<circle cx="139.8" cy="80.0" r="0.6" fill="#8a9494"/>
<circle cx="157.6" cy="55.2" r="0.6" fill="#8a9494"/>
<circle cx="138.8" cy="64.4" r="0.7" fill="#ffffff"/>
<circle cx="145.0" cy="60.1" r="0.8" fill="#ffffff"/>
<circle cx="110.8" cy="66.7" r="0.9" fill="#ffffff"/>
<circle cx="164.9" cy="49.2" r="0.8" fill="#a03448"/>
<circle cx="113.0" cy="52.2" r="1.0" fill="#8a9494"/>
<circle cx="159.5" cy="72.7" r="0.8" fill="#5a5860"/>
<circle cx="136.2" cy="67.0" r="0.5" fill="#5a5860"/>
<circle cx="148.4" cy="54.1" r="0.8" fill="#a03448"/>
<circle cx="131.8" cy="63.7" r="0.8" fill="#a03448"/>
<circle cx="157.2" cy="78.6" r="0.5" fill="#8a9494"/>
<circle cx="166.8" cy="52.9" r="1.0" fill="#ffffff"/>
<circle cx="145.7" cy="87.6" r="0.6" fill="#5a5860"/>
<circle cx="122.4" cy="89.0" r="0.6" fill="#5a5860"/>
<circle cx="116.0" cy="54.8" r="1.0" fill="#a03448"/>
</g>
<polygon points="231.0,276.0 236.0,272.5 259.0,297.0 256.0,312.0 247.0,328.0 228.0,322.0 207.0,307.0" fill="#6e686c" />
<polygon points="230.0,287.0 243.0,299.0 236.0,312.0 221.0,303.0" fill="#a9b6b6" />
<polygon points="238.0,300.0 250.0,305.0 246.0,320.0 233.0,316.0" fill="#8e9698" />
<polygon points="229.0,278.5 233.0,275.0 258.0,299.0 255.0,303.5" fill="#4a4246" />
<polygon points="214.0,302.0 228.0,288.0 232.0,292.0 219.0,307.0" fill="#8a8a90" />
<polygon points="65.4,115.9 83.7,114.4 83.7,127.6 66.1,126.1" fill="#e8f0ee" />
<polygon points="77.1,109.3 104.2,112.2 104.2,121.7 77.8,117.4" fill="#4c4a54" />
<polygon points="110.0,111.5 139.3,110.0 139.3,120.3 110.0,123.2" fill="#ead4d8" />
<polygon points="129.1,110.0 137.9,110.0 137.9,115.9 129.1,116.6" fill="#e8f4f2" />
<polygon points="132.0,319.8 140.8,321.3 141.5,334.4 132.7,333.0" fill="#d0e8e4" />
<polygon points="222.7,64.6 231.5,63.9 233.0,71.9 223.5,73.4" fill="#f07848" />
<polygon points="227.1,70.5 237.4,69.7 238.1,77.1 227.9,77.8" fill="#cfd6d6" />
<polygon points="265.9,39.7 276.2,36.8 278.4,44.8 268.1,47.8" fill="#f4a8c8" />
<polygon points="275.5,33.1 286.4,30.9 287.9,38.3 277.7,40.5" fill="#f2a0c2" />
<polygon points="272.5,44.1 287.2,41.9 288.6,52.9 274.0,55.1" fill="#d4ecec" />
<polygon points="291.6,40.5 298.9,40.0 299.5,44.4 292.2,45.0" fill="#e8f2f0" />
<polygon points="281.3,50.0 287.2,49.2 287.9,54.4 282.1,55.1" fill="#d8d860" />
<polygon points="305.5,47.0 312.8,46.7 313.3,51.4 305.9,51.7" fill="#d4d468" />
<polygon points="213.9,29.5 219.8,29.5 220.1,35.3 214.7,35.6" fill="#e8f0f0" />
<polygon points="284.0,242.0 296.0,244.0 297.4,252.0 290.0,255.0 284.5,250.0" fill="#725a6a" filter="url(#soft1)"/>
<path d="M115.9 29.0C116.9 31.8 120.5 39.7 121.7 45.6C122.9 51.5 123.3 57.8 123.3 64.6C123.3 71.4 123.2 81.0 121.7 86.6C120.2 92.2 116.8 94.1 114.4 98.3C112.0 102.5 109.1 107.1 107.1 111.5C105.1 115.9 103.4 120.1 102.5 124.7C101.6 129.3 101.3 134.8 101.6 139.3C101.9 143.9 102.8 146.6 104.2 152.0C105.6 157.4 108.0 165.0 110.0 172.0C112.0 179.0 114.0 186.7 115.9 194.0C117.9 201.3 120.0 208.8 121.7 215.9C123.4 223.0 124.6 230.3 126.1 236.4C127.6 242.5 128.3 247.6 130.5 252.5C132.7 257.4 135.6 262.3 139.3 265.7C143.0 269.1 148.4 270.7 152.5 273.0C156.6 275.3 159.4 276.6 164.0 279.4C168.6 282.2 175.1 286.7 180.0 290.0C184.9 293.3 189.4 296.1 193.4 299.4C197.4 302.7 201.6 306.4 204.0 310.0C206.4 313.6 206.7 317.1 208.0 320.7C209.3 324.3 211.3 329.6 212.0 331.4" fill="none" stroke="#c09aaa" stroke-width="6.5" stroke-linecap="round" opacity="0.5"/>
<path d="M115.9 29.0C116.9 31.8 120.5 39.7 121.7 45.6C122.9 51.5 123.3 57.8 123.3 64.6C123.3 71.4 123.2 81.0 121.7 86.6C120.2 92.2 116.8 94.1 114.4 98.3C112.0 102.5 109.1 107.1 107.1 111.5C105.1 115.9 103.4 120.1 102.5 124.7C101.6 129.3 101.3 134.8 101.6 139.3C101.9 143.9 102.8 146.6 104.2 152.0C105.6 157.4 108.0 165.0 110.0 172.0C112.0 179.0 114.0 186.7 115.9 194.0C117.9 201.3 120.0 208.8 121.7 215.9C123.4 223.0 124.6 230.3 126.1 236.4C127.6 242.5 128.3 247.6 130.5 252.5C132.7 257.4 135.6 262.3 139.3 265.7C143.0 269.1 148.4 270.7 152.5 273.0C156.6 275.3 159.4 276.6 164.0 279.4C168.6 282.2 175.1 286.7 180.0 290.0C184.9 293.3 189.4 296.1 193.4 299.4C197.4 302.7 201.6 306.4 204.0 310.0C206.4 313.6 206.7 317.1 208.0 320.7C209.3 324.3 211.3 329.6 212.0 331.4" fill="none" stroke="#bcbcc2" stroke-width="3.4" stroke-linecap="round"/>
<path d="M29.5 96.1C31.1 96.6 42.1 99.5 45.6 101.2C49.1 102.9 61.5 111.4 64.6 113.0C67.7 114.6 72.9 116.3 76.3 117.4C79.7 118.5 96.1 123.2 98.3 123.9" fill="none" stroke="#f0dfe4" stroke-width="1.3" opacity="0.9"/>
<path d="M101.0 124.0C102.7 123.7 114.8 121.8 118.0 121.0C121.2 120.2 130.8 116.8 133.0 116.0C135.2 115.2 139.3 113.3 140.0 113.0" fill="none" stroke="#f0dfe4" stroke-width="1.3" opacity="0.9"/>
<path d="M203.7 32.4C204.6 34.2 210.9 47.0 212.5 50.0C214.1 52.9 218.9 59.1 219.8 61.7C220.7 64.3 221.1 74.9 221.3 76.3" fill="none" stroke="#f0dfe4" stroke-width="1.3" opacity="0.9"/>
<path d="M54.4 270.0C54.4 271.6 53.6 284.2 55.1 286.1C56.6 288.0 63.1 288.8 69.0 289.0C74.9 289.3 109.6 290.2 114.4 288.3C119.3 286.4 117.1 271.8 117.4 270.0" fill="none" stroke="#f0dfe4" stroke-width="1.3" opacity="0.9"/>
<path d="M114.4 288.3C114.2 290.9 112.1 309.6 112.2 313.9C112.4 318.3 115.6 328.7 115.9 331.5C116.2 334.3 115.2 340.7 115.2 341.8" fill="none" stroke="#f0dfe4" stroke-width="1.3" opacity="0.9"/>
<path d="M112.2 313.2C114.1 312.8 127.8 308.9 130.5 308.8C133.2 308.7 136.7 311.8 139.3 312.5C142.0 313.1 155.1 315.1 156.9 315.4" fill="none" stroke="#f0dfe4" stroke-width="1.3" opacity="0.9"/>
<path d="M139.3 312.5C139.9 316.3 145.8 345.4 145.2 350.6C144.6 355.7 134.6 362.4 133.5 363.7" fill="none" stroke="#f0dfe4" stroke-width="1.3" opacity="0.9"/>
<path d="M145.2 355.0C147.2 355.0 162.4 356.0 165.7 355.7C169.0 355.4 176.8 352.4 178.0 352.0" fill="none" stroke="#f0dfe4" stroke-width="1.3" opacity="0.9"/>
<path d="M29.5 364.0C30.1 364.2 34.5 364.4 36.0 366.0C37.5 367.6 42.6 377.1 44.0 380.0C45.4 382.9 49.4 393.5 50.0 395.0" fill="none" stroke="#f0dfe4" stroke-width="1.3" opacity="0.9"/>
<path d="M47 369.6L89.5 318.3" stroke="#f24864" stroke-width="4.5"/>
</g>
<g filter="url(#watertex)">
<path d="M110.7 143.4C110.9 143.0 110.8 141.6 111.9 141.1C113.0 140.6 115.2 140.3 117.3 140.3C119.4 140.3 122.7 140.6 124.4 140.9C126.1 141.2 127.1 141.8 127.5 142.3C127.9 142.9 127.2 143.7 126.7 144.2C126.2 144.7 124.6 144.9 124.2 145.4C123.8 145.9 123.8 146.5 124.6 147.3C125.4 148.1 127.3 149.5 129.1 150.1C130.9 150.7 133.2 150.9 135.3 150.9C137.4 150.9 139.8 150.7 141.6 150.1C143.4 149.5 144.8 148.5 146.3 147.3C147.9 146.1 149.2 143.9 150.9 142.7C152.6 141.5 154.3 140.6 156.4 139.9C158.5 139.2 160.6 139.0 163.4 138.4C166.2 137.8 169.7 136.9 173.2 136.2C176.7 135.5 180.2 135.0 184.6 134.2C188.9 133.4 195.2 132.2 199.3 131.3C203.5 130.5 206.6 129.2 209.5 129.1C212.4 129.0 214.5 131.1 216.9 130.5C219.3 129.9 221.3 126.7 224.2 125.4C227.1 124.1 232.0 124.0 234.4 122.5C236.8 121.0 236.8 117.9 238.8 116.6C240.8 115.2 244.4 116.5 246.2 114.4C248.0 112.3 248.6 107.9 249.8 104.2C251.0 100.5 252.2 95.7 253.5 92.4C254.8 89.1 255.9 86.5 257.9 84.4C259.8 82.3 262.5 81.1 265.2 80.0C267.9 78.9 271.7 79.4 274.0 77.8C276.3 76.2 277.2 72.7 279.1 70.5C281.1 68.3 283.1 66.1 285.7 64.6C288.3 63.1 291.3 62.2 294.5 61.7C297.7 61.2 301.6 61.0 304.8 61.4C308.0 61.8 311.0 63.0 313.5 63.9C316.0 64.8 318.6 67.1 320.0 66.8C321.4 66.5 320.8 63.9 321.7 62.0C322.6 60.1 324.0 58.0 325.5 55.7C327.0 53.4 329.0 50.5 330.6 48.0C332.2 45.5 333.7 42.5 335.0 40.4C336.3 38.3 336.9 36.5 338.3 35.3C339.7 34.1 341.3 33.3 343.4 33.3C345.5 33.3 348.4 34.8 351.0 35.3C353.6 35.8 355.9 36.7 358.7 36.6C361.5 36.5 364.9 35.4 367.6 34.8C370.3 34.2 372.9 33.7 375.0 32.8C377.1 31.9 379.2 30.1 380.0 29.5L463 29.5L463 316.8L462.3 316.8C461.2 316.7 458.1 316.6 455.5 316.1C452.9 315.6 449.7 314.8 446.8 313.9C443.9 313.0 440.4 311.2 438.0 311.0C435.6 310.8 434.1 311.4 432.1 312.5C430.2 313.6 428.0 315.1 426.3 317.6C424.6 320.2 423.6 325.0 421.9 327.8C420.2 330.6 418.2 333.2 416.0 334.4C413.8 335.6 410.9 335.7 408.7 335.2C406.5 334.7 403.7 333.5 402.8 331.5C401.9 329.5 403.0 326.7 403.5 323.4C404.0 320.1 405.6 315.0 405.7 311.7C405.8 308.4 405.3 305.0 404.3 303.7C403.3 302.4 401.6 302.8 399.9 303.7C398.2 304.6 395.9 307.0 394.0 308.8C392.1 310.6 391.1 313.8 388.2 314.6C385.3 315.5 380.2 314.9 376.5 313.9C372.8 312.9 369.6 310.4 366.2 308.8C362.8 307.2 358.7 305.9 356.0 304.4C353.3 302.9 351.1 302.4 350.1 300.0C349.1 297.6 350.2 292.6 349.9 290.0C349.5 287.4 348.8 287.6 348.0 284.7C347.2 281.8 346.1 276.9 345.4 272.7C344.7 268.5 344.4 262.9 344.0 259.3C343.6 255.7 343.6 253.3 342.7 251.3C341.8 249.3 340.7 248.2 338.7 247.3C336.7 246.4 333.8 246.7 330.7 246.0C327.6 245.3 324.3 243.9 320.0 243.3C315.7 242.7 309.1 243.2 304.8 242.3C300.6 241.4 297.7 240.0 294.5 237.9C291.3 235.8 288.3 232.6 285.7 229.8C283.1 227.0 281.8 222.9 279.1 221.3C276.4 219.7 273.1 220.8 269.6 220.3C266.1 219.8 261.3 219.4 257.9 218.4C254.5 217.4 250.9 215.8 249.1 214.4C247.3 213.0 248.6 211.8 246.9 210.0C245.2 208.2 241.5 205.3 238.8 203.4C236.1 201.5 234.0 198.3 230.8 198.3C227.6 198.3 222.9 201.5 219.8 203.4C216.8 205.3 215.2 208.4 212.5 210.0C209.8 211.6 207.1 212.1 203.7 213.0C200.3 213.9 195.9 215.5 192.0 215.4C188.1 215.3 183.5 213.3 180.3 212.2C177.1 211.1 175.2 209.0 173.0 208.6C170.8 208.2 168.9 208.5 167.2 210.0C165.5 211.5 164.5 215.2 162.8 217.4C161.1 219.6 158.7 221.0 156.9 223.2C155.1 225.4 153.3 229.5 151.8 230.6C150.3 231.7 149.2 231.0 148.1 229.8C147.0 228.6 146.4 224.5 145.2 223.2C144.0 221.9 142.8 223.3 140.8 221.8C138.9 220.3 135.7 216.9 133.5 214.4C131.3 211.9 129.2 209.8 127.6 207.1C126.0 204.4 124.6 201.2 123.9 198.3C123.2 195.4 123.8 192.7 123.2 189.5C122.6 186.3 121.4 182.7 120.3 179.3C119.2 175.9 117.6 172.4 116.6 169.0C115.6 165.6 114.5 161.5 114.4 158.8C114.3 156.1 114.8 154.2 115.8 152.8C116.8 151.4 119.5 151.3 120.3 150.5C121.1 149.7 120.9 148.7 120.7 148.1C120.5 147.5 120.1 147.3 118.9 147.0C117.7 146.7 114.3 146.3 113.4 146.2Z" fill="url(#lakeg)"/>
<path d="M28.0 174.9C30.2 166.1 37.5 174.0 41.2 173.4C44.9 172.8 48.2 172.0 50.0 171.2C51.8 170.3 51.0 168.7 52.2 168.3C53.4 167.9 55.5 169.7 57.3 169.0C59.1 168.3 61.0 165.5 63.2 163.9C65.4 162.3 68.5 160.1 70.5 159.5C72.5 158.9 73.9 160.9 74.9 160.3C75.9 159.7 75.3 157.2 76.3 155.9C77.3 154.6 78.8 152.9 80.7 152.2C82.7 151.5 85.5 151.4 88.0 151.8C90.5 152.2 93.2 153.1 95.4 154.4C97.6 155.7 99.7 157.1 101.2 159.5C102.7 161.9 103.1 165.0 104.2 169.0C105.3 173.0 106.6 178.6 107.8 183.7C109.0 188.8 110.6 195.2 111.5 199.8C112.4 204.4 112.8 208.0 113.0 211.5C113.2 215.0 113.9 219.3 112.7 221.0C111.5 222.7 107.1 222.0 105.6 221.8C104.0 221.6 104.1 219.6 103.4 220.0C102.7 220.4 103.0 222.8 101.2 224.0C99.4 225.2 95.8 226.1 92.4 226.9C89.0 227.8 84.4 228.6 80.7 229.1C77.0 229.6 73.4 230.1 70.5 229.8C67.6 229.6 65.7 228.3 63.2 227.6C60.8 226.9 59.2 225.8 55.8 225.4C52.4 225.0 47.2 225.3 42.6 225.4C38.0 225.5 30.4 234.6 28.0 226.2C25.6 217.8 25.8 183.7 28.0 174.9Z" fill="#10292e"/>
<path d="M62.4 233.5C63.5 231.6 67.9 232.5 71.9 232.0C75.9 231.5 81.9 230.9 86.6 230.6C91.2 230.3 97.1 229.6 99.8 230.3C102.5 231.0 102.5 233.4 102.7 235.0C102.9 236.6 102.3 238.7 101.2 240.1C100.1 241.5 96.9 241.6 96.1 243.7C95.2 245.8 96.6 249.6 96.1 252.5C95.6 255.4 94.8 258.7 93.2 261.3C91.6 263.9 88.3 267.7 86.6 268.4C84.9 269.1 84.6 267.2 82.9 265.7C81.2 264.1 78.5 261.3 76.3 259.1C74.1 256.9 71.5 255.1 69.7 252.5C67.9 249.9 66.6 246.9 65.4 243.7C64.2 240.5 61.3 235.4 62.4 233.5Z" fill="#12303a"/>
</g>
<path d="M110.7 143.4C110.9 143.0 110.8 141.6 111.9 141.1C113.0 140.6 115.2 140.3 117.3 140.3C119.4 140.3 122.7 140.6 124.4 140.9C126.1 141.2 127.1 141.8 127.5 142.3C127.9 142.9 127.2 143.7 126.7 144.2C126.2 144.7 124.6 144.9 124.2 145.4C123.8 145.9 123.8 146.5 124.6 147.3C125.4 148.1 127.3 149.5 129.1 150.1C130.9 150.7 133.2 150.9 135.3 150.9C137.4 150.9 139.8 150.7 141.6 150.1C143.4 149.5 144.8 148.5 146.3 147.3C147.9 146.1 149.2 143.9 150.9 142.7C152.6 141.5 154.3 140.6 156.4 139.9C158.5 139.2 160.6 139.0 163.4 138.4C166.2 137.8 169.7 136.9 173.2 136.2C176.7 135.5 180.2 135.0 184.6 134.2C188.9 133.4 195.2 132.2 199.3 131.3C203.5 130.5 206.6 129.2 209.5 129.1C212.4 129.0 214.5 131.1 216.9 130.5C219.3 129.9 221.3 126.7 224.2 125.4C227.1 124.1 232.0 124.0 234.4 122.5C236.8 121.0 236.8 117.9 238.8 116.6C240.8 115.2 244.4 116.5 246.2 114.4C248.0 112.3 248.6 107.9 249.8 104.2C251.0 100.5 252.2 95.7 253.5 92.4C254.8 89.1 255.9 86.5 257.9 84.4C259.8 82.3 262.5 81.1 265.2 80.0C267.9 78.9 271.7 79.4 274.0 77.8C276.3 76.2 277.2 72.7 279.1 70.5C281.1 68.3 283.1 66.1 285.7 64.6C288.3 63.1 291.3 62.2 294.5 61.7C297.7 61.2 301.6 61.0 304.8 61.4C308.0 61.8 311.0 63.0 313.5 63.9C316.0 64.8 318.6 67.1 320.0 66.8C321.4 66.5 320.8 63.9 321.7 62.0C322.6 60.1 324.0 58.0 325.5 55.7C327.0 53.4 329.0 50.5 330.6 48.0C332.2 45.5 333.7 42.5 335.0 40.4C336.3 38.3 336.9 36.5 338.3 35.3C339.7 34.1 341.3 33.3 343.4 33.3C345.5 33.3 348.4 34.8 351.0 35.3C353.6 35.8 355.9 36.7 358.7 36.6C361.5 36.5 364.9 35.4 367.6 34.8C370.3 34.2 372.9 33.7 375.0 32.8C377.1 31.9 379.2 30.1 380.0 29.5L463 29.5L463 316.8L462.3 316.8C461.2 316.7 458.1 316.6 455.5 316.1C452.9 315.6 449.7 314.8 446.8 313.9C443.9 313.0 440.4 311.2 438.0 311.0C435.6 310.8 434.1 311.4 432.1 312.5C430.2 313.6 428.0 315.1 426.3 317.6C424.6 320.2 423.6 325.0 421.9 327.8C420.2 330.6 418.2 333.2 416.0 334.4C413.8 335.6 410.9 335.7 408.7 335.2C406.5 334.7 403.7 333.5 402.8 331.5C401.9 329.5 403.0 326.7 403.5 323.4C404.0 320.1 405.6 315.0 405.7 311.7C405.8 308.4 405.3 305.0 404.3 303.7C403.3 302.4 401.6 302.8 399.9 303.7C398.2 304.6 395.9 307.0 394.0 308.8C392.1 310.6 391.1 313.8 388.2 314.6C385.3 315.5 380.2 314.9 376.5 313.9C372.8 312.9 369.6 310.4 366.2 308.8C362.8 307.2 358.7 305.9 356.0 304.4C353.3 302.9 351.1 302.4 350.1 300.0C349.1 297.6 350.2 292.6 349.9 290.0C349.5 287.4 348.8 287.6 348.0 284.7C347.2 281.8 346.1 276.9 345.4 272.7C344.7 268.5 344.4 262.9 344.0 259.3C343.6 255.7 343.6 253.3 342.7 251.3C341.8 249.3 340.7 248.2 338.7 247.3C336.7 246.4 333.8 246.7 330.7 246.0C327.6 245.3 324.3 243.9 320.0 243.3C315.7 242.7 309.1 243.2 304.8 242.3C300.6 241.4 297.7 240.0 294.5 237.9C291.3 235.8 288.3 232.6 285.7 229.8C283.1 227.0 281.8 222.9 279.1 221.3C276.4 219.7 273.1 220.8 269.6 220.3C266.1 219.8 261.3 219.4 257.9 218.4C254.5 217.4 250.9 215.8 249.1 214.4C247.3 213.0 248.6 211.8 246.9 210.0C245.2 208.2 241.5 205.3 238.8 203.4C236.1 201.5 234.0 198.3 230.8 198.3C227.6 198.3 222.9 201.5 219.8 203.4C216.8 205.3 215.2 208.4 212.5 210.0C209.8 211.6 207.1 212.1 203.7 213.0C200.3 213.9 195.9 215.5 192.0 215.4C188.1 215.3 183.5 213.3 180.3 212.2C177.1 211.1 175.2 209.0 173.0 208.6C170.8 208.2 168.9 208.5 167.2 210.0C165.5 211.5 164.5 215.2 162.8 217.4C161.1 219.6 158.7 221.0 156.9 223.2C155.1 225.4 153.3 229.5 151.8 230.6C150.3 231.7 149.2 231.0 148.1 229.8C147.0 228.6 146.4 224.5 145.2 223.2C144.0 221.9 142.8 223.3 140.8 221.8C138.9 220.3 135.7 216.9 133.5 214.4C131.3 211.9 129.2 209.8 127.6 207.1C126.0 204.4 124.6 201.2 123.9 198.3C123.2 195.4 123.8 192.7 123.2 189.5C122.6 186.3 121.4 182.7 120.3 179.3C119.2 175.9 117.6 172.4 116.6 169.0C115.6 165.6 114.5 161.5 114.4 158.8C114.3 156.1 114.8 154.2 115.8 152.8C116.8 151.4 119.5 151.3 120.3 150.5C121.1 149.7 120.9 148.7 120.7 148.1C120.5 147.5 120.1 147.3 118.9 147.0C117.7 146.7 114.3 146.3 113.4 146.2Z" fill="none" stroke="#6fd62c" stroke-width="1.8"/>
<path d="M28.0 174.9C30.2 166.1 37.5 174.0 41.2 173.4C44.9 172.8 48.2 172.0 50.0 171.2C51.8 170.3 51.0 168.7 52.2 168.3C53.4 167.9 55.5 169.7 57.3 169.0C59.1 168.3 61.0 165.5 63.2 163.9C65.4 162.3 68.5 160.1 70.5 159.5C72.5 158.9 73.9 160.9 74.9 160.3C75.9 159.7 75.3 157.2 76.3 155.9C77.3 154.6 78.8 152.9 80.7 152.2C82.7 151.5 85.5 151.4 88.0 151.8C90.5 152.2 93.2 153.1 95.4 154.4C97.6 155.7 99.7 157.1 101.2 159.5C102.7 161.9 103.1 165.0 104.2 169.0C105.3 173.0 106.6 178.6 107.8 183.7C109.0 188.8 110.6 195.2 111.5 199.8C112.4 204.4 112.8 208.0 113.0 211.5C113.2 215.0 113.9 219.3 112.7 221.0C111.5 222.7 107.1 222.0 105.6 221.8C104.0 221.6 104.1 219.6 103.4 220.0C102.7 220.4 103.0 222.8 101.2 224.0C99.4 225.2 95.8 226.1 92.4 226.9C89.0 227.8 84.4 228.6 80.7 229.1C77.0 229.6 73.4 230.1 70.5 229.8C67.6 229.6 65.7 228.3 63.2 227.6C60.8 226.9 59.2 225.8 55.8 225.4C52.4 225.0 47.2 225.3 42.6 225.4C38.0 225.5 30.4 234.6 28.0 226.2C25.6 217.8 25.8 183.7 28.0 174.9Z" fill="none" stroke="#6fd62c" stroke-width="1.8"/>
<path d="M62.4 233.5C63.5 231.6 67.9 232.5 71.9 232.0C75.9 231.5 81.9 230.9 86.6 230.6C91.2 230.3 97.1 229.6 99.8 230.3C102.5 231.0 102.5 233.4 102.7 235.0C102.9 236.6 102.3 238.7 101.2 240.1C100.1 241.5 96.9 241.6 96.1 243.7C95.2 245.8 96.6 249.6 96.1 252.5C95.6 255.4 94.8 258.7 93.2 261.3C91.6 263.9 88.3 267.7 86.6 268.4C84.9 269.1 84.6 267.2 82.9 265.7C81.2 264.1 78.5 261.3 76.3 259.1C74.1 256.9 71.5 255.1 69.7 252.5C67.9 249.9 66.6 246.9 65.4 243.7C64.2 240.5 61.3 235.4 62.4 233.5Z" fill="none" stroke="#6fd62c" stroke-width="1.8"/>
<polygon points="128.3,43.2 155.8,40.6 156.4,46.6 128.9,49.2" fill="#cf6878" fill-opacity="0.92" stroke="#6fd62c" stroke-width="1.6" stroke-linejoin="round"/>
<polygon points="127.8,93.4 144.6,93.0 144.9,97.4 128.0,97.8" fill="#a85a50" fill-opacity="0.92" stroke="#6fd62c" stroke-width="1.6" stroke-linejoin="round"/>
<polygon points="32.6,100.0 37.0,98.6 43.0,101.2 42.6,104.0 36.0,104.4" fill="#8a6a50" fill-opacity="0.92" stroke="#6fd62c" stroke-width="1.6" stroke-linejoin="round"/>
<polygon points="220.5,33.1 247.6,38.3 242.5,51.4 219.1,45.6" fill="#c6eeee" fill-opacity="0.92" stroke="#6fd62c" stroke-width="1.6" stroke-linejoin="round"/>
<polygon points="236.6,62.4 243.2,61.0 246.2,74.1 239.6,75.6" fill="#ef7040" fill-opacity="0.92" stroke="#6fd62c" stroke-width="1.6" stroke-linejoin="round"/>
<path d="M296.7 70.0C298.1 69.8 301.1 70.0 302.6 70.8C304.1 71.6 305.5 73.4 305.9 74.9C306.3 76.4 305.9 78.5 304.8 80.0C303.8 81.5 301.4 83.2 299.6 83.7C297.8 84.2 294.9 84.1 293.8 82.9C292.8 81.7 293.2 78.1 293.3 76.3C293.4 74.5 293.9 73.0 294.5 72.0C295.1 71.0 295.3 70.2 296.7 70.0Z" fill="#b58c9c" stroke="#6fd62c" stroke-width="1.6"/>
<path d="M274.7 275.9C275.3 274.7 277.4 278.2 279.9 278.1C282.3 278.0 288.2 274.5 289.4 275.2C290.6 275.9 288.7 280.2 287.2 282.5C285.7 284.8 282.4 288.6 280.6 289.1C278.8 289.6 277.2 287.7 276.2 285.5C275.2 283.3 274.1 277.1 274.7 275.9Z" fill="#161e24" stroke="#6fd62c" stroke-width="1.6"/>
<polygon points="223.5,322.0 228.6,323.4 243.2,336.6 241.8,341.7 234.4,338.8 224.2,327.8" fill="#6a5058" fill-opacity="0.92" stroke="#6fd62c" stroke-width="1.6" stroke-linejoin="round"/>
<polygon points="177.3,346.1 183.9,341.7 187.6,346.1 181.7,351.3" fill="#7a4a50" fill-opacity="0.92" stroke="#6fd62c" stroke-width="1.6" stroke-linejoin="round"/>
<polygon points="254.2,345.4 261.5,346.9 254.9,360.8 249.1,357.9" fill="#6a5058" fill-opacity="0.92" stroke="#6fd62c" stroke-width="1.6" stroke-linejoin="round"/>
<polygon points="260.1,371.8 265.2,373.2 261.5,380.3 257.9,377.6" fill="#7a4048" fill-opacity="0.92" stroke="#6fd62c" stroke-width="1.6" stroke-linejoin="round"/>
<polygon points="287.2,385.7 290.8,387.9 283.5,397.4 280.6,395.2" fill="#5a4048" fill-opacity="0.92" stroke="#6fd62c" stroke-width="1.6" stroke-linejoin="round"/>
<polygon points="257.9,392.3 267.4,398.1 265.9,400.3 257.2,395.2" fill="#5a4048" fill-opacity="0.92" stroke="#6fd62c" stroke-width="1.6" stroke-linejoin="round"/>
<polygon points="262.3,401.1 265.2,403.3 258.6,411.3 256.1,409.1" fill="#6a4048" fill-opacity="0.92" stroke="#6fd62c" stroke-width="1.6" stroke-linejoin="round"/>
<polygon points="317.4,316.7 324.0,322.0 324.8,336.7 317.4,348.7 312.0,352.7 293.4,348.7 304.0,334.0" fill="#b08494" fill-opacity="0.92" stroke="#6fd62c" stroke-width="1.6" stroke-linejoin="round"/>
<polygon points="302.7,391.4 322.7,404.8 312.0,420.8 292.0,407.4" fill="#a4647e" fill-opacity="0.92" stroke="#6fd62c" stroke-width="1.6" stroke-linejoin="round"/>
<polygon points="332.0,366.0 341.4,368.7 340.0,378.0 329.4,374.0" fill="#8a5a6a" fill-opacity="0.92" stroke="#6fd62c" stroke-width="1.6" stroke-linejoin="round"/>
<polygon points="328.0,375.4 332.0,376.7 325.9,390.0 322.7,388.8" fill="#a05a6a" fill-opacity="0.92" stroke="#6fd62c" stroke-width="1.6" stroke-linejoin="round"/>
<polygon points="256.0,426.0 262.7,424.8 264.0,430.0 257.3,432.8" fill="#4a4a4a" fill-opacity="0.92" stroke="#6fd62c" stroke-width="1.6" stroke-linejoin="round"/>
<polygon points="306.7,424.8 318.7,431.4 306.7,451.5 297.4,443.4" fill="none"  stroke="#6fd62c" stroke-width="1.6" stroke-linejoin="round"/>
<rect x="30.6" y="30.6" width="22.1" height="49.9" fill="#fff"/>
<text x="41.7" y="41.2" font-family="'Liberation Sans', 'DejaVu Sans', sans-serif" font-size="13.8" text-anchor="middle" fill="#000">N</text>
<path d="M41.4 45.4L31.3 79.4L41.3 67Z" fill="#000"/>
<path d="M41.4 45.4L51.7 79.4L41.3 67Z" fill="#fff" stroke="#000" stroke-width="0.9" stroke-linejoin="miter"/>
<rect x="29.5" y="427" width="219.3" height="28.6" fill="#fff"/>
<rect x="33.8" y="446.3" width="167.5" height="5" fill="#000"/>
<rect x="45" y="447.2" width="10" height="3.2" fill="#fff"/>
<rect x="65.5" y="447.2" width="10.799999999999997" height="3.2" fill="#fff"/>
<rect x="117.5" y="447.2" width="41.30000000000001" height="3.2" fill="#fff"/>
<text x="30.6" y="442.3" font-size="15.2" fill="#000">0</text>
<text x="47.5" y="442.3" font-size="15.2" fill="#000">40</text>
<text x="67.8" y="442.3" font-size="15.2" fill="#000">80</text>
<text x="106.5" y="442.3" font-size="15.2" fill="#000">160</text>
<text x="147.5" y="442.3" font-size="15.2" fill="#000">240</text>
<text x="189" y="442.3" font-size="15.2" fill="#000">320</text>
<text x="203.6" y="452.5" font-size="15.8" fill="#000">Meters</text>
</g>
<rect x="29" y="29.3" width="433.4" height="426.7" fill="none" stroke="#6fd62c" stroke-width="1.5"/>
<text x="82.5" y="510" font-size="28.7" font-weight="normal" text-anchor="start" >(a) Reference Objects of R2</text>
<text x="573.8" y="510.5" font-size="28.8" font-weight="normal" text-anchor="start" >(b) Rate of Over-segmented Objects</text>
<text x="46" y="847.2" font-size="28.75" font-weight="normal" text-anchor="start" >(c) Rate of Under-segmented Objects</text>
<text x="574.5" y="848.5" font-size="29" font-weight="normal" text-anchor="start" >(d) Rate of Well-segmented Objects</text>
<text x="60.099999999999994" y="16.9" font-size="16.45" font-weight="normal" text-anchor="middle" >106°21'30"E</text>
<text x="65.3" y="480" font-size="16.45" font-weight="normal" text-anchor="middle" >106°21'30"E</text>
<text x="203.3" y="16.9" font-size="16.45" font-weight="normal" text-anchor="middle" >106°21'40"E</text>
<text x="208.5" y="480" font-size="16.45" font-weight="normal" text-anchor="middle" >106°21'40"E</text>
<text x="347.3" y="16.9" font-size="16.45" font-weight="normal" text-anchor="middle" >106°21'50"E</text>
<text x="352.5" y="480" font-size="16.45" font-weight="normal" text-anchor="middle" >106°21'50"E</text>
<text transform="translate(485 52) rotate(-90)" font-size="16.45" text-anchor="middle">26°27'30"N</text>
<text transform="translate(18 213.6) rotate(-90)" font-size="16.45" text-anchor="middle">26°27'20"N</text>
<text transform="translate(485 209) rotate(-90)" font-size="16.45" text-anchor="middle">26°27'20"N</text>
<text transform="translate(18 371.1) rotate(-90)" font-size="16.45" text-anchor="middle">26°27'10"N</text>
<text transform="translate(485 366.5) rotate(-90)" font-size="16.45" text-anchor="middle">26°27'10"N</text>
<path d="M608.50 331.20H879.50" stroke="#8a8a8a" stroke-width="1.15" fill="none"/>
<text x="594.5" y="335.80" font-size="14.4" font-weight="normal" text-anchor="end" >0</text>
<path d="M608.50 295.46H879.50" stroke="#8a8a8a" stroke-width="1.15" fill="none"/>
<text x="594.5" y="300.06" font-size="14.4" font-weight="normal" text-anchor="end" >0.2</text>
<path d="M608.50 259.72H879.50" stroke="#8a8a8a" stroke-width="1.15" fill="none"/>
<text x="594.5" y="264.32" font-size="14.4" font-weight="normal" text-anchor="end" >0.4</text>
<path d="M608.50 223.98H879.50" stroke="#8a8a8a" stroke-width="1.15" fill="none"/>
<text x="594.5" y="228.58" font-size="14.4" font-weight="normal" text-anchor="end" >0.6</text>
<path d="M608.50 188.24H879.50" stroke="#8a8a8a" stroke-width="1.15" fill="none"/>
<text x="594.5" y="192.84" font-size="14.4" font-weight="normal" text-anchor="end" >0.8</text>
<path d="M608.50 152.50H879.50" stroke="#8a8a8a" stroke-width="1.15" fill="none"/>
<text x="594.5" y="157.10" font-size="14.4" font-weight="normal" text-anchor="end" >1.0</text>
<path d="M612.70 152.50V331.20" stroke="#8a8a8a" stroke-width="1" fill="none"/>
<path d="M612.70 331.20v4.3" stroke="#8a8a8a" stroke-width="1" fill="none"/>
<path d="M642.34 331.20v4.3" stroke="#8a8a8a" stroke-width="1" fill="none"/>
<path d="M671.99 331.20v4.3" stroke="#8a8a8a" stroke-width="1" fill="none"/>
<path d="M701.63 331.20v4.3" stroke="#8a8a8a" stroke-width="1" fill="none"/>
<path d="M731.28 331.20v4.3" stroke="#8a8a8a" stroke-width="1" fill="none"/>
<path d="M760.92 331.20v4.3" stroke="#8a8a8a" stroke-width="1" fill="none"/>
<path d="M790.57 331.20v4.3" stroke="#8a8a8a" stroke-width="1" fill="none"/>
<path d="M820.21 331.20v4.3" stroke="#8a8a8a" stroke-width="1" fill="none"/>
<path d="M849.86 331.20v4.3" stroke="#8a8a8a" stroke-width="1" fill="none"/>
<path d="M879.50 331.20v4.3" stroke="#8a8a8a" stroke-width="1" fill="none"/>
<text x="627.52" y="354" font-size="14.3" font-weight="normal" text-anchor="middle" >10</text>
<text x="657.17" y="354" font-size="14.3" font-weight="normal" text-anchor="middle" >50</text>
<text x="686.81" y="354" font-size="14.3" font-weight="normal" text-anchor="middle" >90</text>
<text x="716.46" y="354" font-size="14.3" font-weight="normal" text-anchor="middle" >130</text>
<text x="746.10" y="354" font-size="14.3" font-weight="normal" text-anchor="middle" >170</text>
<text x="775.74" y="354" font-size="14.3" font-weight="normal" text-anchor="middle" >200</text>
<text x="805.39" y="354" font-size="14.3" font-weight="normal" text-anchor="middle" >400</text>
<text x="835.03" y="354" font-size="14.3" font-weight="normal" text-anchor="middle" >600</text>
<text x="864.68" y="354" font-size="14.3" font-weight="normal" text-anchor="middle" >800</text>
<path d="M627.52 180.02L657.17 221.30M657.17 221.30L686.81 262.40M686.81 262.40L716.46 303.68M716.46 303.68L746.10 303.68M746.10 303.68L775.74 303.68M775.74 303.68L805.39 331.20M805.39 331.20L835.03 331.20M835.03 331.20L864.68 331.20" fill="none" stroke="#4a7ebb" stroke-width="2.7" stroke-linecap="round" stroke-dasharray="0.1 5.3"/>
<path d="M624.22 176.72L630.82 183.32M624.22 183.32L630.82 176.72" stroke="#4a7ebb" stroke-width="1.3" fill="none"/>
<path d="M653.87 218.00L660.47 224.60M653.87 224.60L660.47 218.00" stroke="#4a7ebb" stroke-width="1.3" fill="none"/>
<path d="M683.51 259.10L690.11 265.70M683.51 265.70L690.11 259.10" stroke="#4a7ebb" stroke-width="1.3" fill="none"/>
<path d="M713.16 300.38L719.76 306.98M713.16 306.98L719.76 300.38" stroke="#4a7ebb" stroke-width="1.3" fill="none"/>
<path d="M742.80 300.38L749.40 306.98M742.80 306.98L749.40 300.38" stroke="#4a7ebb" stroke-width="1.3" fill="none"/>
<path d="M772.44 300.38L779.04 306.98M772.44 306.98L779.04 300.38" stroke="#4a7ebb" stroke-width="1.3" fill="none"/>
<path d="M802.09 327.90L808.69 334.50M802.09 334.50L808.69 327.90" stroke="#4a7ebb" stroke-width="1.3" fill="none"/>
<path d="M831.73 327.90L838.33 334.50M831.73 334.50L838.33 327.90" stroke="#4a7ebb" stroke-width="1.3" fill="none"/>
<path d="M861.38 327.90L867.98 334.50M861.38 334.50L867.98 327.90" stroke="#4a7ebb" stroke-width="1.3" fill="none"/>
<path d="M627.52 178.05L657.17 229.16M657.17 229.16L686.81 229.16M686.81 229.16L716.46 254.54M716.46 254.54L746.10 254.54M746.10 254.54L775.74 254.54M775.74 254.54L805.39 305.65M805.39 305.65L835.03 331.20M835.03 331.20L864.68 331.20" fill="none" stroke="#be4b48" stroke-width="3.2" stroke-linecap="round" stroke-dasharray="19.6 11"/>
<circle cx="627.52" cy="178.05" r="3.5" fill="#be4b48"/>
<circle cx="657.17" cy="229.16" r="3.5" fill="#be4b48"/>
<circle cx="686.81" cy="229.16" r="3.5" fill="#be4b48"/>
<circle cx="716.46" cy="254.54" r="3.5" fill="#be4b48"/>
<circle cx="746.10" cy="254.54" r="3.5" fill="#be4b48"/>
<circle cx="775.74" cy="254.54" r="3.5" fill="#be4b48"/>
<circle cx="805.39" cy="305.65" r="3.5" fill="#be4b48"/>
<circle cx="835.03" cy="331.20" r="3.5" fill="#be4b48"/>
<circle cx="864.68" cy="331.20" r="3.5" fill="#be4b48"/>
<polyline points="627.52,286.52 657.17,286.52 686.81,331.20 716.46,331.20 746.10,331.20 775.74,331.20 805.39,331.20 835.03,331.20 864.68,331.20" fill="none" stroke="#98b954" stroke-width="3.0" stroke-linecap="butt" stroke-linejoin="round" />
<rect x="624.22" y="283.22" width="6.6" height="6.6" fill="#98b954"/>
<rect x="653.87" y="283.22" width="6.6" height="6.6" fill="#98b954"/>
<rect x="683.51" y="327.90" width="6.6" height="6.6" fill="#98b954"/>
<rect x="713.16" y="327.90" width="6.6" height="6.6" fill="#98b954"/>
<rect x="742.80" y="327.90" width="6.6" height="6.6" fill="#98b954"/>
<rect x="772.44" y="327.90" width="6.6" height="6.6" fill="#98b954"/>
<rect x="802.09" y="327.90" width="6.6" height="6.6" fill="#98b954"/>
<rect x="831.73" y="327.90" width="6.6" height="6.6" fill="#98b954"/>
<rect x="861.38" y="327.90" width="6.6" height="6.6" fill="#98b954"/>
<text x="629.5" y="125" font-size="24.8" font-weight="bold" text-anchor="start" >Rate of Over-segmentation</text>
<text x="534.5" y="250.5" font-size="19.3" font-weight="bold" text-anchor="start" >Rate</text>
<text x="746" y="379.5" font-size="19.6" font-weight="bold" text-anchor="middle" >MC</text>
<path d="M884.10 236.60H913.30" fill="none" stroke="#4a7ebb" stroke-width="2.7" stroke-linecap="round" stroke-dasharray="0.1 5.3"/>
<path d="M896.75 233.30L903.35 239.90M896.75 239.90L903.35 233.30" stroke="#4a7ebb" stroke-width="1.3" fill="none"/>
<text x="920" y="240.90" font-size="14.8" font-weight="normal" text-anchor="start" >Small Objects</text>
<path d="M884.80 260.20H904.30" fill="none" stroke="#be4b48" stroke-width="3.2" stroke-linecap="round"/>
<circle cx="914.60" cy="260.20" r="1.5" fill="#be4b48"/>
<circle cx="900.05" cy="260.20" r="3.5" fill="#be4b48"/>
<text x="920" y="264.50" font-size="14.8" font-weight="normal" text-anchor="start" >Medium Objects</text>
<path d="M883.30 284.00H916.80" fill="none" stroke="#98b954" stroke-width="3.0" stroke-linecap="butt" />
<rect x="896.75" y="280.70" width="6.6" height="6.6" fill="#98b954"/>
<text x="920" y="288.30" font-size="14.8" font-weight="normal" text-anchor="start" >Large Objects</text>

<path d="M80.60 764.80H351.40" stroke="#8a8a8a" stroke-width="1.15" fill="none"/>
<text x="67.5" y="769.40" font-size="14.4" font-weight="normal" text-anchor="end" >0</text>
<path d="M80.60 728.98H351.40" stroke="#8a8a8a" stroke-width="1.15" fill="none"/>
<text x="67.5" y="733.58" font-size="14.4" font-weight="normal" text-anchor="end" >0.2</text>
<path d="M80.60 693.16H351.40" stroke="#8a8a8a" stroke-width="1.15" fill="none"/>
<text x="67.5" y="697.76" font-size="14.4" font-weight="normal" text-anchor="end" >0.4</text>
<path d="M80.60 657.34H351.40" stroke="#8a8a8a" stroke-width="1.15" fill="none"/>
<text x="67.5" y="661.94" font-size="14.4" font-weight="normal" text-anchor="end" >0.6</text>
<path d="M80.60 621.52H351.40" stroke="#8a8a8a" stroke-width="1.15" fill="none"/>
<text x="67.5" y="626.12" font-size="14.4" font-weight="normal" text-anchor="end" >0.8</text>
<path d="M80.60 585.70H351.40" stroke="#8a8a8a" stroke-width="1.15" fill="none"/>
<text x="67.5" y="590.30" font-size="14.4" font-weight="normal" text-anchor="end" >1.0</text>
<path d="M84.80 585.70V764.80" stroke="#8a8a8a" stroke-width="1" fill="none"/>
<path d="M84.80 764.80v4.3" stroke="#8a8a8a" stroke-width="1" fill="none"/>
<path d="M114.42 764.80v4.3" stroke="#8a8a8a" stroke-width="1" fill="none"/>
<path d="M144.04 764.80v4.3" stroke="#8a8a8a" stroke-width="1" fill="none"/>
<path d="M173.67 764.80v4.3" stroke="#8a8a8a" stroke-width="1" fill="none"/>
<path d="M203.29 764.80v4.3" stroke="#8a8a8a" stroke-width="1" fill="none"/>
<path d="M232.91 764.80v4.3" stroke="#8a8a8a" stroke-width="1" fill="none"/>
<path d="M262.53 764.80v4.3" stroke="#8a8a8a" stroke-width="1" fill="none"/>
<path d="M292.16 764.80v4.3" stroke="#8a8a8a" stroke-width="1" fill="none"/>
<path d="M321.78 764.80v4.3" stroke="#8a8a8a" stroke-width="1" fill="none"/>
<path d="M351.40 764.80v4.3" stroke="#8a8a8a" stroke-width="1" fill="none"/>
<text x="99.61" y="787.5" font-size="14.3" font-weight="normal" text-anchor="middle" >10</text>
<text x="129.23" y="787.5" font-size="14.3" font-weight="normal" text-anchor="middle" >50</text>
<text x="158.86" y="787.5" font-size="14.3" font-weight="normal" text-anchor="middle" >90</text>
<text x="188.48" y="787.5" font-size="14.3" font-weight="normal" text-anchor="middle" >130</text>
<text x="218.10" y="787.5" font-size="14.3" font-weight="normal" text-anchor="middle" >170</text>
<text x="247.72" y="787.5" font-size="14.3" font-weight="normal" text-anchor="middle" >200</text>
<text x="277.34" y="787.5" font-size="14.3" font-weight="normal" text-anchor="middle" >400</text>
<text x="306.97" y="787.5" font-size="14.3" font-weight="normal" text-anchor="middle" >600</text>
<text x="336.59" y="787.5" font-size="14.3" font-weight="normal" text-anchor="middle" >800</text>
<path d="M99.61 764.80L129.23 751.01M129.23 751.01L158.86 695.85M158.86 695.85L188.48 695.85M188.48 695.85L218.10 668.44M218.10 668.44L247.72 668.44M247.72 668.44L277.34 613.28M277.34 613.28L306.97 585.70M306.97 585.70L336.59 585.70" fill="none" stroke="#4a7ebb" stroke-width="2.7" stroke-linecap="round" stroke-dasharray="0.1 5.3"/>
<path d="M96.31 761.50L102.91 768.10M96.31 768.10L102.91 761.50" stroke="#4a7ebb" stroke-width="1.3" fill="none"/>
<path d="M125.93 747.71L132.53 754.31M125.93 754.31L132.53 747.71" stroke="#4a7ebb" stroke-width="1.3" fill="none"/>
<path d="M155.56 692.55L162.16 699.15M155.56 699.15L162.16 692.55" stroke="#4a7ebb" stroke-width="1.3" fill="none"/>
<path d="M185.18 692.55L191.78 699.15M185.18 699.15L191.78 692.55" stroke="#4a7ebb" stroke-width="1.3" fill="none"/>
<path d="M214.80 665.14L221.40 671.74M214.80 671.74L221.40 665.14" stroke="#4a7ebb" stroke-width="1.3" fill="none"/>
<path d="M244.42 665.14L251.02 671.74M244.42 671.74L251.02 665.14" stroke="#4a7ebb" stroke-width="1.3" fill="none"/>
<path d="M274.04 609.98L280.64 616.58M274.04 616.58L280.64 609.98" stroke="#4a7ebb" stroke-width="1.3" fill="none"/>
<path d="M303.67 582.40L310.27 589.00M303.67 589.00L310.27 582.40" stroke="#4a7ebb" stroke-width="1.3" fill="none"/>
<path d="M333.29 582.40L339.89 589.00M333.29 589.00L339.89 582.40" stroke="#4a7ebb" stroke-width="1.3" fill="none"/>
<path d="M99.61 764.80L129.23 764.80M129.23 764.80L158.86 739.19M158.86 739.19L188.48 739.19M188.48 739.19L218.10 713.58M218.10 713.58L247.72 713.58M247.72 713.58L277.34 687.97M277.34 687.97L306.97 662.53M306.97 662.53L336.59 611.31" fill="none" stroke="#be4b48" stroke-width="3.2" stroke-linecap="round" stroke-dasharray="19.6 11"/>
<circle cx="99.61" cy="764.80" r="3.5" fill="#be4b48"/>
<circle cx="129.23" cy="764.80" r="3.5" fill="#be4b48"/>
<circle cx="158.86" cy="739.19" r="3.5" fill="#be4b48"/>
<circle cx="188.48" cy="739.19" r="3.5" fill="#be4b48"/>
<circle cx="218.10" cy="713.58" r="3.5" fill="#be4b48"/>
<circle cx="247.72" cy="713.58" r="3.5" fill="#be4b48"/>
<circle cx="277.34" cy="687.97" r="3.5" fill="#be4b48"/>
<circle cx="306.97" cy="662.53" r="3.5" fill="#be4b48"/>
<circle cx="336.59" cy="611.31" r="3.5" fill="#be4b48"/>
<polyline points="99.61,764.80 129.23,764.80 158.86,764.80 188.48,764.80 218.10,764.80 247.72,764.80 277.34,764.80 306.97,675.25 336.59,585.70" fill="none" stroke="#98b954" stroke-width="3.0" stroke-linecap="butt" stroke-linejoin="round" />
<rect x="96.31" y="761.50" width="6.6" height="6.6" fill="#98b954"/>
<rect x="125.93" y="761.50" width="6.6" height="6.6" fill="#98b954"/>
<rect x="155.56" y="761.50" width="6.6" height="6.6" fill="#98b954"/>
<rect x="185.18" y="761.50" width="6.6" height="6.6" fill="#98b954"/>
<rect x="214.80" y="761.50" width="6.6" height="6.6" fill="#98b954"/>
<rect x="244.42" y="761.50" width="6.6" height="6.6" fill="#98b954"/>
<rect x="274.04" y="761.50" width="6.6" height="6.6" fill="#98b954"/>
<rect x="303.67" y="671.95" width="6.6" height="6.6" fill="#98b954"/>
<rect x="333.29" y="582.40" width="6.6" height="6.6" fill="#98b954"/>
<text x="95.5" y="558" font-size="24.8" font-weight="bold" text-anchor="start" >Rate of Under-segmentation</text>
<text x="6.25" y="683.75" font-size="19.3" font-weight="bold" text-anchor="start" >Rate</text>
<text x="218" y="813" font-size="19.6" font-weight="bold" text-anchor="middle" >MC</text>
<path d="M356.40 669.70H385.60" fill="none" stroke="#4a7ebb" stroke-width="2.7" stroke-linecap="round" stroke-dasharray="0.1 5.3"/>
<path d="M369.05 666.40L375.65 673.00M369.05 673.00L375.65 666.40" stroke="#4a7ebb" stroke-width="1.3" fill="none"/>
<text x="392.2" y="674.00" font-size="14.8" font-weight="normal" text-anchor="start" >Small Objects</text>
<path d="M357.10 693.60H376.60" fill="none" stroke="#be4b48" stroke-width="3.2" stroke-linecap="round"/>
<circle cx="386.90" cy="693.60" r="1.5" fill="#be4b48"/>
<circle cx="372.35" cy="693.60" r="3.5" fill="#be4b48"/>
<text x="392.2" y="697.90" font-size="14.8" font-weight="normal" text-anchor="start" >Medium Objects</text>
<path d="M355.60 717.20H389.10" fill="none" stroke="#98b954" stroke-width="3.0" stroke-linecap="butt" />
<rect x="369.05" y="713.90" width="6.6" height="6.6" fill="#98b954"/>
<text x="392.2" y="721.50" font-size="14.8" font-weight="normal" text-anchor="start" >Large Objects</text>

<path d="M609.30 763.90H880.30" stroke="#8a8a8a" stroke-width="1.15" fill="none"/>
<text x="595.75" y="768.50" font-size="14.4" font-weight="normal" text-anchor="end" >0</text>
<path d="M609.30 728.12H880.30" stroke="#8a8a8a" stroke-width="1.15" fill="none"/>
<text x="595.75" y="732.72" font-size="14.4" font-weight="normal" text-anchor="end" >0.5</text>
<path d="M609.30 692.34H880.30" stroke="#8a8a8a" stroke-width="1.15" fill="none"/>
<text x="595.75" y="696.94" font-size="14.4" font-weight="normal" text-anchor="end" >1.0</text>
<path d="M609.30 656.56H880.30" stroke="#8a8a8a" stroke-width="1.15" fill="none"/>
<text x="595.75" y="661.16" font-size="14.4" font-weight="normal" text-anchor="end" >1.5</text>
<path d="M609.30 620.78H880.30" stroke="#8a8a8a" stroke-width="1.15" fill="none"/>
<text x="595.75" y="625.38" font-size="14.4" font-weight="normal" text-anchor="end" >2.0</text>
<path d="M609.30 585.00H880.30" stroke="#8a8a8a" stroke-width="1.15" fill="none"/>
<text x="595.75" y="589.60" font-size="14.4" font-weight="normal" text-anchor="end" >2.5</text>
<path d="M613.50 585.00V763.90" stroke="#8a8a8a" stroke-width="1" fill="none"/>
<path d="M613.50 763.90v4.3" stroke="#8a8a8a" stroke-width="1" fill="none"/>
<path d="M643.14 763.90v4.3" stroke="#8a8a8a" stroke-width="1" fill="none"/>
<path d="M672.79 763.90v4.3" stroke="#8a8a8a" stroke-width="1" fill="none"/>
<path d="M702.43 763.90v4.3" stroke="#8a8a8a" stroke-width="1" fill="none"/>
<path d="M732.08 763.90v4.3" stroke="#8a8a8a" stroke-width="1" fill="none"/>
<path d="M761.72 763.90v4.3" stroke="#8a8a8a" stroke-width="1" fill="none"/>
<path d="M791.37 763.90v4.3" stroke="#8a8a8a" stroke-width="1" fill="none"/>
<path d="M821.01 763.90v4.3" stroke="#8a8a8a" stroke-width="1" fill="none"/>
<path d="M850.66 763.90v4.3" stroke="#8a8a8a" stroke-width="1" fill="none"/>
<path d="M880.30 763.90v4.3" stroke="#8a8a8a" stroke-width="1" fill="none"/>
<text x="628.32" y="787.5" font-size="14.3" font-weight="normal" text-anchor="middle" >10</text>
<text x="657.97" y="787.5" font-size="14.3" font-weight="normal" text-anchor="middle" >50</text>
<text x="687.61" y="787.5" font-size="14.3" font-weight="normal" text-anchor="middle" >90</text>
<text x="717.26" y="787.5" font-size="14.3" font-weight="normal" text-anchor="middle" >130</text>
<text x="746.90" y="787.5" font-size="14.3" font-weight="normal" text-anchor="middle" >170</text>
<text x="776.54" y="787.5" font-size="14.3" font-weight="normal" text-anchor="middle" >200</text>
<text x="806.19" y="787.5" font-size="14.3" font-weight="normal" text-anchor="middle" >400</text>
<text x="835.83" y="787.5" font-size="14.3" font-weight="normal" text-anchor="middle" >600</text>
<text x="865.48" y="787.5" font-size="14.3" font-weight="normal" text-anchor="middle" >800</text>
<path d="M628.32 752.88L657.97 752.88M657.97 752.88L687.61 741.86M687.61 741.86L717.26 725.40M717.26 725.40L746.90 730.84M746.90 730.84L776.54 730.84M776.54 730.84L806.19 752.88M806.19 752.88L835.83 763.90M835.83 763.90L865.48 763.90" fill="none" stroke="#4a7ebb" stroke-width="2.7" stroke-linecap="round" stroke-dasharray="0.1 5.3"/>
<path d="M625.02 749.58L631.62 756.18M625.02 756.18L631.62 749.58" stroke="#4a7ebb" stroke-width="1.3" fill="none"/>
<path d="M654.67 749.58L661.27 756.18M654.67 756.18L661.27 749.58" stroke="#4a7ebb" stroke-width="1.3" fill="none"/>
<path d="M684.31 738.56L690.91 745.16M684.31 745.16L690.91 738.56" stroke="#4a7ebb" stroke-width="1.3" fill="none"/>
<path d="M713.96 722.10L720.56 728.70M713.96 728.70L720.56 722.10" stroke="#4a7ebb" stroke-width="1.3" fill="none"/>
<path d="M743.60 727.54L750.20 734.14M743.60 734.14L750.20 727.54" stroke="#4a7ebb" stroke-width="1.3" fill="none"/>
<path d="M773.24 727.54L779.84 734.14M773.24 734.14L779.84 727.54" stroke="#4a7ebb" stroke-width="1.3" fill="none"/>
<path d="M802.89 749.58L809.49 756.18M802.89 756.18L809.49 749.58" stroke="#4a7ebb" stroke-width="1.3" fill="none"/>
<path d="M832.53 760.60L839.13 767.20M832.53 767.20L839.13 760.60" stroke="#4a7ebb" stroke-width="1.3" fill="none"/>
<path d="M862.18 760.60L868.78 767.20M862.18 767.20L868.78 760.60" stroke="#4a7ebb" stroke-width="1.3" fill="none"/>
<path d="M628.32 753.67L657.97 753.67M657.97 753.67L687.61 743.43M687.61 743.43L717.26 733.20M717.26 733.20L746.90 743.43M746.90 743.43L776.54 743.43M776.54 743.43L806.19 733.20M806.19 733.20L835.83 733.20M835.83 733.20L865.48 753.67" fill="none" stroke="#be4b48" stroke-width="3.2" stroke-linecap="round" stroke-dasharray="19.6 11"/>
<circle cx="628.32" cy="753.67" r="3.5" fill="#be4b48"/>
<circle cx="657.97" cy="753.67" r="3.5" fill="#be4b48"/>
<circle cx="687.61" cy="743.43" r="3.5" fill="#be4b48"/>
<circle cx="717.26" cy="733.20" r="3.5" fill="#be4b48"/>
<circle cx="746.90" cy="743.43" r="3.5" fill="#be4b48"/>
<circle cx="776.54" cy="743.43" r="3.5" fill="#be4b48"/>
<circle cx="806.19" cy="733.20" r="3.5" fill="#be4b48"/>
<circle cx="835.83" cy="733.20" r="3.5" fill="#be4b48"/>
<circle cx="865.48" cy="753.67" r="3.5" fill="#be4b48"/>
<polyline points="628.32,710.23 657.97,710.23 687.61,692.34 717.26,692.34 746.90,692.34 776.54,692.34 806.19,692.34 835.83,728.12 865.48,763.90" fill="none" stroke="#98b954" stroke-width="3.0" stroke-linecap="butt" stroke-linejoin="round" />
<rect x="625.02" y="706.93" width="6.6" height="6.6" fill="#98b954"/>
<rect x="654.67" y="706.93" width="6.6" height="6.6" fill="#98b954"/>
<rect x="684.31" y="689.04" width="6.6" height="6.6" fill="#98b954"/>
<rect x="713.96" y="689.04" width="6.6" height="6.6" fill="#98b954"/>
<rect x="743.60" y="689.04" width="6.6" height="6.6" fill="#98b954"/>
<rect x="773.24" y="689.04" width="6.6" height="6.6" fill="#98b954"/>
<rect x="802.89" y="689.04" width="6.6" height="6.6" fill="#98b954"/>
<rect x="832.53" y="724.82" width="6.6" height="6.6" fill="#98b954"/>
<rect x="862.18" y="760.60" width="6.6" height="6.6" fill="#98b954"/>
<path d="M628.32 689.48L657.97 689.48M657.97 689.48L687.61 650.84M687.61 650.84L717.26 623.14M717.26 623.14L746.90 638.81M746.90 638.81L776.54 638.81M776.54 638.81L806.19 650.62M806.19 650.62L835.83 697.42M835.83 697.42L865.48 753.67" fill="none" stroke="#7d60a0" stroke-width="2.8" stroke-linecap="butt" stroke-dasharray="7 4.5"/>
<path d="M628.32 685.18L632.42 692.68L624.22 692.68Z" fill="#7d60a0"/>
<path d="M657.97 685.18L662.07 692.68L653.87 692.68Z" fill="#7d60a0"/>
<path d="M687.61 646.54L691.71 654.04L683.51 654.04Z" fill="#7d60a0"/>
<path d="M717.26 618.84L721.36 626.34L713.16 626.34Z" fill="#7d60a0"/>
<path d="M746.90 634.51L751.00 642.01L742.80 642.01Z" fill="#7d60a0"/>
<path d="M776.54 634.51L780.64 642.01L772.44 642.01Z" fill="#7d60a0"/>
<path d="M806.19 646.32L810.29 653.82L802.09 653.82Z" fill="#7d60a0"/>
<path d="M835.83 693.12L839.93 700.62L831.73 700.62Z" fill="#7d60a0"/>
<path d="M865.48 749.37L869.58 756.87L861.38 756.87Z" fill="#7d60a0"/>
<text x="633.25" y="558" font-size="24.8" font-weight="bold" text-anchor="start" >Rate of Well-segmentation</text>
<text x="535.25" y="683" font-size="19.3" font-weight="bold" text-anchor="start" >Rate</text>
<text x="747.5" y="813" font-size="19.6" font-weight="bold" text-anchor="middle" >MC</text>
<path d="M885.70 669.00H914.50" fill="none" stroke="#4a7ebb" stroke-width="2.7" stroke-linecap="round" stroke-dasharray="0.1 5.3"/>
<path d="M898.15 665.70L904.75 672.30M898.15 672.30L904.75 665.70" stroke="#4a7ebb" stroke-width="1.3" fill="none"/>
<text x="921.1" y="673.30" font-size="14.8" font-weight="normal" text-anchor="start" >Small Objects</text>
<path d="M886.40 692.60H905.90" fill="none" stroke="#be4b48" stroke-width="3.2" stroke-linecap="round"/>
<circle cx="915.80" cy="692.60" r="1.5" fill="#be4b48"/>
<circle cx="901.45" cy="692.60" r="3.5" fill="#be4b48"/>
<text x="921.1" y="696.90" font-size="14.8" font-weight="normal" text-anchor="start" >Medium Objects</text>
<path d="M884.90 716.10H918.00" fill="none" stroke="#98b954" stroke-width="3.0" stroke-linecap="butt" />
<rect x="898.15" y="712.80" width="6.6" height="6.6" fill="#98b954"/>
<text x="921.1" y="720.40" font-size="14.8" font-weight="normal" text-anchor="start" >Large Objects</text>
<path d="M884.90 740.70H918.00" fill="none" stroke="#7d60a0" stroke-width="2.8" stroke-linecap="butt" stroke-dasharray="7 4.5"/>
<path d="M901.45 736.40L905.55 743.90L897.35 743.90Z" fill="#7d60a0"/>
<text x="921.1" y="745.00" font-size="14.8" font-weight="normal" text-anchor="start" >Sum of Above</text>

<circle cx="717.26" cy="623.14" r="6.3" fill="none" stroke="#7d60a0" stroke-width="2.6"/>
<circle cx="687.61" cy="692.34" r="6.3" fill="none" stroke="#98b954" stroke-width="2.6"/>
<circle cx="717.26" cy="692.34" r="6.3" fill="none" stroke="#98b954" stroke-width="2.6"/>
<circle cx="746.90" cy="692.34" r="6.3" fill="none" stroke="#98b954" stroke-width="2.6"/>
<circle cx="776.54" cy="692.34" r="6.3" fill="none" stroke="#98b954" stroke-width="2.6"/>
<circle cx="806.19" cy="692.34" r="6.3" fill="none" stroke="#98b954" stroke-width="2.6"/>
<circle cx="717.26" cy="725.40" r="6.3" fill="none" stroke="#4a7ebb" stroke-width="2.6"/>
<circle cx="717.26" cy="733.20" r="6.3" fill="none" stroke="#be4b48" stroke-width="2.6"/>
<circle cx="806.19" cy="733.20" r="6.3" fill="none" stroke="#be4b48" stroke-width="2.6"/>
<circle cx="835.83" cy="733.20" r="6.3" fill="none" stroke="#be4b48" stroke-width="2.6"/>
<path d="M757 608.5L733.01 616.50" stroke="#e02a26" stroke-width="3" fill="none"/>
<path d="M724.00 619.50L731.84 612.99L734.18 620.01Z" stroke="#e02a26" stroke-width="1.3" fill="#fff" stroke-linejoin="miter"/>
<path d="M757 608.5L724.93 673.97" stroke="#e02a26" stroke-width="3" fill="none"/>
<path d="M720.75 682.50L721.61 672.34L728.25 675.60Z" stroke="#e02a26" stroke-width="1.3" fill="#fff" stroke-linejoin="miter"/>
<path d="M757 608.5L724.37 711.44" stroke="#e02a26" stroke-width="3" fill="none"/>
<path d="M721.50 720.50L720.84 710.33L727.90 712.56Z" stroke="#e02a26" stroke-width="1.3" fill="#fff" stroke-linejoin="miter"/>
<path d="M757 608.5L730.50 717.27" stroke="#e02a26" stroke-width="3" fill="none"/>
<path d="M728.25 726.50L726.90 716.39L734.09 718.15Z" stroke="#e02a26" stroke-width="1.3" fill="#fff" stroke-linejoin="miter"/>
<text x="758" y="608.7" font-size="17.3" font-weight="normal" text-anchor="start" >The peak of&#160; well-segmentation rate</text>
</svg>
</body></html>
